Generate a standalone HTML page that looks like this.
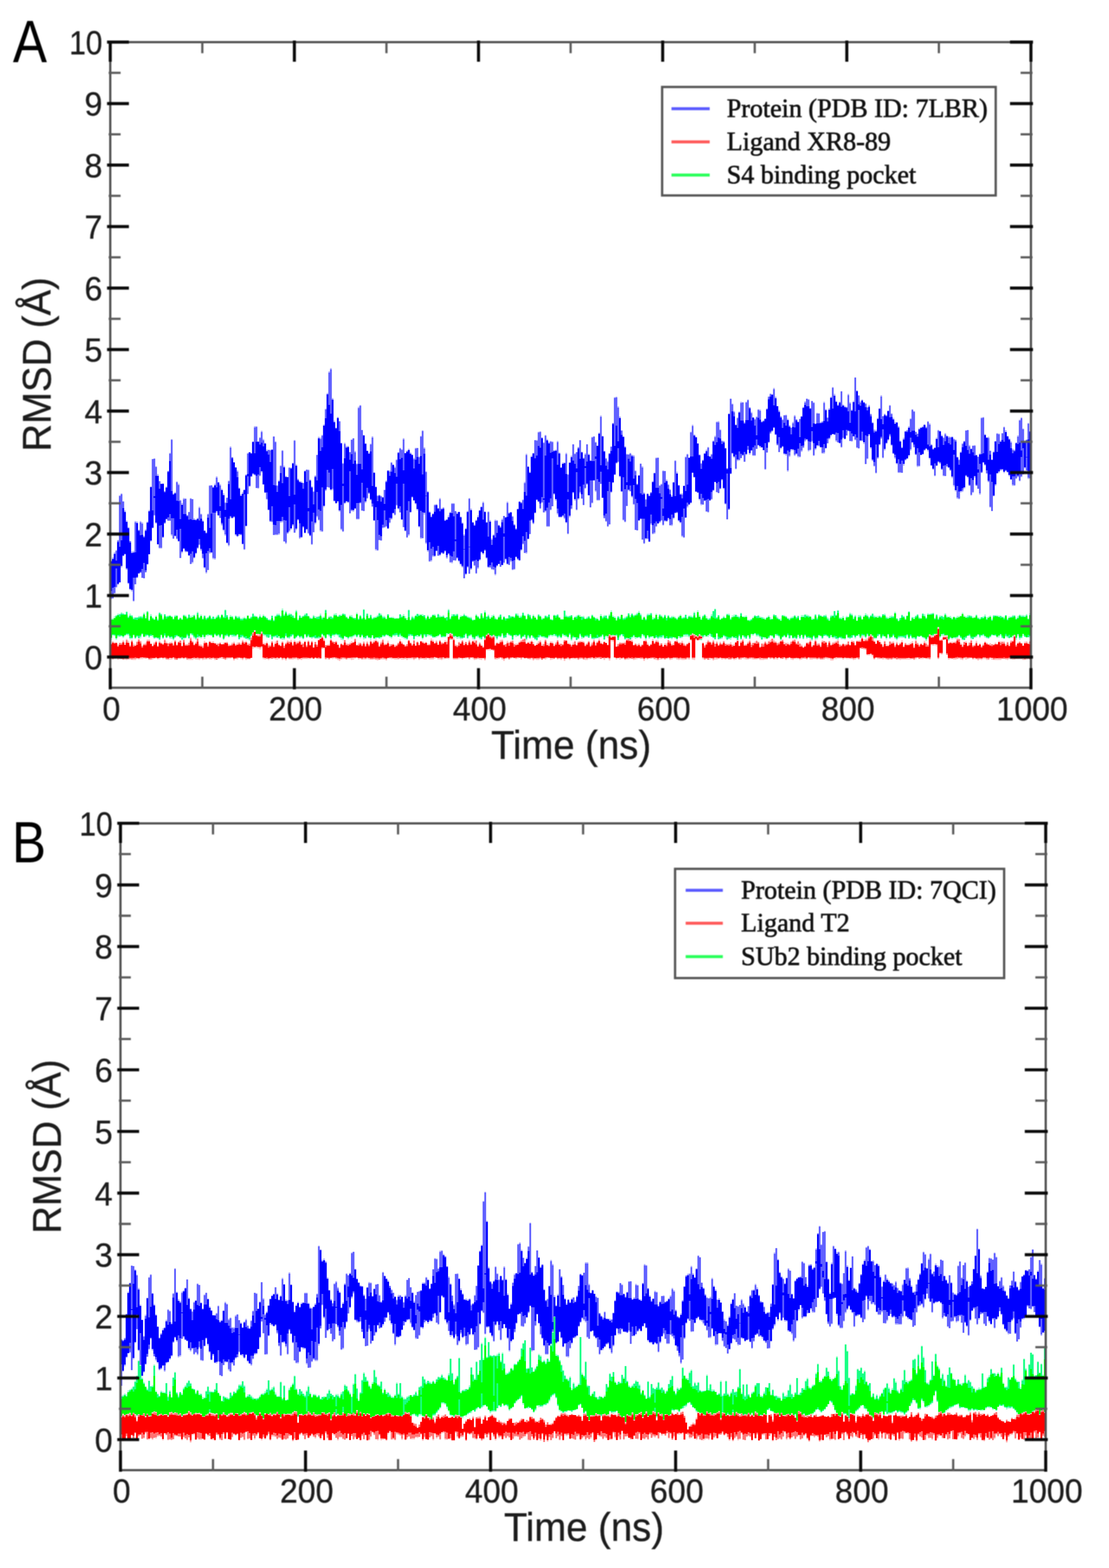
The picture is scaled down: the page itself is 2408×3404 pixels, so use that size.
<!DOCTYPE html>
<html lang="en">
<head>
<meta charset="utf-8">
<title>RMSD plots</title>
<style>
html,body{margin:0;padding:0;background:#fff;}
body{width:2408px;height:3404px;overflow:hidden;}
svg{display:block;}
text{font-family:"Liberation Sans",Arial,Helvetica,sans-serif;fill:#1c1c1c;}
.tl text,.al{stroke:#1c1c1c;stroke-width:0.6px;}
.tl text{font-size:72px;}
.al{font-size:87px;}
.lt{font-family:"Liberation Serif","Times New Roman",serif;font-size:56.5px;fill:#111;stroke:#111;stroke-width:1.2px;}
.pl{fill:#000;}
.frame{fill:none;stroke:#505050;stroke-width:4.8;}
.maj{fill:none;stroke:#0a0a0a;stroke-width:6.6;}
.mnr{fill:none;stroke:#5a5a5a;stroke-width:4.8;}
.lbox{fill:#fff;stroke:#555;stroke-width:5;}
.soft{filter:blur(1.2px);}
.tsoft{filter:blur(0.6px);}
</style>
</head>
<body>
<svg width="2408" height="3404" viewBox="0 0 2408 3404">
<defs>

<clipPath id="clipA"><rect x="239.4" y="91.5" width="1999.1" height="1401.5"/></clipPath>
<clipPath id="clipB"><rect x="261.6" y="1787.5" width="2009" height="1404.1"/></clipPath>
</defs>
<rect width="2408" height="3404" fill="#fff"/>
<g class="tsoft">
<g class="traces" clip-path="url(#clipA)">
<path d="M239.4 1216H243.2V1210H246.9V1199H250.7V1194H254.4V1172H258.2V1075H261.9V1071H265.7V1088H269.5V1108H273.2V1130H277V1144H280.7V1174H284.5V1197H288.3V1196H292V1131H295.8V1132H299.5V1150H303.3V1131H307V1134H310.8V1163H314.6V1149H318.3V1132H322.1V1107H325.8V1056H329.6V996H333.3V995H337.1V1012H340.9V1029H344.6V1044H348.4V1050H352.1V1049H355.9V1066H359.6V1056H363.4V1022H367.2V983H370.9V953H374.7V1071H378.4V1068H382.2V1045H386V1050H389.7V1085H393.5V1092H397.2V1081H401V1082H404.7V1118H408.5V1111H412.3V1081H416V1083H419.8V1125H423.5V1128H427.3V1124H431V1100H434.8V1115H438.6V1129H442.3V1151H446.1V1155H449.8V1115H453.6V1053H461.1V1056H464.9V1050H468.6V1034H472.4V1046H476.1V1051H479.9V1061H483.7V1071H487.4V1090H491.2V1080H494.9V1043H498.7V969H502.4V992H506.2V1003H510V1014H513.7V1021H517.5V1058H521.2V1073H525V1068H528.7V1062H532.5V1030H536.3V983H540V981H543.8V983H547.5V958H551.3V925H558.8V958H562.6V949H566.3V935H570.1V953H573.8V961H577.6V976H588.9V975H592.6V947H596.4V958H600.1V1053H603.9V1042H607.7V1010H611.4V977H615.2V1011H618.9V1033H622.7V1035H626.4V1014H630.2V1015H634V1005H637.7V955H641.5V1008H645.2V1039H649V1044H652.7V1045H656.5V1048H660.3V1022H664V1019H671.5V1041H675.3V1056H679.1V1066H682.8V1032H686.6V987H690.3V948H694.1V950H697.8V944H701.6V921H705.4V887H709.1V853H712.9V806H716.6V799H720.4V864H724.1V913H727.9V928H731.7V905H735.4V914H739.2V961H742.9V1005H746.7V961H750.4V968H758V981H761.7V954H765.5V951H769.2V979H773V1006H776.8V883H780.5V879H784.3V933H788V944H791.8V962H795.5V978H799.3V982H803.1V963H806.8V947H810.6V1025H814.3V1056H818.1V1075H821.8V1074H825.6V1076H829.4V1079H833.1V1063H836.9V1043H840.6V1021H848.1V1003H851.9V1008H855.7V1013H859.4V997H863.2V982H866.9V972H870.7V975H874.5V951H878.2V983H882V978H885.7V974H889.5V982H893.2V986H897V994H900.8V972H908.3V991H912V946H915.8V934H919.5V971H923.3V1023H927.1V1066H930.8V1110H934.6V1119H938.3V1115H942.1V1095H945.8V1094H949.6V1103H953.4V1081H957.1V1103H960.9V1101H964.6V1128H968.4V1127H972.2V1119H975.9V1111H979.7V1092H987.2V1109H990.9V1112H994.7V1111H998.5V1121H1002.2V1134H1006V1160H1009.7V1146H1013.5V1109H1017.2V1081H1021V1104H1024.8V1133H1028.5V1138H1032.3V1128H1036V1119H1039.8V1107H1043.5V1099H1047.3V1089H1051.1V1110H1054.8V1133H1058.6V1110H1062.3V1129H1066.1V1169H1069.9V1160H1073.6V1128H1077.4V1129H1081.1V1139H1084.9V1142H1088.6V1126H1092.4V1120H1096.2V1122H1099.9V1089H1103.7V1112H1107.4V1111H1111.2V1120H1114.9V1138H1118.7V1147H1122.5V1104H1126.2V1088H1130V1090H1133.7V1084H1137.5V1046H1141.2V985H1145V1012H1148.8V1024H1152.5V989H1156.3V983H1160V955H1167.6V937H1171.3V936H1175.1V950H1178.8V960H1182.6V944H1186.3V953H1190.1V959H1193.9V957H1197.6V958H1201.4V978H1205.1V976H1208.9V957H1212.6V982H1216.4V1014H1220.2V1004H1227.7V983H1231.4V1029H1235.2V1004H1239V989H1242.7V964H1246.5V984H1250.2V981H1254V970H1257.7V955H1261.5V981H1265.3V993H1269V984H1272.8V964H1276.5V985H1280.3V999H1284V948H1287.8V947H1291.6V959H1295.3V967H1299.1V939H1302.8V902H1306.6V946H1310.3V979H1314.1V994H1317.9V1000H1321.6V984H1325.4V969H1329.1V918H1332.9V862H1336.7V861H1340.4V882H1344.2V904H1347.9V934H1351.7V947H1355.4V969H1359.2V985H1363V986H1366.7V983H1370.5V987H1374.2V988H1378V1021H1381.7V1050H1385.5V1031H1389.3V1006H1393V1012H1396.8V1069H1400.5V1083H1404.3V1071H1408V1074H1411.8V1068H1415.6V1044H1419.3V1026H1423.1V993H1430.6V1053H1434.4V1050H1438.1V1021H1441.9V1022H1445.6V1041H1449.4V1051H1453.1V1062H1456.9V1075H1460.7V1046H1464.4V999H1468.2V1024H1471.9V1053H1475.7V1071H1483.2V1054H1487V991H1490.7V985H1494.5V993H1498.2V937H1502V922H1505.7V943H1509.5V948H1513.3V962H1517V987H1520.8V1005H1524.5V998H1528.3V983H1532.1V976H1535.8V970H1539.6V990H1543.3V985H1547.1V956H1550.8V946H1554.6V915H1558.4V914H1562.1V932H1565.9V956H1569.6V957H1573.4V972H1577.1V1016H1580.9V897H1584.7V865H1588.4V876H1592.2V892H1595.9V921H1599.7V906H1603.4V893H1607.2V872H1611V873H1614.7V916H1618.5V872H1622.2V867H1626V884H1629.8V894H1633.5V906H1637.3V909H1641V904H1644.8V888H1648.5V889H1652.3V914H1656.1V912H1659.8V908H1663.6V886H1667.3V860H1671.1V854H1674.8V855H1678.6V842H1682.4V861H1686.1V881H1689.9V890H1693.6V903H1697.4V910H1701.1V901H1704.9V900H1708.7V909H1712.4V923H1716.2V928H1719.9V916H1723.7V901H1727.5V910H1731.2V915H1735V909H1738.7V903H1742.5V883H1746.2V871H1750V865H1753.8V866H1757.5V886H1761.3V870H1765V873H1768.8V919H1772.5V896H1776.3V897H1780.1V916H1783.8V914H1787.6V872H1791.3V888H1795.1V906H1798.8V886H1802.6V861H1806.4V840H1810.1V855H1813.9V870H1817.6V878H1821.4V872H1825.2V849H1828.9V878H1832.7V881H1836.4V883H1840.2V855H1843.9V873H1847.7V889H1851.5V870H1855.2V819H1859V848H1862.7V858H1866.5V871H1870.2V867H1874V873H1877.8V875H1881.5V883H1885.3V879H1889V898H1892.8V916H1896.5V932H1900.3V933H1904.1V907H1907.8V886H1911.6V858H1915.3V903H1919.1V898H1922.9V901H1926.6V891H1930.4V879H1934.1V897H1937.9V907H1941.6V916H1949.2V925H1952.9V956H1956.7V970H1960.4V950H1964.2V935H1967.9V933H1971.7V925H1975.5V908H1979.2V888H1983V892H1986.7V937H1990.5V941H1994.2V929H1998V927H2001.8V925H2005.5V921H2009.3V926H2013V914H2016.8V919H2020.6V964H2024.3V973H2028.1V971H2031.8V950H2035.6V933H2039.3V935H2043.1V944H2046.9V949H2050.6V940H2054.4V946H2058.1V947H2061.9V948H2069.4V952H2073.2V954H2076.9V991H2080.7V997H2084.4V980H2088.2V962H2091.9V957H2095.7V934H2099.5V933H2103.2V966H2107V973H2110.7V967H2114.5V966H2118.3V987H2122V991H2125.8V984H2129.5V906H2133.3V905H2137V942H2140.8V949H2144.6V948H2148.3V978H2152.1V997H2155.8V979H2159.6V957H2163.3V940H2167.1V941H2170.9V956H2174.6V940H2178.4V926H2182.1V934H2185.9V946H2189.6V952H2193.4V958H2197.2V974H2200.9V976H2204.7V961H2208.4V945H2212.2V911H2216V906H2219.7V930H2223.5V959H2227.2V954H2231V918H2234.7V936H2238.5V1039H2234.7V1040H2231V1022H2227.2V1017H2223.5V1030H2219.7V1036H2216V1045H2212.2V1036H2208.4V1040H2204.7V1055H2197.2V1042H2193.4V1034H2189.6V1026H2185.9V1023H2182.1V1027H2178.4V1021H2174.6V1022H2170.9V1027H2167.1V1029H2163.3V1055H2159.6V1077H2155.8V1110H2152.1V1102H2148.3V1047H2144.6V1029H2140.8V1011H2137V1005H2133.3V1027H2129.5V1074H2125.8V1061H2122V1055H2118.3V1037H2114.5V1070H2110.7V1076H2107V1055H2103.2V1038H2099.5V1034H2095.7V1061H2091.9V1068H2088.2V1069H2084.4V1084H2080.7V1083H2076.9V1067H2073.2V1056H2069.4V1038H2065.6V1022H2061.9V1016H2058.1V1014H2054.4V1034H2046.9V1020H2043.1V1007H2039.3V1004H2035.6V1012H2031.8V1034H2028.1V1020H2024.3V1012H2020.6V997H2016.8V980H2013V975H2009.3V979H2005.5V987H2001.8V988H1998V1013H1994.2V1014H1990.5V988H1986.7V972H1983V962H1979.2V978H1975.5V991H1971.7V997H1967.9V1000H1964.2V1011H1960.4V1027H1949.2V1008H1945.4V996H1941.6V985H1937.9V968H1934.1V948H1930.4V957H1926.6V964H1922.9V978H1919.1V995H1915.3V953H1911.6V967H1907.8V996H1904.1V1028H1900.3V1013H1896.5V1001H1892.8V974H1889V946H1885.3V997H1881.5V1008H1877.8V964H1874V958H1866.5V974H1862.7V973H1859V956H1855.2V948H1851.5V959H1847.7V958H1843.9V936H1840.2V946H1836.4V954H1832.7V952H1828.9V972H1825.2V963H1821.4V961H1817.6V959H1813.9V944H1810.1V943H1806.4V947H1802.6V954H1798.8V963H1795.1V974H1791.3V985H1783.8V972H1780.1V969H1772.5V977H1768.8V990H1765V960H1761.3V978H1757.5V980H1753.8V956H1750V959H1746.2V973H1742.5V981H1738.7V993H1731.2V987H1727.5V990H1723.7V978H1716.2V992H1712.4V1024H1708.7V989H1704.9V987H1701.1V970H1697.4V975H1693.6V982H1689.9V967H1686.1V944H1682.4V929H1678.6V937H1674.8V942H1671.1V962H1667.3V983H1663.6V1020H1659.8V978H1656.1V972H1648.5V968H1644.8V975H1641V990H1633.5V979H1629.8V987H1626V977H1622.2V988H1618.5V1003H1614.7V990H1611V995H1607.2V1000H1603.4V1001H1599.7V1019H1595.9V994H1592.2V986H1588.4V1029H1584.7V1107H1580.9V1128H1577.1V1095H1573.4V1062H1569.6V1043H1565.9V1062H1562.1V1071H1558.4V1069H1554.6V1047H1550.8V1065H1547.1V1085H1543.3V1087H1539.6V1113H1535.8V1111H1532.1V1088H1528.3V1096H1524.5V1097H1520.8V1086H1517V1070H1513.3V1068H1509.5V1037H1505.7V1027H1502V1093H1498.2V1096H1494.5V1102H1490.7V1124H1487V1168H1483.2V1166H1479.4V1136H1475.7V1132H1471.9V1114H1468.2V1115H1464.4V1127H1460.7V1142H1456.9V1141H1453.1V1128H1449.4V1132H1441.9V1141H1438.1V1131H1434.4V1135H1430.6V1138H1426.8V1144H1423.1V1159H1419.3V1160H1415.6V1139H1411.8V1177H1408V1171H1400.5V1181H1396.8V1172H1393V1127H1389.3V1131H1385.5V1152H1381.7V1151H1378V1096H1374.2V1080H1370.5V1067H1366.7V1066H1363V1099H1359.2V1134H1355.4V1130H1351.7V1068H1347.9V1036H1344.2V1004H1340.4V1007H1336.7V1031H1332.9V1049H1329.1V1070H1325.4V1139H1321.6V1144H1317.9V1133H1314.1V1126H1310.3V1081H1306.6V1051H1302.8V1087H1295.3V1068H1291.6V1044H1287.8V1093H1284V1102H1280.3V1076H1276.5V1052H1272.8V1061H1269V1097H1265.3V1083H1261.5V1071H1257.7V1085H1254V1108H1250.2V1087H1246.5V1071H1242.7V1106H1239V1123H1235.2V1160H1231.4V1136H1227.7V1127H1223.9V1122H1220.2V1123H1212.6V1117H1208.9V1087H1205.1V1074H1201.4V1099H1197.6V1108H1193.9V1144H1186.3V1112H1182.6V1113H1178.8V1092H1175.1V1105H1171.3V1090H1167.6V1086H1163.8V1114H1160V1138H1156.3V1130H1152.5V1160H1148.8V1171H1145V1202H1141.2V1201H1137.5V1182H1133.7V1196H1130V1218H1126.2V1216H1122.5V1210H1118.7V1237H1114.9V1238H1111.2V1220H1107.4V1227H1103.7V1225H1099.9V1216H1096.2V1223H1092.4V1227H1088.6V1231H1084.9V1225H1081.1V1230H1077.4V1249H1073.6V1238H1069.9V1237H1066.1V1233H1058.6V1213H1054.8V1196H1051.1V1204H1047.3V1199H1043.5V1217H1039.8V1235H1036V1246H1032.3V1229H1028.5V1220H1024.8V1237H1021V1246H1017.2V1232H1013.5V1248H1009.7V1256H1006V1232H1002.2V1227H998.5V1220H994.7V1213H990.9V1218H987.2V1217H983.4V1223H979.7V1222H975.9V1204H972.2V1213H968.4V1198H964.6V1203H960.9V1202H957.1V1207H949.6V1197H945.8V1209H938.3V1219H934.6V1220H930.8V1198H927.1V1181H923.3V1117H919.5V1169H915.8V1170H912V1145H908.3V1108H904.5V1095H900.8V1088H897V1081H893.2V1113H889.5V1163H885.7V1168H882V1153H878.2V1145H874.5V1129H870.7V1113H866.9V1106H863.2V1098H859.4V1119H855.7V1115H851.9V1128H848.1V1136H844.4V1148H840.6V1144H836.9V1146H833.1V1147H829.4V1174H825.6V1173H821.8V1196H818.1V1195H814.3V1131H810.6V1101H806.8V1086H803.1V1072H799.3V1083H795.5V1092H791.8V1110H788V1109H784.3V1093H780.5V1128H773V1105H769.2V1111H765.5V1110H761.7V1115H758V1092H754.2V1091H750.4V1094H746.7V1155H742.9V1151H739.2V1111H735.4V1091H731.7V1094H727.9V1089H724.1V1064H720.4V1065H716.6V1059H712.9V1058H709.1V1066H705.4V1101H701.6V1155H697.8V1154H694.1V1130H690.3V1123H686.6V1138H682.8V1156H679.1V1183H675.3V1164H671.5V1159H667.8V1151H664V1158H660.3V1146H656.5V1167H652.7V1170H649V1130H645.2V1151H641.5V1157H637.7V1142H634V1150H630.2V1155H626.4V1159H622.7V1181H618.9V1176H615.2V1134H611.4V1135H607.7V1161H603.9V1162H592.6V1134H588.9V1133H585.1V1108H581.4V1085H577.6V1070H573.8V1052H570.1V1026H566.3V1034H562.6V1061H558.8V1060H555V1032H551.3V1030H547.5V1035H543.8V1056H540V1073H536.3V1143H532.5V1194H528.7V1182H525V1162H521.2V1163H517.5V1166H513.7V1163H510V1124H506.2V1126H502.4V1125H498.7V1186H494.9V1180H491.2V1163H487.4V1153H483.7V1141H479.9V1125H476.1V1120H472.4V1113H468.6V1215H464.9V1214H461.1V1201H457.3V1202H453.6V1238H449.8V1245H446.1V1234H442.3V1213H438.6V1196H434.8V1184H431V1191H427.3V1203H423.5V1212H419.8V1223H416V1225H412.3V1207H408.5V1199H401V1192H397.2V1201H393.5V1212H389.7V1176H386V1171H382.2V1165H378.4V1170H374.7V1163H370.9V1131H363.4V1128H359.6V1137H355.9V1167H352.1V1191H344.6V1182H340.9V1137H337.1V1120H333.3V1147H329.6V1176H325.8V1204H322.1V1226H318.3V1243H314.6V1256H310.8V1255H307V1244H303.3V1246H299.5V1255H295.8V1269H292V1306H288.3V1284H284.5V1281H280.7V1268H277V1237H273.2V1204H269.5V1208H265.7V1232H261.9V1265H258.2V1270H254.4V1276H250.7V1289H246.9V1300H243.2V1301H239.4Z" fill="#b8b8ff"/>
<path d="M239.4 1218H243.2V1213H246.9V1202H250.7V1196H254.4V1174H258.2V1077H261.9V1073H265.7V1089H269.5V1111H273.2V1133H277V1146H280.7V1175H284.5V1200H288.3V1199H292V1134H295.8V1135H299.5V1151H303.3V1134H307V1137H310.8V1165H314.6V1151H318.3V1134H322.1V1110H325.8V1057H329.6V997H333.3V996H337.1V1014H340.9V1033H344.6V1045H348.4V1050H355.9V1067H359.6V1058H363.4V1023H367.2V985H370.9V955H374.7V1073H378.4V1071H382.2V1047H386V1053H389.7V1087H393.5V1096H397.2V1084H401V1083H404.7V1119H408.5V1112H412.3V1083H416V1084H419.8V1128H427.3V1126H431V1103H434.8V1117H438.6V1132H442.3V1152H446.1V1157H449.8V1117H453.6V1055H457.3V1054H461.1V1058H464.9V1053H468.6V1037H472.4V1047H476.1V1054H479.9V1064H483.7V1075H487.4V1092H491.2V1081H494.9V1045H498.7V972H502.4V993H506.2V1004H510V1015H513.7V1024H517.5V1060H521.2V1076H525V1072H528.7V1064H532.5V1031H536.3V985H540V982H543.8V984H547.5V959H551.3V928H555V927H558.8V959H562.6V951H566.3V938H570.1V956H573.8V963H577.6V979H581.4V977H585.1V978H588.9V976H592.6V948H596.4V960H600.1V1055H603.9V1045H607.7V1012H611.4V979H615.2V1014H618.9V1035H622.7V1036H626.4V1016H634V1005H637.7V957H641.5V1011H645.2V1041H649V1046H652.7V1048H656.5V1049H660.3V1022H664V1020H667.8V1021H671.5V1042H675.3V1057H679.1V1068H682.8V1034H686.6V988H690.3V951H694.1V953H697.8V946H701.6V924H705.4V889H709.1V856H712.9V809H716.6V802H720.4V867H724.1V916H727.9V930H731.7V907H735.4V915H739.2V962H742.9V1007H746.7V964H750.4V971H754.2V970H758V982H761.7V955H765.5V952H769.2V982H773V1008H776.8V886H780.5V881H784.3V934H788V945H791.8V963H795.5V979H799.3V985H803.1V965H806.8V950H810.6V1026H814.3V1057H818.1V1077H821.8V1075H825.6V1078H829.4V1079H833.1V1064H836.9V1045H840.6V1021H844.4V1024H848.1V1005H851.9V1009H855.7V1016H859.4V999H863.2V982H866.9V974H870.7V977H874.5V954H878.2V984H882V980H885.7V977H889.5V985H893.2V988H897V997H900.8V974H904.5V973H908.3V993H912V948H915.8V936H919.5V974H923.3V1025H927.1V1068H930.8V1112H934.6V1122H938.3V1115H942.1V1097H945.8V1096H949.6V1103H953.4V1084H957.1V1105H960.9V1103H964.6V1130H968.4V1128H972.2V1123H975.9V1113H979.7V1094H987.2V1110H990.9V1115H994.7V1111H998.5V1123H1002.2V1136H1006V1163H1009.7V1148H1013.5V1111H1017.2V1083H1021V1107H1024.8V1134H1028.5V1141H1032.3V1130H1036V1123H1039.8V1108H1043.5V1101H1047.3V1092H1051.1V1111H1054.8V1134H1058.6V1112H1062.3V1132H1066.1V1172H1069.9V1162H1073.6V1131H1081.1V1141H1084.9V1144H1088.6V1129H1092.4V1120H1096.2V1123H1099.9V1092H1103.7V1114H1107.4V1112H1111.2V1122H1114.9V1139H1118.7V1148H1122.5V1105H1126.2V1089H1130V1091H1133.7V1086H1137.5V1049H1141.2V988H1145V1013H1148.8V1026H1152.5V992H1156.3V984H1160V956H1163.8V957H1167.6V939H1171.3V938H1175.1V950H1178.8V962H1182.6V946H1186.3V956H1190.1V962H1193.9V959H1197.6V960H1201.4V978H1208.9V960H1212.6V984H1216.4V1015H1220.2V1007H1223.9V1005H1227.7V986H1231.4V1031H1235.2V1004H1239V992H1242.7V965H1246.5V986H1250.2V982H1254V972H1257.7V956H1261.5V981H1265.3V995H1269V987H1272.8V965H1276.5V987H1280.3V1000H1284V950H1287.8V948H1291.6V961H1295.3V968H1299.1V941H1302.8V905H1306.6V947H1310.3V979H1314.1V996H1317.9V1003H1321.6V984H1325.4V970H1329.1V919H1332.9V864H1336.7V863H1340.4V885H1344.2V907H1347.9V935H1351.7V948H1355.4V970H1359.2V987H1366.7V985H1370.5V989H1374.2V991H1378V1023H1381.7V1051H1385.5V1032H1389.3V1007H1393V1015H1396.8V1071H1400.5V1085H1404.3V1072H1408V1077H1411.8V1069H1415.6V1046H1419.3V1027H1423.1V995H1426.8V994H1430.6V1055H1434.4V1052H1438.1V1023H1445.6V1044H1449.4V1053H1453.1V1064H1456.9V1078H1460.7V1047H1464.4V1001H1468.2V1028H1471.9V1053H1475.7V1073H1479.4V1074H1483.2V1055H1487V993H1490.7V987H1494.5V994H1498.2V939H1502V925H1505.7V945H1509.5V949H1513.3V963H1517V987H1520.8V1007H1524.5V999H1528.3V985H1532.1V979H1535.8V972H1539.6V991H1543.3V987H1547.1V958H1550.8V949H1554.6V917H1562.1V934H1565.9V958H1569.6V959H1573.4V973H1577.1V1017H1580.9V899H1584.7V866H1588.4V878H1592.2V895H1595.9V923H1599.7V908H1603.4V895H1607.2V875H1611V874H1614.7V918H1618.5V874H1622.2V869H1626V885H1629.8V897H1633.5V906H1637.3V911H1641V906H1644.8V890H1648.5V892H1652.3V916H1656.1V914H1659.8V909H1663.6V888H1667.3V862H1671.1V856H1674.8V857H1678.6V845H1682.4V864H1686.1V882H1689.9V893H1693.6V905H1697.4V912H1701.1V902H1708.7V912H1712.4V925H1716.2V929H1719.9V919H1723.7V904H1727.5V911H1731.2V916H1735V910H1738.7V904H1742.5V885H1746.2V874H1750V866H1753.8V868H1757.5V886H1761.3V871H1765V875H1768.8V920H1772.5V898H1780.1V918H1783.8V916H1787.6V875H1791.3V890H1795.1V907H1798.8V889H1802.6V863H1806.4V842H1810.1V859H1813.9V872H1817.6V880H1821.4V873H1825.2V850H1828.9V880H1832.7V884H1840.2V858H1843.9V876H1847.7V891H1851.5V873H1855.2V820H1859V848H1862.7V859H1866.5V874H1870.2V869H1874V873H1877.8V877H1881.5V885H1885.3V882H1889V900H1892.8V918H1896.5V935H1900.3V936H1904.1V909H1907.8V887H1911.6V861H1915.3V904H1919.1V900H1922.9V902H1926.6V892H1930.4V881H1934.1V899H1937.9V910H1941.6V920H1945.4V917H1949.2V927H1952.9V958H1956.7V972H1960.4V953H1964.2V937H1967.9V935H1971.7V928H1975.5V910H1979.2V890H1983V894H1986.7V938H1990.5V942H1994.2V932H1998V929H2001.8V927H2005.5V922H2009.3V928H2013V916H2016.8V922H2020.6V966H2024.3V975H2028.1V972H2031.8V953H2035.6V935H2039.3V936H2043.1V947H2046.9V951H2050.6V943H2054.4V946H2058.1V950H2065.6V948H2069.4V954H2073.2V956H2076.9V993H2080.7V999H2084.4V982H2088.2V964H2091.9V958H2095.7V935H2099.5V934H2103.2V969H2107V975H2110.7V968H2118.3V988H2122V992H2125.8V986H2129.5V908H2133.3V907H2137V944H2140.8V950H2144.6V951H2148.3V979H2152.1V998H2155.8V982H2159.6V958H2163.3V942H2167.1V943H2170.9V959H2174.6V941H2178.4V928H2182.1V938H2185.9V947H2189.6V953H2193.4V961H2197.2V977H2200.9V978H2204.7V961H2208.4V948H2212.2V913H2216V908H2219.7V932H2223.5V960H2227.2V955H2231V920H2234.7V936H2238.5V1038H2234.7V1037H2231V1021H2227.2V1015H2223.5V1029H2219.7V1034H2216V1043H2212.2V1034H2208.4V1038H2204.7V1053H2200.9V1052H2197.2V1041H2193.4V1031H2189.6V1025H2185.9V1022H2182.1V1024H2178.4V1019H2174.6V1020H2170.9V1024H2167.1V1027H2163.3V1052H2159.6V1077H2155.8V1109H2152.1V1100H2148.3V1045H2144.6V1027H2140.8V1009H2137V1004H2133.3V1026H2129.5V1071H2125.8V1061H2122V1054H2118.3V1034H2114.5V1068H2110.7V1074H2107V1054H2103.2V1035H2099.5V1033H2095.7V1058H2091.9V1065H2088.2V1066H2084.4V1082H2080.7V1080H2076.9V1064H2073.2V1053H2069.4V1035H2065.6V1021H2061.9V1015H2058.1V1012H2054.4V1033H2050.6V1032H2046.9V1019H2043.1V1005H2039.3V1003H2035.6V1011H2031.8V1032H2028.1V1018H2024.3V1010H2020.6V994H2016.8V977H2013V974H2009.3V977H2005.5V986H2001.8V988H1998V1011H1990.5V987H1986.7V970H1983V960H1979.2V975H1975.5V988H1971.7V995H1967.9V998H1964.2V1007H1960.4V1026H1956.7V1025H1949.2V1006H1945.4V993H1941.6V985H1937.9V966H1934.1V945H1930.4V954H1926.6V962H1922.9V975H1919.1V993H1915.3V951H1911.6V965H1907.8V994H1904.1V1026H1900.3V1011H1896.5V999H1892.8V971H1889V943H1885.3V995H1881.5V1007H1877.8V960H1874V956H1866.5V973H1862.7V971H1859V954H1855.2V947H1851.5V957H1843.9V936H1840.2V945H1836.4V953H1832.7V950H1828.9V970H1825.2V962H1821.4V960H1817.6V956H1813.9V944H1810.1V942H1806.4V944H1802.6V952H1798.8V962H1795.1V973H1791.3V982H1787.6V983H1783.8V971H1780.1V967H1772.5V974H1768.8V988H1765V957H1761.3V976H1757.5V977H1753.8V954H1750V956H1746.2V971H1742.5V978H1738.7V991H1735V990H1731.2V985H1727.5V987H1723.7V976H1719.9V975H1716.2V989H1712.4V1021H1708.7V986H1704.9V985H1701.1V970H1697.4V972H1693.6V981H1689.9V966H1686.1V944H1682.4V929H1678.6V936H1674.8V940H1671.1V960H1667.3V982H1663.6V1018H1659.8V977H1656.1V971H1652.3V969H1648.5V966H1644.8V974H1641V988H1633.5V978H1629.8V984H1626V976H1622.2V986H1618.5V1002H1614.7V988H1611V994H1607.2V998H1599.7V1017H1595.9V991H1592.2V984H1588.4V1029H1584.7V1106H1580.9V1127H1577.1V1094H1573.4V1060H1569.6V1041H1565.9V1061H1562.1V1070H1558.4V1068H1554.6V1046H1550.8V1065H1547.1V1083H1543.3V1087H1539.6V1111H1535.8V1110H1532.1V1087H1528.3V1095H1524.5V1094H1520.8V1083H1517V1070H1513.3V1067H1509.5V1036H1505.7V1026H1502V1091H1498.2V1096H1494.5V1099H1490.7V1124H1487V1166H1483.2V1163H1479.4V1134H1475.7V1130H1471.9V1113H1464.4V1124H1460.7V1139H1456.9V1140H1453.1V1125H1449.4V1132H1445.6V1131H1441.9V1139H1438.1V1129H1434.4V1133H1430.6V1136H1426.8V1142H1423.1V1156H1419.3V1158H1415.6V1136H1411.8V1176H1408V1169H1400.5V1179H1396.8V1171H1393V1127H1389.3V1130H1385.5V1151H1381.7V1150H1378V1094H1374.2V1078H1370.5V1066H1366.7V1063H1363V1098H1359.2V1132H1355.4V1128H1351.7V1067H1347.9V1034H1344.2V1002H1340.4V1005H1336.7V1031H1332.9V1047H1329.1V1068H1325.4V1138H1321.6V1142H1317.9V1131H1314.1V1124H1310.3V1081H1306.6V1050H1302.8V1085H1295.3V1065H1291.6V1043H1287.8V1091H1284V1101H1280.3V1075H1276.5V1051H1272.8V1059H1269V1096H1265.3V1082H1261.5V1068H1257.7V1082H1254V1106H1250.2V1084H1246.5V1069H1242.7V1104H1239V1120H1235.2V1158H1231.4V1134H1227.7V1124H1223.9V1119H1220.2V1123H1212.6V1114H1208.9V1084H1205.1V1072H1201.4V1099H1197.6V1106H1193.9V1142H1186.3V1109H1182.6V1112H1178.8V1090H1175.1V1103H1171.3V1089H1167.6V1085H1163.8V1114H1160V1136H1156.3V1129H1152.5V1159H1148.8V1170H1145V1199H1141.2V1200H1137.5V1180H1133.7V1193H1130V1216H1126.2V1214H1122.5V1209H1118.7V1235H1114.9V1236H1111.2V1217H1107.4V1226H1103.7V1225H1099.9V1213H1096.2V1221H1092.4V1227H1088.6V1230H1084.9V1224H1081.1V1228H1077.4V1246H1073.6V1236H1069.9V1235H1066.1V1231H1058.6V1211H1054.8V1195H1051.1V1201H1047.3V1199H1043.5V1215H1039.8V1232H1036V1244H1032.3V1227H1028.5V1219H1024.8V1235H1021V1245H1017.2V1231H1013.5V1246H1009.7V1255H1006V1230H1002.2V1224H998.5V1217H994.7V1211H990.9V1216H983.4V1220H975.9V1202H972.2V1210H968.4V1196H964.6V1202H960.9V1200H957.1V1204H953.4V1206H949.6V1196H945.8V1207H942.1V1206H938.3V1216H934.6V1218H930.8V1195H927.1V1178H923.3V1113H919.5V1168H915.8V1167H912V1143H908.3V1105H904.5V1093H900.8V1086H897V1079H893.2V1112H889.5V1160H885.7V1166H882V1153H878.2V1144H874.5V1128H870.7V1112H866.9V1104H863.2V1096H859.4V1117H855.7V1114H851.9V1126H848.1V1134H844.4V1148H840.6V1142H836.9V1144H833.1V1145H829.4V1173H825.6V1172H821.8V1194H818.1V1192H814.3V1130H810.6V1099H806.8V1085H803.1V1071H799.3V1081H795.5V1089H791.8V1109H788V1108H784.3V1092H780.5V1126H773V1104H769.2V1108H761.7V1114H758V1090H754.2V1088H750.4V1092H746.7V1153H742.9V1148H739.2V1108H735.4V1088H731.7V1092H727.9V1087H724.1V1061H720.4V1063H716.6V1058H712.9V1057H709.1V1064H705.4V1098H701.6V1153H697.8V1151H694.1V1128H690.3V1120H686.6V1135H682.8V1155H679.1V1181H675.3V1163H671.5V1157H667.8V1149H664V1157H660.3V1143H656.5V1167H649V1128H645.2V1148H641.5V1156H637.7V1139H634V1147H630.2V1152H626.4V1157H622.7V1178H618.9V1175H615.2V1131H611.4V1132H607.7V1158H603.9V1160H596.4V1161H592.6V1132H585.1V1107H581.4V1083H577.6V1070H573.8V1052H570.1V1023H566.3V1032H562.6V1059H555V1031H551.3V1029H547.5V1035H543.8V1056H540V1072H536.3V1142H532.5V1192H528.7V1181H525V1161H521.2V1160H517.5V1164H513.7V1160H510V1122H506.2V1124H502.4V1122H498.7V1183H494.9V1178H491.2V1160H487.4V1150H483.7V1138H479.9V1124H476.1V1119H472.4V1110H468.6V1212H464.9V1211H461.1V1199H453.6V1237H449.8V1242H446.1V1232H442.3V1211H438.6V1193H434.8V1182H431V1190H427.3V1201H423.5V1211H419.8V1220H416V1224H412.3V1206H408.5V1197H401V1191H397.2V1198H393.5V1211H389.7V1175H386V1169H382.2V1163H378.4V1169H374.7V1160H370.9V1130H363.4V1127H359.6V1136H355.9V1167H352.1V1189H344.6V1182H340.9V1135H337.1V1118H333.3V1146H329.6V1174H325.8V1203H322.1V1225H318.3V1242H314.6V1255H310.8V1254H307V1243H303.3V1245H299.5V1254H295.8V1268H292V1304H288.3V1281H284.5V1279H280.7V1266H277V1235H273.2V1203H269.5V1206H265.7V1229H261.9V1264H258.2V1268H254.4V1274H250.7V1287H246.9V1298H243.2V1299H239.4Z" fill="#6060ff"/>
<path d="M239.4 1219H243.2V1214H246.9V1203H250.7V1217H254.4V1177H258.2V1187H261.9V1173H265.7V1103H269.5V1112H273.2V1133H277V1147H280.7V1178H284.5V1201H288.3V1200H292V1199H295.8V1136H299.5V1153H303.3V1162H307V1161H310.8V1167H314.6V1153H318.3V1135H322.1V1110H325.8V1058H329.6V1108H333.3V1077H337.1V1033H344.6V1061H348.4V1051H355.9V1069H359.6V1059H363.4V1025H367.2V1001H370.9V1066H374.7V1074H378.4V1071H382.2V1087H386V1088H389.7V1127H393.5V1096H397.2V1116H404.7V1121H408.5V1128H412.3V1127H416V1129H423.5V1130H427.3V1127H431V1130H434.8V1126H438.6V1132H442.3V1153H446.1V1158H449.8V1124H453.6V1146H457.3V1115H461.1V1059H464.9V1054H468.6V1058H472.4V1048H476.1V1099H479.9V1064H483.7V1075H487.4V1107H491.2V1092H494.9V1051H498.7V1084H502.4V995H506.2V1004H510V1015H513.7V1036H517.5V1061H521.2V1077H525V1072H528.7V1064H532.5V1033H536.3V1029H540V982H543.8V985H547.5V960H551.3V984H555V959H562.6V965H566.3V961H570.1V969H573.8V963H577.6V980H581.4V987H585.1V1003H588.9V977H592.6V1053H596.4V1054H600.1V1068H603.9V1045H607.7V1027H611.4V1049H615.2V1015H618.9V1036H626.4V1077H630.2V1018H634V1007H637.7V1074H641.5V1011H645.2V1043H649V1047H652.7V1048H656.5V1061H660.3V1024H664V1046H667.8V1103H671.5V1044H675.3V1059H679.1V1095H682.8V1036H686.6V1043H690.3V952H694.1V979H697.8V971H701.6V924H705.4V908H709.1V856H712.9V879H716.6V898H720.4V868H724.1V917H727.9V930H731.7V908H735.4V936H739.2V963H742.9V1050H746.7V995H750.4V972H754.2V971H758V998H761.7V986H765.5V1007H769.2V1000H773V1031H776.8V1007H784.3V1019H788V946H791.8V964H795.5V979H799.3V985H803.1V980H806.8V1055H810.6V1027H814.3V1058H818.1V1088H821.8V1077H825.6V1089H829.4V1081H833.1V1094H836.9V1047H840.6V1023H844.4V1033H848.1V1024H851.9V1010H855.7V1027H859.4V1035H863.2V984H866.9V997H870.7V994H874.5V1021H878.2V984H882V981H885.7V977H889.5V985H893.2V988H897V1017H900.8V998H904.5V992H908.3V1007H912V990H915.8V1030H919.5V985H923.3V1076H927.1V1069H930.8V1113H934.6V1123H938.3V1117H942.1V1111H945.8V1097H949.6V1105H953.4V1110H957.1V1106H960.9V1105H964.6V1131H968.4V1129H972.2V1123H975.9V1114H983.4V1121H987.2V1171H990.9V1116H994.7V1112H998.5V1123H1002.2V1137H1006V1192H1009.7V1149H1013.5V1112H1017.2V1187H1021V1108H1024.8V1135H1028.5V1141H1032.3V1131H1036V1123H1039.8V1109H1043.5V1101H1047.3V1128H1051.1V1112H1054.8V1135H1058.6V1165H1062.3V1133H1066.1V1183H1069.9V1163H1073.6V1167H1077.4V1157H1081.1V1141H1084.9V1146H1088.6V1134H1092.4V1158H1096.2V1124H1099.9V1122H1103.7V1115H1107.4V1113H1111.2V1131H1114.9V1141H1118.7V1150H1122.5V1106H1126.2V1090H1130V1093H1133.7V1105H1137.5V1068H1141.2V1076H1145V1014H1148.8V1027H1152.5V992H1156.3V985H1160V995H1163.8V989H1167.6V968H1171.3V972H1175.1V952H1178.8V1082H1182.6V989H1186.3V956H1190.1V963H1193.9V983H1197.6V981H1201.4V980H1205.1V979H1208.9V1009H1212.6V985H1216.4V1016H1220.2V1007H1223.9V1006H1227.7V1029H1231.4V1068H1235.2V1005H1239V993H1242.7V1000H1246.5V1007H1250.2V1017H1254V974H1257.7V996H1261.5V983H1265.3V996H1269V1012H1272.8V1002H1276.5V988H1280.3V1001H1291.6V991H1295.3V968H1299.1V942H1302.8V1010H1306.6V948H1310.3V981H1314.1V1011H1317.9V1019H1321.6V986H1325.4V979H1329.1V921H1332.9V968H1336.7V924H1340.4V958H1344.2V908H1347.9V944H1351.7V949H1355.4V972H1359.2V1047H1363V996H1366.7V1002H1370.5V991H1374.2V1039H1378V1032H1381.7V1053H1385.5V1033H1389.3V1071H1393V1074H1396.8V1073H1400.5V1100H1404.3V1073H1408V1077H1411.8V1071H1415.6V1047H1419.3V1028H1423.1V1059H1430.6V1071H1434.4V1079H1438.1V1104H1441.9V1048H1445.6V1045H1449.4V1061H1453.1V1073H1456.9V1079H1460.7V1048H1464.4V1077H1468.2V1028H1471.9V1055H1475.7V1074H1479.4V1082H1483.2V1055H1487V1066H1490.7V1052H1494.5V994H1498.2V991H1505.7V946H1509.5V950H1513.3V963H1517V989H1520.8V1018H1524.5V1001H1528.3V985H1532.1V980H1535.8V990H1539.6V992H1543.3V996H1547.1V959H1550.8V966H1554.6V960H1558.4V950H1562.1V952H1565.9V964H1569.6V961H1573.4V974H1577.1V1019H1580.9V899H1584.7V1016H1588.4V893H1592.2V904H1595.9V923H1599.7V929H1603.4V896H1607.2V913H1614.7V920H1618.5V912H1626V887H1629.8V913H1633.5V907H1637.3V924H1641V945H1644.8V907H1648.5V911H1652.3V917H1656.1V915H1659.8V910H1663.6V889H1667.3V867H1671.1V861H1674.8V857H1678.6V880H1682.4V865H1686.1V882H1689.9V895H1693.6V907H1697.4V929H1701.1V918H1704.9V924H1708.7V912H1712.4V927H1716.2V943H1719.9V927H1723.7V928H1727.5V913H1731.2V917H1735V949H1738.7V905H1742.5V886H1746.2V879H1750V882H1757.5V888H1761.3V927H1765V919H1768.8V921H1772.5V919H1783.8V918H1787.6V914H1791.3V891H1795.1V915H1798.8V890H1802.6V864H1806.4V887H1810.1V859H1813.9V873H1817.6V881H1821.4V875H1825.2V883H1828.9V881H1832.7V884H1836.4V886H1840.2V893H1843.9V918H1847.7V892H1851.5V873H1855.2V893H1859V850H1862.7V878H1866.5V881H1870.2V870H1874V875H1877.8V884H1881.5V891H1885.3V884H1889V904H1892.8V919H1896.5V939H1900.3V937H1904.1V910H1907.8V888H1911.6V910H1915.3V921H1919.1V902H1922.9V904H1926.6V893H1930.4V906H1934.1V905H1937.9V911H1941.6V920H1945.4V918H1949.2V929H1952.9V959H1956.7V973H1960.4V955H1964.2V937H1967.9V938H1971.7V929H1975.5V938H1979.2V935H1986.7V944H1990.5V948H1994.2V932H1998V929H2001.8V928H2005.5V923H2009.3V930H2013V965H2016.8V969H2020.6V967H2024.3V976H2028.1V973H2031.8V953H2035.6V971H2039.3V937H2043.1V947H2046.9V966H2050.6V958H2054.4V948H2058.1V962H2061.9V965H2065.6V950H2069.4V977H2073.2V959H2076.9V993H2080.7V1009H2084.4V983H2088.2V971H2091.9V960H2095.7V968H2099.5V977H2103.2V985H2107V975H2110.7V982H2114.5V989H2122V1019H2125.8V987H2129.5V986H2133.3V984H2137V945H2140.8V951H2144.6V998H2148.3V987H2152.1V999H2155.8V982H2159.6V959H2163.3V981H2167.1V964H2170.9V959H2174.6V955H2178.4V959H2182.1V938H2185.9V948H2189.6V955H2193.4V973H2197.2V984H2200.9V980H2204.7V963H2208.4V964H2212.2V961H2216V978H2219.7V960H2223.5V961H2227.2V992H2231V954H2234.7V938H2238.5V1024H2234.7V1022H2231V993H2227.2V1014H2223.5V973H2219.7V992H2216V1024H2212.2V1032H2208.4V1026H2204.7V1034H2197.2V1040H2193.4V1031H2189.6V1024H2185.9V1020H2182.1V1024H2178.4V1018H2170.9V1023H2167.1V1027H2163.3V1051H2159.6V1075H2155.8V1046H2152.1V1030H2148.3V1043H2144.6V1021H2140.8V1008H2137V1003H2133.3V1024H2129.5V1007H2125.8V1026H2122V1052H2118.3V1033H2114.5V1042H2110.7V1038H2107V1052H2103.2V1035H2099.5V1031H2095.7V1058H2091.9V1060H2088.2V1066H2084.4V1067H2080.7V1055H2076.9V1064H2073.2V987H2069.4V1034H2065.6V1019H2061.9V1014H2058.1V1007H2054.4V1010H2050.6V1011H2046.9V1017H2043.1V1003H2039.3V1001H2035.6V1010H2031.8V1006H2028.1V1017H2024.3V1010H2020.6V994H2016.8V976H2013V973H2009.3V976H2005.5V985H2001.8V987H1998V982H1994.2V973H1990.5V985H1986.7V965H1983V960H1979.2V950H1975.5V988H1971.7V995H1967.9V997H1964.2V1007H1960.4V1000H1956.7V1007H1952.9V997H1949.2V1005H1945.4V987H1941.6V983H1937.9V965H1934.1V942H1930.4V954H1926.6V961H1922.9V974H1919.1V932H1915.3V948H1911.6V964H1907.8V992H1904.1V965H1900.3V1003H1896.5V997H1892.8V971H1889V942H1885.3V947H1881.5V945H1877.8V960H1874V937H1870.2V956H1866.5V890H1862.7V950H1859V943H1855.2V947H1851.5V941H1847.7V936H1843.9V934H1840.2V933H1836.4V952H1832.7V934H1828.9V954H1825.2V961H1821.4V940H1817.6V939H1813.9V942H1806.4V944H1802.6V950H1798.8V952H1795.1V972H1791.3V964H1787.6V971H1783.8V970H1780.1V957H1776.3V966H1772.5V973H1768.8V962H1765V936H1761.3V959H1757.5V958H1753.8V953H1750V952H1746.2V967H1742.5V968H1738.7V962H1735V974H1731.2V984H1727.5V977H1723.7V975H1716.2V981H1712.4V978H1708.7V985H1704.9V984H1701.1V968H1697.4V972H1693.6V949H1689.9V963H1686.1V942H1682.4V927H1678.6V934H1674.8V937H1671.1V959H1667.3V972H1663.6V962H1659.8V977H1656.1V971H1652.3V968H1648.5V966H1644.8V954H1641V967H1637.3V971H1633.5V977H1629.8V983H1626V968H1622.2V985H1618.5V981H1614.7V987H1611V985H1607.2V980H1603.4V997H1599.7V987H1595.9V991H1592.2V983H1588.4V1027H1584.7V1104H1580.9V1028H1577.1V1092H1573.4V1059H1569.6V1040H1565.9V1059H1562.1V1046H1558.4V1049H1554.6V1046H1550.8V1063H1547.1V1068H1543.3V1085H1539.6V1083H1535.8V1085H1532.1V1086H1528.3V1081H1524.5V1072H1520.8V1083H1517V1068H1513.3V1067H1509.5V1035H1505.7V1026H1502V1091H1498.2V1094H1494.5V1091H1490.7V1123H1487V1104H1483.2V1122H1479.4V1133H1475.7V1129H1471.9V1111H1468.2V1113H1464.4V1124H1460.7V1117H1456.9V1127H1453.1V1124H1449.4V1130H1445.6V1129H1441.9V1120H1438.1V1083H1434.4V1131H1430.6V1136H1426.8V1132H1423.1V1136H1419.3V1140H1415.6V1117H1411.8V1175H1408V1152H1404.3V1168H1400.5V1126H1393V1125H1389.3V1129H1385.5V1092H1381.7V1083H1378V1053H1374.2V1076H1370.5V1054H1366.7V1063H1363V1053H1359.2V1062H1355.4V1036H1351.7V1066H1347.9V1033H1344.2V973H1340.4V1004H1336.7V1029H1332.9V1047H1329.1V1067H1325.4V1046H1321.6V1066H1317.9V1115H1314.1V1119H1310.3V1080H1306.6V1024H1302.8V1046H1299.1V1040H1295.3V996H1291.6V1042H1287.8V1043H1280.3V1075H1276.5V1049H1272.8V1016H1269V1052H1265.3V1073H1261.5V1056H1257.7V1082H1254V1025H1250.2V1083H1246.5V1068H1242.7V1097H1239V1119H1235.2V1084H1231.4V1133H1227.7V1115H1223.9V1119H1220.2V1121H1212.6V1104H1208.9V1083H1205.1V1071H1201.4V995H1197.6V1082H1193.9V1091H1190.1V1102H1186.3V1108H1182.6V1085H1178.8V1079H1175.1V1093H1171.3V1088H1167.6V1084H1163.8V1112H1160V1134H1156.3V1127H1152.5V1130H1148.8V1169H1145V1155H1141.2V1174H1137.5V1164H1133.7V1193H1130V1216H1126.2V1212H1122.5V1208H1118.7V1216H1114.9V1218H1111.2V1211H1107.4V1209H1103.7V1223H1099.9V1213H1096.2V1165H1092.4V1226H1088.6V1217H1084.9V1224H1081.1V1227H1077.4V1232H1073.6V1230H1069.9V1221H1066.1V1227H1062.3V1230H1058.6V1210H1054.8V1193H1051.1V1201H1047.3V1197H1043.5V1214H1039.8V1218H1036V1215H1032.3V1217H1024.8V1233H1021V1188H1017.2V1229H1013.5V1245H1009.7V1193H1006V1228H1002.2V1224H998.5V1217H994.7V1210H990.9V1175H987.2V1197H983.4V1208H979.7V1206H975.9V1201H972.2V1205H968.4V1195H964.6V1200H960.9V1199H957.1V1204H953.4V1185H949.6V1195H945.8V1206H942.1V1187H938.3V1191H934.6V1177H930.8V1194H927.1V1077H923.3V1113H919.5V1112H915.8V1109H912V1142H908.3V1105H904.5V1092H900.8V1086H897V1078H893.2V1111H889.5V1088H885.7V1108H882V1151H878.2V1050H874.5V1127H870.7V1099H866.9V1103H863.2V1050H859.4V1105H855.7V1113H851.9V1124H844.4V1146H840.6V1129H836.9V1108H833.1V1139H829.4V1164H825.6V1161H821.8V1129H818.1V1101H814.3V1129H810.6V1093H806.8V1083H803.1V1069H799.3V1059H795.5V1088H791.8V1080H788V1048H784.3V1090H780.5V1092H773V1103H769.2V1107H765.5V1106H761.7V1023H758V1089H754.2V1088H750.4V1091H746.7V1055H742.9V1096H739.2V1108H735.4V1088H731.7V1092H727.9V1087H724.1V1018H720.4V1062H716.6V1026H712.9V1020H709.1V1062H705.4V1098H701.6V1058H697.8V1109H694.1V1106H690.3V1068H686.6V1134H682.8V1113H679.1V1132H675.3V1161H671.5V1110H667.8V1148H664V1156H660.3V1143H656.5V1165H652.7V1136H649V1127H645.2V1147H641.5V1095H637.7V1138H634V1147H630.2V1101H626.4V1155H622.7V1130H618.9V1129H615.2V1122H611.4V1131H600.1V1140H596.4V1139H592.6V1099H588.9V1130H585.1V1106H581.4V1069H577.6V1068H573.8V1051H570.1V1023H566.3V1014H562.6V1030H558.8V1033H555V1029H551.3V1027H547.5V1033H543.8V1054H540V1034H536.3V1141H532.5V1073H528.7V1180H525V1159H517.5V1163H513.7V1160H510V1121H506.2V1124H502.4V1120H498.7V1126H494.9V1178H491.2V1122H487.4V1150H483.7V1135H479.9V1109H476.1V1118H472.4V1109H468.6V1113H461.1V1199H457.3V1190H453.6V1196H449.8V1201H446.1V1231H442.3V1202H438.6V1191H434.8V1170H431V1188H427.3V1200H423.5V1209H419.8V1197H416V1202H412.3V1205H408.5V1197H404.7V1195H401V1190H397.2V1197H393.5V1148H389.7V1174H386V1150H382.2V1163H378.4V1125H370.9V1116H367.2V1123H363.4V1126H359.6V1134H355.9V1165H352.1V1140H348.4V1141H344.6V1181H340.9V1134H337.1V1081H333.3V1145H329.6V1173H325.8V1203H322.1V1224H318.3V1238H314.6V1222H310.8V1235H307V1241H303.3V1244H299.5V1252H295.8V1254H288.3V1280H284.5V1278H280.7V1265H277V1233H273.2V1202H269.5V1206H265.7V1228H261.9V1264H258.2V1267H254.4V1234H250.7V1274H246.9V1276H243.2V1283H239.4Z" fill="#0000ff"/>
<path d="M239.4 1343H243.2V1342H246.9V1338H250.7V1335H254.4V1332H261.9V1329H265.7V1331H269.5V1333H273.2V1327H277V1337H280.7V1332H284.5V1335H288.3V1340H299.5V1337H310.8V1330H314.6V1338H318.3V1326H322.1V1344H325.8V1333H329.6V1340H333.3V1343H337.1V1336H340.9V1343H344.6V1329H348.4V1332H352.1V1341H355.9V1333H359.6V1337H363.4V1336H367.2V1335H370.9V1337H374.7V1342H378.4V1335H386V1343H389.7V1340H393.5V1343H397.2V1334H401V1335H404.7V1340H408.5V1333H412.3V1337H416V1336H419.8V1334H423.5V1341H427.3V1328H431V1339H434.8V1334H438.6V1341H442.3V1336H446.1V1341H449.8V1339H453.6V1335H457.3V1341H461.1V1338H464.9V1341H468.6V1337H472.4V1334H476.1V1339H479.9V1333H483.7V1338H487.4V1323H491.2V1335H494.9V1341H498.7V1335H502.4V1337H506.2V1342H510V1336H513.7V1338H517.5V1337H521.2V1342H525V1341H528.7V1339H532.5V1341H536.3V1335H540V1341H543.8V1338H547.5V1331H551.3V1336H555V1337H558.8V1340H562.6V1334H566.3V1339H570.1V1334H573.8V1337H577.6V1341H581.4V1344H588.9V1336H592.6V1345H596.4V1336H600.1V1332H607.7V1336H611.4V1321H615.2V1333H618.9V1326H622.7V1333H626.4V1331H630.2V1332H634V1335H637.7V1339H641.5V1324H645.2V1343H649V1335H652.7V1338H656.5V1336H660.3V1332H664V1331H667.8V1336H671.5V1340H675.3V1341H679.1V1335H682.8V1338H690.3V1337H694.1V1332H697.8V1339H701.6V1338H705.4V1323H709.1V1342H712.9V1337H720.4V1340H724.1V1332H727.9V1331H731.7V1337H735.4V1334H742.9V1331H746.7V1332H750.4V1338H754.2V1341H758V1335H765.5V1340H769.2V1341H773V1330H776.8V1342H780.5V1335H784.3V1341H788V1322H791.8V1342H795.5V1331H799.3V1341H803.1V1334H806.8V1341H810.6V1339H814.3V1338H818.1V1335H821.8V1330H825.6V1332H829.4V1337H836.9V1341H840.6V1333H844.4V1340H848.1V1339H855.7V1341H866.9V1333H870.7V1336H874.5V1333H878.2V1338H882V1342H885.7V1323H889.5V1344H893.2V1337H897V1339H900.8V1335H904.5V1332H908.3V1333H919.5V1335H923.3V1341H927.1V1335H930.8V1340H934.6V1337H938.3V1334H942.1V1333H945.8V1339H949.6V1332H953.4V1336H957.1V1337H960.9V1335H964.6V1340H968.4V1339H972.2V1322H975.9V1340H979.7V1333H990.9V1332H994.7V1342H998.5V1336H1006V1332H1009.7V1336H1013.5V1337H1017.2V1339H1024.8V1345H1028.5V1344H1032.3V1333H1036V1337H1039.8V1341H1043.5V1331H1047.3V1338H1051.1V1325H1054.8V1338H1058.6V1334H1062.3V1340H1066.1V1336H1069.9V1334H1073.6V1340H1077.4V1343H1081.1V1337H1084.9V1333H1088.6V1343H1092.4V1338H1096.2V1342H1099.9V1341H1103.7V1335H1107.4V1337H1114.9V1338H1118.7V1331H1122.5V1332H1126.2V1337H1130V1336H1133.7V1329H1137.5V1335H1141.2V1342H1145V1332H1148.8V1334H1152.5V1341H1156.3V1334H1160V1338H1163.8V1343H1167.6V1333H1171.3V1336H1175.1V1341H1182.6V1336H1186.3V1337H1190.1V1333H1193.9V1343H1197.6V1344H1201.4V1334H1205.1V1335H1208.9V1333H1212.6V1339H1216.4V1343H1223.9V1325H1227.7V1335H1231.4V1337H1235.2V1336H1239V1335H1242.7V1342H1246.5V1338H1250.2V1336H1254V1334H1257.7V1335H1261.5V1338H1265.3V1337H1269V1342H1272.8V1339H1276.5V1337H1280.3V1341H1284V1334H1287.8V1338H1291.6V1341H1299.1V1345H1302.8V1333H1306.6V1338H1310.3V1335H1317.9V1341H1321.6V1333H1325.4V1325H1329.1V1336H1332.9V1338H1336.7V1343H1340.4V1337H1344.2V1339H1347.9V1334H1351.7V1341H1355.4V1339H1359.2V1337H1363V1331H1366.7V1335H1370.5V1331H1374.2V1335H1378V1333H1381.7V1330H1385.5V1326H1389.3V1332H1393V1342H1396.8V1338H1400.5V1343H1404.3V1332H1411.8V1330H1415.6V1340H1423.1V1332H1426.8V1340H1430.6V1333H1434.4V1335H1438.1V1339H1441.9V1334H1445.6V1341H1449.4V1335H1453.1V1340H1456.9V1337H1464.4V1339H1468.2V1342H1471.9V1337H1475.7V1334H1479.4V1340H1483.2V1339H1487V1334H1490.7V1340H1494.5V1336H1502V1338H1505.7V1328H1509.5V1339H1513.3V1325H1517V1335H1520.8V1342H1524.5V1336H1528.3V1333H1532.1V1338H1535.8V1342H1539.6V1341H1543.3V1333H1547.1V1326H1550.8V1321H1554.6V1340H1558.4V1335H1562.1V1343H1565.9V1341H1569.6V1337H1573.4V1340H1577.1V1332H1584.7V1341H1588.4V1336H1592.2V1334H1599.7V1336H1603.4V1338H1607.2V1330H1611V1338H1614.7V1337H1618.5V1336H1622.2V1345H1629.8V1343H1633.5V1339H1637.3V1335H1641V1337H1644.8V1335H1648.5V1338H1652.3V1339H1656.1V1340H1659.8V1342H1663.6V1339H1667.3V1336H1671.1V1340H1674.8V1343H1678.6V1333H1682.4V1335H1686.1V1339H1689.9V1343H1697.4V1335H1704.9V1337H1708.7V1341H1712.4V1342H1716.2V1339H1719.9V1338H1723.7V1335H1727.5V1339H1731.2V1336H1735V1345H1738.7V1335H1746.2V1333H1750V1334H1753.8V1335H1757.5V1337H1761.3V1342H1768.8V1333H1772.5V1340H1776.3V1333H1780.1V1335H1783.8V1337H1787.6V1335H1791.3V1334H1795.1V1340H1798.8V1343H1802.6V1335H1810.1V1326H1813.9V1334H1817.6V1324H1821.4V1340H1828.9V1337H1832.7V1345H1836.4V1337H1840.2V1338H1843.9V1330H1847.7V1332H1851.5V1339H1855.2V1335H1859V1346H1862.7V1335H1870.2V1343H1874V1336H1877.8V1331H1881.5V1334H1885.3V1339H1889V1335H1892.8V1331H1896.5V1336H1900.3V1337H1907.8V1336H1911.6V1338H1915.3V1333H1919.1V1332H1922.9V1338H1926.6V1340H1930.4V1337H1934.1V1336H1937.9V1337H1941.6V1328H1945.4V1342H1949.2V1345H1952.9V1341H1956.7V1334H1960.4V1337H1964.2V1342H1967.9V1336H1971.7V1327H1975.5V1346H1979.2V1339H1983V1340H1986.7V1336H1990.5V1333H1994.2V1340H1998V1341H2001.8V1331H2005.5V1333H2009.3V1340H2013V1331H2016.8V1332H2020.6V1331H2024.3V1330H2028.1V1341H2031.8V1333H2035.6V1341H2039.3V1336H2046.9V1338H2050.6V1331H2054.4V1337H2058.1V1338H2061.9V1337H2065.6V1341H2069.4V1338H2073.2V1340H2076.9V1337H2084.4V1336H2088.2V1330H2091.9V1336H2095.7V1338H2099.5V1335H2107V1336H2110.7V1339H2118.3V1334H2122V1340H2125.8V1341H2129.5V1339H2133.3V1338H2137V1334H2140.8V1340H2144.6V1338H2148.3V1336H2152.1V1343H2155.8V1335H2167.1V1336H2174.6V1338H2178.4V1339H2182.1V1335H2185.9V1342H2189.6V1338H2197.2V1335H2204.7V1341H2208.4V1337H2212.2V1334H2216V1335H2223.5V1336H2227.2V1333H2231V1342H2234.7V1331H2238.5V1384H2231V1385H2227.2V1383H2223.5V1380H2219.7V1386H2216V1389H2212.2V1380H2208.4V1389H2204.7V1383H2200.9V1384H2197.2V1385H2193.4V1386H2189.6V1385H2185.9V1383H2182.1V1387H2178.4V1386H2174.6V1380H2170.9V1384H2167.1V1385H2163.3V1381H2159.6V1380H2152.1V1384H2148.3V1387H2144.6V1386H2140.8V1384H2137V1381H2129.5V1385H2125.8V1379H2122V1384H2118.3V1385H2114.5V1388H2107V1381H2099.5V1386H2095.7V1390H2088.2V1385H2084.4V1381H2080.7V1386H2076.9V1387H2073.2V1386H2069.4V1388H2065.6V1386H2061.9V1391H2058.1V1382H2054.4V1386H2050.6V1380H2046.9V1381H2043.1V1385H2039.3V1392H2035.6V1383H2031.8V1387H2028.1V1382H2024.3V1386H2020.6V1388H2016.8V1386H2013V1392H2009.3V1387H2005.5V1385H2001.8V1382H1998V1383H1990.5V1389H1986.7V1387H1979.2V1382H1975.5V1387H1971.7V1381H1967.9V1387H1964.2V1385H1952.9V1386H1949.2V1390H1945.4V1387H1941.6V1381H1937.9V1385H1934.1V1387H1930.4V1379H1926.6V1388H1922.9V1383H1919.1V1382H1915.3V1387H1911.6V1379H1907.8V1382H1904.1V1387H1896.5V1383H1892.8V1385H1889V1386H1885.3V1380H1881.5V1386H1877.8V1382H1870.2V1386H1866.5V1381H1859V1386H1855.2V1381H1851.5V1385H1847.7V1387H1843.9V1386H1840.2V1380H1836.4V1389H1832.7V1388H1825.2V1385H1821.4V1389H1817.6V1388H1813.9V1386H1806.4V1383H1802.6V1386H1798.8V1383H1795.1V1381H1787.6V1387H1783.8V1382H1780.1V1381H1776.3V1388H1772.5V1389H1768.8V1383H1765V1391H1761.3V1387H1757.5V1385H1753.8V1387H1750V1381H1746.2V1388H1742.5V1380H1738.7V1387H1735V1382H1731.2V1388H1727.5V1386H1723.7V1387H1719.9V1381H1716.2V1387H1712.4V1380H1708.7V1385H1704.9V1382H1701.1V1384H1697.4V1392H1693.6V1384H1689.9V1381H1686.1V1380H1682.4V1387H1678.6V1382H1674.8V1381H1671.1V1386H1667.3V1388H1663.6V1387H1659.8V1386H1656.1V1389H1652.3V1385H1648.5V1382H1641V1377H1637.3V1380H1633.5V1379H1629.8V1388H1626V1382H1622.2V1387H1618.5V1386H1614.7V1382H1611V1389H1607.2V1382H1603.4V1392H1599.7V1386H1592.2V1385H1588.4V1389H1584.7V1388H1580.9V1390H1577.1V1386H1573.4V1382H1569.6V1387H1565.9V1388H1562.1V1389H1558.4V1376H1554.6V1389H1550.8V1386H1547.1V1383H1543.3V1380H1539.6V1383H1532.1V1382H1528.3V1385H1524.5V1390H1520.8V1382H1517V1387H1513.3V1382H1505.7V1386H1502V1384H1494.5V1382H1483.2V1385H1479.4V1386H1475.7V1385H1471.9V1389H1468.2V1387H1464.4V1385H1460.7V1388H1456.9V1386H1453.1V1388H1449.4V1386H1445.6V1387H1441.9V1384H1438.1V1386H1430.6V1388H1426.8V1385H1423.1V1387H1419.3V1384H1411.8V1387H1408V1382H1404.3V1390H1400.5V1383H1396.8V1380H1393V1387H1389.3V1385H1385.5V1386H1381.7V1387H1378V1384H1374.2V1386H1370.5V1389H1366.7V1388H1363V1387H1359.2V1389H1355.4V1382H1351.7V1379H1347.9V1383H1344.2V1390H1340.4V1381H1336.7V1387H1332.9V1382H1329.1V1383H1325.4V1382H1321.6V1385H1317.9V1383H1314.1V1389H1310.3V1381H1306.6V1384H1302.8V1386H1295.3V1387H1291.6V1389H1287.8V1388H1284V1381H1280.3V1385H1276.5V1383H1269V1386H1265.3V1387H1261.5V1380H1257.7V1388H1254V1390H1250.2V1385H1242.7V1391H1239V1379H1235.2V1386H1231.4V1383H1227.7V1382H1223.9V1380H1220.2V1386H1216.4V1384H1212.6V1386H1208.9V1382H1205.1V1381H1201.4V1382H1197.6V1381H1193.9V1383H1190.1V1387H1186.3V1386H1182.6V1385H1178.8V1384H1175.1V1383H1171.3V1385H1167.6V1391H1163.8V1389H1160V1385H1156.3V1381H1152.5V1387H1148.8V1384H1145V1390H1141.2V1383H1133.7V1387H1130V1380H1126.2V1382H1122.5V1383H1118.7V1380H1114.9V1390H1111.2V1381H1107.4V1380H1103.7V1377H1099.9V1385H1096.2V1386H1092.4V1379H1088.6V1384H1084.9V1383H1081.1V1389H1077.4V1384H1073.6V1390H1069.9V1384H1066.1V1393H1062.3V1391H1058.6V1386H1054.8V1389H1051.1V1383H1047.3V1389H1043.5V1388H1039.8V1384H1036V1383H1032.3V1389H1028.5V1388H1024.8V1381H1021V1382H1017.2V1387H1013.5V1379H1009.7V1385H1006V1387H1002.2V1388H998.5V1386H994.7V1387H990.9V1384H983.4V1379H979.7V1381H975.9V1377H972.2V1379H968.4V1384H957.1V1379H953.4V1382H949.6V1384H945.8V1385H938.3V1382H934.6V1381H927.1V1384H923.3V1381H919.5V1388H915.8V1381H912V1383H904.5V1382H900.8V1389H897V1381H889.5V1382H885.7V1389H882V1388H878.2V1386H874.5V1384H870.7V1382H866.9V1383H863.2V1380H859.4V1382H855.7V1381H851.9V1386H848.1V1384H844.4V1381H840.6V1380H836.9V1383H829.4V1386H825.6V1387H821.8V1385H818.1V1387H814.3V1388H810.6V1383H806.8V1389H803.1V1386H799.3V1382H795.5V1387H791.8V1388H788V1381H784.3V1386H780.5V1380H776.8V1384H773V1381H769.2V1383H765.5V1386H761.7V1385H758V1388H754.2V1384H750.4V1383H746.7V1390H742.9V1389H739.2V1385H735.4V1381H731.7V1379H727.9V1382H724.1V1380H720.4V1387H716.6V1382H712.9V1379H709.1V1387H705.4V1383H701.6V1378H697.8V1388H694.1V1387H682.8V1385H679.1V1387H675.3V1385H671.5V1383H667.8V1385H664V1379H660.3V1388H656.5V1385H652.7V1386H649V1381H645.2V1385H641.5V1388H637.7V1380H634V1383H630.2V1387H626.4V1386H622.7V1382H618.9V1389H611.4V1388H607.7V1385H600.1V1384H592.6V1389H588.9V1382H585.1V1385H577.6V1381H573.8V1380H570.1V1389H566.3V1387H558.8V1384H555V1383H551.3V1390H547.5V1381H543.8V1391H540V1389H536.3V1388H532.5V1386H528.7V1384H525V1385H521.2V1389H517.5V1379H513.7V1383H502.4V1380H498.7V1384H494.9V1381H491.2V1383H487.4V1389H483.7V1379H479.9V1385H476.1V1381H472.4V1382H468.6V1379H464.9V1385H461.1V1381H457.3V1380H453.6V1381H446.1V1387H442.3V1383H438.6V1386H434.8V1385H427.3V1389H423.5V1386H419.8V1380H416V1378H412.3V1387H408.5V1382H404.7V1386H401V1389H397.2V1390H393.5V1386H389.7V1383H386V1382H382.2V1385H378.4V1390H374.7V1387H367.2V1383H363.4V1386H359.6V1381H355.9V1387H352.1V1381H348.4V1390H344.6V1387H340.9V1386H337.1V1387H333.3V1383H329.6V1381H325.8V1385H322.1V1380H318.3V1383H314.6V1384H310.8V1378H307V1386H299.5V1383H295.8V1387H292V1381H288.3V1388H280.7V1380H277V1379H273.2V1381H269.5V1385H265.7V1382H261.9V1383H254.4V1389H250.7V1381H246.9V1380H243.2V1389H239.4Z" fill="#a8ffd0"/>
<path d="M239.4 1345H246.9V1342H250.7V1337H254.4V1335H258.2V1334H261.9V1332H265.7V1333H269.5V1334H273.2V1329H277V1340H280.7V1336H284.5V1337H288.3V1343H292V1341H299.5V1340H303.3V1339H307V1340H310.8V1333H314.6V1342H318.3V1328H322.1V1347H325.8V1337H329.6V1342H333.3V1345H337.1V1339H340.9V1346H344.6V1331H348.4V1334H352.1V1344H355.9V1334H359.6V1339H363.4V1338H367.2V1337H370.9V1339H374.7V1344H378.4V1338H382.2V1337H386V1345H389.7V1342H393.5V1345H397.2V1336H401V1338H404.7V1342H408.5V1335H412.3V1341H416V1340H419.8V1336H423.5V1344H427.3V1331H431V1341H434.8V1337H438.6V1344H442.3V1337H446.1V1343H449.8V1341H453.6V1337H457.3V1343H461.1V1339H464.9V1344H468.6V1340H472.4V1336H476.1V1341H479.9V1335H483.7V1340H487.4V1325H491.2V1336H494.9V1345H498.7V1339H506.2V1345H510V1338H513.7V1341H517.5V1340H521.2V1344H528.7V1342H532.5V1343H536.3V1337H540V1343H543.8V1340H547.5V1333H551.3V1338H555V1339H558.8V1342H562.6V1338H566.3V1341H570.1V1337H573.8V1339H577.6V1342H581.4V1346H588.9V1337H592.6V1347H596.4V1338H600.1V1335H607.7V1338H611.4V1325H615.2V1336H618.9V1329H622.7V1336H626.4V1334H634V1337H637.7V1342H641.5V1327H645.2V1346H649V1337H652.7V1341H656.5V1338H660.3V1335H664V1332H667.8V1338H671.5V1342H675.3V1343H679.1V1338H682.8V1342H686.6V1340H690.3V1339H694.1V1336H697.8V1342H701.6V1341H705.4V1325H709.1V1344H712.9V1340H716.6V1339H720.4V1341H724.1V1335H731.7V1339H735.4V1336H739.2V1337H742.9V1333H746.7V1334H750.4V1340H754.2V1343H758V1338H761.7V1339H765.5V1342H773V1333H776.8V1344H780.5V1337H784.3V1343H788V1324H791.8V1345H795.5V1333H799.3V1342H803.1V1336H806.8V1343H810.6V1341H818.1V1338H821.8V1332H825.6V1335H829.4V1340H836.9V1344H840.6V1334H844.4V1341H851.9V1342H855.7V1343H866.9V1334H870.7V1339H874.5V1337H878.2V1342H882V1346H885.7V1325H889.5V1346H893.2V1340H897V1342H900.8V1337H904.5V1333H908.3V1336H912V1335H915.8V1337H919.5V1336H923.3V1343H927.1V1338H930.8V1343H934.6V1340H938.3V1335H942.1V1336H945.8V1341H949.6V1334H953.4V1339H960.9V1338H964.6V1342H968.4V1340H972.2V1325H975.9V1343H979.7V1337H983.4V1334H987.2V1336H990.9V1334H994.7V1345H998.5V1339H1002.2V1338H1006V1335H1009.7V1337H1013.5V1340H1017.2V1341H1021V1342H1024.8V1346H1032.3V1336H1036V1339H1039.8V1343H1043.5V1332H1047.3V1341H1051.1V1329H1054.8V1339H1058.6V1337H1062.3V1343H1066.1V1340H1069.9V1337H1073.6V1343H1077.4V1345H1081.1V1340H1084.9V1335H1088.6V1345H1092.4V1339H1096.2V1343H1103.7V1336H1107.4V1339H1114.9V1340H1118.7V1333H1122.5V1336H1126.2V1341H1130V1339H1133.7V1331H1137.5V1337H1141.2V1344H1145V1334H1148.8V1336H1152.5V1343H1156.3V1337H1160V1341H1163.8V1345H1167.6V1335H1171.3V1338H1175.1V1344H1178.8V1343H1182.6V1337H1186.3V1339H1190.1V1335H1193.9V1345H1197.6V1346H1201.4V1336H1205.1V1337H1208.9V1335H1212.6V1341H1216.4V1345H1223.9V1326H1227.7V1338H1231.4V1339H1235.2V1338H1239V1336H1242.7V1346H1246.5V1340H1250.2V1339H1254V1336H1257.7V1339H1265.3V1340H1269V1344H1272.8V1342H1276.5V1339H1280.3V1343H1284V1336H1287.8V1340H1291.6V1343H1295.3V1344H1299.1V1347H1302.8V1337H1306.6V1341H1310.3V1338H1314.1V1337H1317.9V1343H1321.6V1336H1325.4V1329H1329.1V1339H1332.9V1341H1336.7V1347H1340.4V1339H1344.2V1343H1347.9V1335H1351.7V1343H1355.4V1342H1359.2V1339H1363V1332H1366.7V1339H1370.5V1333H1374.2V1337H1378V1336H1381.7V1333H1385.5V1330H1389.3V1335H1393V1345H1396.8V1340H1400.5V1345H1404.3V1335H1411.8V1332H1415.6V1344H1419.3V1342H1423.1V1335H1426.8V1344H1430.6V1335H1434.4V1338H1438.1V1341H1441.9V1336H1445.6V1342H1449.4V1337H1453.1V1341H1456.9V1340H1464.4V1342H1468.2V1344H1471.9V1340H1475.7V1337H1479.4V1342H1483.2V1341H1487V1335H1490.7V1343H1494.5V1338H1498.2V1339H1502V1340H1505.7V1331H1509.5V1341H1513.3V1329H1517V1339H1520.8V1345H1524.5V1338H1528.3V1335H1532.1V1342H1535.8V1345H1539.6V1343H1543.3V1337H1547.1V1327H1550.8V1323H1554.6V1341H1558.4V1336H1562.1V1345H1565.9V1343H1569.6V1340H1573.4V1342H1577.1V1334H1580.9V1335H1584.7V1344H1588.4V1340H1592.2V1338H1595.9V1335H1599.7V1339H1603.4V1340H1607.2V1332H1611V1339H1614.7V1340H1618.5V1339H1622.2V1347H1629.8V1345H1633.5V1342H1637.3V1337H1641V1338H1644.8V1337H1648.5V1341H1656.1V1343H1659.8V1345H1663.6V1341H1667.3V1339H1671.1V1344H1678.6V1335H1682.4V1336H1686.1V1342H1689.9V1344H1693.6V1347H1697.4V1336H1701.1V1338H1704.9V1339H1708.7V1343H1712.4V1345H1716.2V1342H1719.9V1341H1723.7V1337H1727.5V1341H1731.2V1338H1735V1346H1738.7V1339H1746.2V1335H1750V1337H1753.8V1338H1757.5V1339H1761.3V1345H1765V1344H1768.8V1335H1772.5V1343H1776.3V1335H1780.1V1337H1783.8V1339H1787.6V1337H1795.1V1343H1798.8V1347H1802.6V1338H1806.4V1337H1810.1V1327H1813.9V1336H1817.6V1326H1821.4V1342H1825.2V1343H1828.9V1341H1832.7V1347H1836.4V1340H1843.9V1333H1847.7V1335H1851.5V1343H1855.2V1338H1859V1348H1862.7V1339H1866.5V1338H1870.2V1345H1874V1339H1877.8V1335H1881.5V1337H1885.3V1341H1889V1337H1892.8V1333H1896.5V1339H1900.3V1340H1904.1V1341H1907.8V1338H1911.6V1340H1915.3V1334H1919.1V1335H1922.9V1341H1926.6V1343H1930.4V1341H1934.1V1339H1941.6V1331H1945.4V1343H1949.2V1348H1952.9V1342H1956.7V1336H1960.4V1339H1964.2V1345H1967.9V1337H1971.7V1328H1975.5V1348H1979.2V1341H1983V1344H1986.7V1338H1990.5V1335H1994.2V1342H1998V1343H2001.8V1333H2005.5V1337H2009.3V1342H2013V1334H2020.6V1333H2024.3V1332H2028.1V1343H2031.8V1335H2035.6V1344H2039.3V1339H2043.1V1338H2046.9V1340H2050.6V1334H2054.4V1340H2061.9V1341H2065.6V1344H2069.4V1340H2073.2V1342H2076.9V1341H2080.7V1340H2084.4V1338H2088.2V1333H2091.9V1339H2095.7V1341H2099.5V1339H2103.2V1337H2107V1338H2110.7V1342H2114.5V1341H2118.3V1336H2122V1342H2125.8V1344H2129.5V1340H2133.3V1341H2137V1338H2140.8V1344H2144.6V1341H2148.3V1339H2152.1V1346H2155.8V1337H2163.3V1338H2167.1V1339H2170.9V1338H2174.6V1340H2178.4V1342H2182.1V1336H2185.9V1345H2189.6V1341H2193.4V1340H2197.2V1338H2200.9V1337H2204.7V1344H2208.4V1341H2212.2V1336H2216V1338H2223.5V1339H2227.2V1336H2231V1344H2234.7V1335H2238.5V1381H2234.7V1383H2227.2V1382H2223.5V1376H2219.7V1384H2216V1385H2212.2V1377H2208.4V1385H2204.7V1381H2200.9V1380H2197.2V1383H2193.4V1385H2189.6V1382H2185.9V1380H2182.1V1386H2178.4V1384H2174.6V1377H2170.9V1380H2167.1V1382H2163.3V1379H2155.8V1378H2152.1V1382H2148.3V1385H2144.6V1384H2140.8V1381H2137V1378H2133.3V1379H2129.5V1382H2125.8V1377H2122V1381H2118.3V1383H2114.5V1387H2110.7V1385H2107V1379H2103.2V1380H2099.5V1384H2095.7V1389H2091.9V1388H2088.2V1384H2084.4V1379H2080.7V1383H2076.9V1384H2069.4V1385H2065.6V1384H2061.9V1388H2058.1V1379H2054.4V1384H2050.6V1377H2043.1V1382H2039.3V1389H2035.6V1380H2031.8V1385H2028.1V1379H2024.3V1384H2016.8V1383H2013V1388H2009.3V1384H2005.5V1383H2001.8V1380H1998V1382H1994.2V1381H1990.5V1387H1986.7V1384H1983V1385H1979.2V1380H1975.5V1386H1971.7V1378H1967.9V1385H1964.2V1383H1960.4V1382H1952.9V1383H1949.2V1387H1945.4V1384H1941.6V1379H1937.9V1383H1934.1V1385H1930.4V1377H1926.6V1385H1922.9V1381H1919.1V1380H1915.3V1385H1911.6V1377H1907.8V1380H1904.1V1385H1896.5V1380H1892.8V1382H1889V1383H1885.3V1377H1881.5V1383H1877.8V1379H1870.2V1384H1866.5V1377H1862.7V1380H1859V1383H1855.2V1379H1851.5V1384H1847.7V1385H1843.9V1384H1840.2V1378H1836.4V1386H1828.9V1385H1825.2V1384H1821.4V1386H1813.9V1383H1806.4V1379H1802.6V1385H1798.8V1381H1795.1V1379H1791.3V1380H1787.6V1385H1783.8V1380H1780.1V1379H1776.3V1385H1772.5V1386H1768.8V1381H1765V1388H1761.3V1385H1757.5V1384H1750V1379H1746.2V1386H1742.5V1378H1738.7V1385H1735V1378H1731.2V1386H1727.5V1384H1723.7V1385H1719.9V1379H1716.2V1385H1712.4V1378H1708.7V1383H1704.9V1380H1701.1V1383H1697.4V1388H1693.6V1381H1689.9V1379H1686.1V1377H1682.4V1385H1678.6V1380H1674.8V1379H1671.1V1384H1667.3V1386H1663.6V1384H1659.8V1383H1656.1V1388H1652.3V1382H1648.5V1379H1641V1375H1637.3V1377H1633.5V1376H1629.8V1386H1626V1379H1622.2V1386H1618.5V1383H1614.7V1379H1611V1387H1607.2V1380H1603.4V1390H1599.7V1385H1595.9V1384H1592.2V1382H1588.4V1385H1584.7V1386H1580.9V1388H1577.1V1382H1573.4V1380H1569.6V1384H1565.9V1386H1562.1V1387H1558.4V1375H1554.6V1387H1550.8V1384H1547.1V1382H1543.3V1376H1539.6V1379H1535.8V1381H1532.1V1379H1528.3V1382H1524.5V1389H1520.8V1379H1517V1385H1513.3V1380H1509.5V1379H1505.7V1384H1502V1381H1494.5V1378H1483.2V1382H1479.4V1384H1475.7V1381H1471.9V1387H1468.2V1384H1464.4V1383H1460.7V1385H1453.1V1386H1449.4V1385H1445.6V1386H1441.9V1380H1438.1V1383H1430.6V1385H1426.8V1383H1423.1V1385H1419.3V1381H1415.6V1382H1411.8V1384H1408V1379H1404.3V1386H1400.5V1380H1396.8V1377H1393V1385H1389.3V1383H1385.5V1384H1381.7V1383H1378V1380H1374.2V1383H1370.5V1388H1366.7V1387H1363V1385H1359.2V1387H1355.4V1381H1351.7V1377H1347.9V1380H1344.2V1389H1340.4V1379H1336.7V1385H1332.9V1381H1325.4V1380H1321.6V1381H1317.9V1380H1314.1V1388H1310.3V1378H1306.6V1382H1302.8V1383H1299.1V1385H1291.6V1386H1284V1377H1280.3V1384H1276.5V1381H1269V1384H1265.3V1383H1261.5V1377H1257.7V1386H1254V1389H1250.2V1383H1242.7V1388H1239V1377H1235.2V1383H1231.4V1381H1227.7V1379H1223.9V1377H1220.2V1384H1216.4V1381H1212.6V1383H1208.9V1380H1205.1V1377H1201.4V1379H1197.6V1378H1193.9V1380H1190.1V1385H1186.3V1384H1182.6V1382H1175.1V1380H1171.3V1383H1167.6V1389H1163.8V1387H1160V1384H1156.3V1379H1152.5V1385H1148.8V1380H1145V1387H1141.2V1379H1137.5V1382H1133.7V1386H1130V1378H1126.2V1380H1122.5V1379H1114.9V1388H1111.2V1380H1107.4V1378H1103.7V1374H1099.9V1383H1096.2V1384H1092.4V1375H1088.6V1382H1084.9V1381H1081.1V1386H1077.4V1381H1073.6V1387H1069.9V1381H1066.1V1392H1062.3V1387H1058.6V1382H1054.8V1387H1051.1V1382H1047.3V1387H1043.5V1385H1039.8V1381H1032.3V1387H1028.5V1384H1024.8V1378H1021V1380H1017.2V1385H1013.5V1376H1009.7V1384H1006V1385H998.5V1382H994.7V1383H990.9V1381H987.2V1382H983.4V1377H979.7V1378H975.9V1376H972.2V1375H968.4V1382H960.9V1383H957.1V1377H953.4V1380H949.6V1381H945.8V1383H938.3V1380H934.6V1378H930.8V1377H927.1V1382H923.3V1378H919.5V1385H915.8V1378H912V1381H908.3V1379H904.5V1381H900.8V1387H897V1380H893.2V1378H889.5V1380H885.7V1387H882V1385H878.2V1383H874.5V1381H870.7V1378H866.9V1382H863.2V1378H859.4V1379H851.9V1383H848.1V1381H844.4V1379H840.6V1378H836.9V1381H833.1V1380H829.4V1383H825.6V1385H821.8V1384H814.3V1386H810.6V1379H806.8V1385H803.1V1384H799.3V1380H795.5V1385H791.8V1384H788V1379H784.3V1383H780.5V1378H776.8V1382H773V1378H769.2V1380H765.5V1382H758V1385H754.2V1383H750.4V1381H746.7V1387H742.9V1385H739.2V1383H735.4V1378H731.7V1377H727.9V1378H724.1V1379H720.4V1385H716.6V1379H712.9V1377H709.1V1385H705.4V1380H701.6V1377H697.8V1385H694.1V1384H690.3V1385H682.8V1383H679.1V1384H675.3V1383H671.5V1380H667.8V1383H664V1377H660.3V1386H656.5V1382H652.7V1383H649V1380H645.2V1383H641.5V1386H637.7V1378H634V1381H630.2V1384H622.7V1380H618.9V1386H615.2V1385H611.4V1386H607.7V1381H603.9V1384H600.1V1381H596.4V1382H592.6V1387H588.9V1378H585.1V1384H581.4V1382H577.6V1378H573.8V1377H570.1V1386H566.3V1384H562.6V1383H558.8V1381H551.3V1388H547.5V1380H543.8V1388H540V1386H532.5V1384H528.7V1381H525V1383H521.2V1387H517.5V1377H513.7V1380H506.2V1379H502.4V1378H498.7V1382H494.9V1379H491.2V1380H487.4V1387H483.7V1377H479.9V1383H476.1V1378H472.4V1380H468.6V1377H464.9V1383H461.1V1379H457.3V1378H446.1V1383H442.3V1379H438.6V1383H434.8V1382H431V1383H427.3V1386H423.5V1383H419.8V1378H416V1375H412.3V1385H408.5V1379H404.7V1385H397.2V1388H393.5V1384H389.7V1381H386V1380H382.2V1383H378.4V1387H374.7V1383H370.9V1384H367.2V1380H363.4V1384H359.6V1379H355.9V1385H352.1V1378H348.4V1388H344.6V1385H340.9V1384H337.1V1385H333.3V1379H329.6V1380H325.8V1382H322.1V1379H318.3V1380H314.6V1382H310.8V1376H307V1382H303.3V1385H299.5V1381H295.8V1385H292V1378H288.3V1385H280.7V1377H273.2V1379H269.5V1382H265.7V1380H261.9V1381H258.2V1380H254.4V1386H250.7V1379H246.9V1378H243.2V1385H239.4Z" fill="#18ff84"/>
<path d="M239.4 1346H243.2V1345H246.9V1342H250.7V1339H254.4V1336H258.2V1339H261.9V1335H273.2V1334H277V1342H280.7V1338H284.5V1340H288.3V1345H295.8V1346H299.5V1343H303.3V1342H307V1343H310.8V1335H314.6V1343H318.3V1330H322.1V1348H325.8V1339H329.6V1344H333.3V1346H337.1V1339H340.9V1348H344.6V1334H348.4V1337H352.1V1346H355.9V1338H359.6V1343H363.4V1340H367.2V1338H370.9V1340H374.7V1345H378.4V1340H382.2V1338H386V1346H389.7V1343H393.5V1346H397.2V1338H401V1339H404.7V1344H408.5V1341H416V1340H419.8V1338H423.5V1346H427.3V1335H431V1343H434.8V1338H438.6V1345H442.3V1340H446.1V1346H449.8V1343H453.6V1339H457.3V1345H461.1V1344H468.6V1342H472.4V1339H476.1V1344H479.9V1336H483.7V1342H491.2V1340H494.9V1345H498.7V1339H502.4V1341H506.2V1345H510V1340H513.7V1343H521.2V1347H528.7V1343H532.5V1345H536.3V1337H540V1343H547.5V1339H551.3V1340H555V1339H558.8V1345H562.6V1340H566.3V1341H570.1V1338H573.8V1341H577.6V1345H581.4V1347H585.1V1348H588.9V1342H592.6V1349H596.4V1339H600.1V1338H603.9V1337H607.7V1341H611.4V1326H615.2V1338H618.9V1332H622.7V1337H626.4V1336H630.2V1339H634V1341H637.7V1342H641.5V1330H645.2V1347H649V1341H652.7V1342H656.5V1339H660.3V1338H671.5V1344H679.1V1341H682.8V1342H686.6V1344H694.1V1338H697.8V1345H701.6V1341H705.4V1331H709.1V1344H712.9V1341H716.6V1344H724.1V1337H731.7V1339H739.2V1337H742.9V1335H746.7V1337H750.4V1341H754.2V1344H758V1339H761.7V1341H765.5V1343H769.2V1345H773V1334H776.8V1346H780.5V1339H784.3V1345H788V1341H791.8V1345H795.5V1337H799.3V1343H803.1V1340H806.8V1345H810.6V1343H814.3V1341H818.1V1340H821.8V1338H825.6V1337H829.4V1343H833.1V1342H836.9V1344H840.6V1337H844.4V1342H855.7V1344H859.4V1343H866.9V1341H874.5V1338H878.2V1343H882V1346H885.7V1340H889.5V1347H893.2V1343H897V1345H900.8V1338H904.5V1339H908.3V1337H912V1336H915.8V1338H919.5V1340H923.3V1346H927.1V1339H930.8V1344H934.6V1340H938.3V1337H945.8V1341H949.6V1340H953.4V1341H957.1V1340H964.6V1342H968.4V1347H972.2V1330H975.9V1345H979.7V1339H983.4V1338H990.9V1337H994.7V1345H998.5V1340H1002.2V1338H1009.7V1339H1013.5V1341H1017.2V1343H1021V1345H1024.8V1348H1028.5V1346H1032.3V1337H1036V1341H1039.8V1344H1043.5V1336H1047.3V1343H1051.1V1331H1054.8V1345H1058.6V1340H1062.3V1344H1066.1V1341H1069.9V1338H1073.6V1345H1081.1V1341H1084.9V1339H1088.6V1346H1092.4V1341H1096.2V1347H1099.9V1343H1107.4V1342H1111.2V1339H1114.9V1342H1118.7V1336H1122.5V1338H1126.2V1341H1130V1342H1133.7V1336H1137.5V1338H1141.2V1345H1145V1337H1148.8V1340H1152.5V1345H1156.3V1338H1160V1341H1163.8V1346H1167.6V1338H1171.3V1339H1175.1V1346H1178.8V1343H1182.6V1340H1186.3V1342H1190.1V1340H1193.9V1346H1197.6V1347H1201.4V1337H1205.1V1341H1208.9V1338H1212.6V1341H1216.4V1345H1223.9V1339H1227.7V1340H1231.4V1341H1239V1339H1242.7V1346H1246.5V1341H1250.2V1343H1254V1337H1257.7V1339H1261.5V1346H1265.3V1343H1269V1344H1276.5V1342H1280.3V1344H1284V1338H1287.8V1341H1291.6V1347H1295.3V1344H1299.1V1348H1302.8V1338H1306.6V1344H1310.3V1341H1314.1V1342H1317.9V1345H1321.6V1338H1325.4V1329H1329.1V1340H1332.9V1342H1336.7V1347H1340.4V1342H1344.2V1345H1347.9V1335H1351.7V1346H1355.4V1345H1359.2V1342H1363V1336H1366.7V1341H1370.5V1336H1374.2V1340H1378V1336H1385.5V1331H1389.3V1338H1393V1346H1396.8V1341H1400.5V1347H1404.3V1338H1408V1336H1415.6V1346H1419.3V1344H1423.1V1335H1426.8V1345H1430.6V1338H1434.4V1339H1438.1V1343H1441.9V1339H1445.6V1347H1449.4V1339H1453.1V1343H1460.7V1340H1464.4V1343H1468.2V1346H1471.9V1341H1475.7V1337H1479.4V1344H1483.2V1343H1487V1341H1490.7V1344H1494.5V1340H1498.2V1341H1502V1342H1505.7V1336H1509.5V1341H1513.3V1329H1517V1339H1520.8V1346H1524.5V1341H1528.3V1337H1532.1V1343H1535.8V1346H1543.3V1339H1547.1V1341H1550.8V1343H1554.6V1344H1558.4V1339H1562.1V1346H1565.9V1343H1569.6V1342H1577.1V1336H1580.9V1337H1584.7V1346H1588.4V1340H1595.9V1339H1599.7V1340H1603.4V1343H1607.2V1337H1611V1340H1622.2V1347H1626V1349H1629.8V1347H1633.5V1342H1637.3V1339H1641V1342H1648.5V1341H1652.3V1344H1659.8V1345H1663.6V1342H1667.3V1340H1671.1V1346H1674.8V1345H1678.6V1338H1682.4V1340H1686.1V1344H1689.9V1346H1693.6V1348H1697.4V1338H1704.9V1341H1708.7V1344H1712.4V1347H1716.2V1343H1723.7V1339H1727.5V1344H1731.2V1342H1735V1347H1738.7V1340H1746.2V1341H1750V1339H1753.8V1341H1757.5V1339H1761.3V1346H1765V1345H1768.8V1338H1772.5V1346H1776.3V1338H1783.8V1339H1787.6V1340H1795.1V1346H1798.8V1348H1802.6V1341H1806.4V1338H1810.1V1341H1813.9V1337H1817.6V1331H1821.4V1344H1825.2V1345H1828.9V1342H1832.7V1347H1836.4V1341H1840.2V1340H1843.9V1336H1847.7V1337H1851.5V1345H1855.2V1340H1859V1348H1862.7V1341H1870.2V1345H1874V1339H1877.8V1337H1881.5V1339H1885.3V1344H1889V1339H1896.5V1342H1900.3V1340H1904.1V1341H1907.8V1340H1911.6V1342H1915.3V1337H1922.9V1344H1926.6V1343H1930.4V1342H1941.6V1332H1945.4V1345H1949.2V1349H1952.9V1346H1956.7V1341H1964.2V1345H1967.9V1338H1971.7V1330H1975.5V1348H1979.2V1343H1983V1344H1986.7V1341H1990.5V1338H1994.2V1344H1998V1343H2001.8V1337H2005.5V1339H2009.3V1344H2013V1335H2024.3V1334H2028.1V1345H2031.8V1338H2035.6V1346H2039.3V1341H2043.1V1343H2046.9V1345H2050.6V1336H2054.4V1341H2058.1V1340H2061.9V1342H2065.6V1345H2069.4V1340H2073.2V1345H2076.9V1341H2080.7V1340H2084.4V1338H2088.2V1333H2091.9V1339H2095.7V1341H2099.5V1342H2103.2V1340H2107V1341H2110.7V1342H2114.5V1341H2118.3V1338H2122V1344H2125.8V1345H2129.5V1343H2137V1340H2140.8V1346H2144.6V1341H2148.3V1339H2152.1V1348H2155.8V1340H2159.6V1338H2167.1V1340H2170.9V1342H2174.6V1341H2178.4V1345H2182.1V1338H2185.9V1347H2189.6V1342H2193.4V1341H2200.9V1339H2204.7V1345H2208.4V1343H2212.2V1338H2216V1340H2227.2V1338H2231V1345H2234.7V1336H2238.5V1379H2234.7V1378H2231V1383H2227.2V1379H2223.5V1376H2219.7V1381H2216V1382H2212.2V1376H2208.4V1383H2204.7V1378H2200.9V1380H2197.2V1383H2193.4V1378H2189.6V1380H2185.9V1376H2182.1V1385H2178.4V1380H2174.6V1376H2170.9V1379H2167.1V1382H2163.3V1377H2159.6V1378H2155.8V1377H2152.1V1380H2148.3V1383H2144.6V1382H2140.8V1380H2137V1376H2133.3V1378H2125.8V1377H2122V1379H2118.3V1382H2107V1376H2103.2V1379H2099.5V1381H2095.7V1383H2091.9V1386H2088.2V1381H2084.4V1378H2080.7V1381H2076.9V1383H2069.4V1385H2065.6V1382H2061.9V1386H2058.1V1378H2054.4V1383H2050.6V1375H2046.9V1376H2043.1V1381H2039.3V1384H2035.6V1377H2031.8V1384H2028.1V1376H2024.3V1382H2020.6V1384H2016.8V1382H2013V1386H2009.3V1384H2005.5V1382H2001.8V1380H1998V1381H1994.2V1380H1990.5V1384H1986.7V1383H1979.2V1377H1975.5V1383H1971.7V1377H1967.9V1379H1964.2V1380H1949.2V1385H1945.4V1383H1941.6V1376H1937.9V1382H1930.4V1376H1926.6V1384H1922.9V1381H1919.1V1377H1915.3V1382H1911.6V1376H1904.1V1384H1900.3V1383H1896.5V1379H1892.8V1380H1885.3V1375H1881.5V1381H1877.8V1377H1874V1376H1870.2V1381H1866.5V1377H1862.7V1379H1859V1380H1855.2V1378H1851.5V1379H1847.7V1382H1843.9V1383H1840.2V1377H1836.4V1386H1832.7V1385H1828.9V1382H1821.4V1384H1817.6V1381H1813.9V1380H1810.1V1383H1806.4V1378H1802.6V1382H1798.8V1379H1795.1V1377H1787.6V1382H1783.8V1380H1780.1V1378H1776.3V1383H1772.5V1384H1768.8V1379H1765V1384H1761.3V1383H1757.5V1381H1753.8V1382H1750V1377H1746.2V1383H1742.5V1378H1738.7V1381H1735V1378H1731.2V1384H1727.5V1381H1723.7V1384H1719.9V1379H1712.4V1375H1708.7V1382H1704.9V1378H1701.1V1381H1697.4V1386H1693.6V1379H1689.9V1376H1682.4V1383H1678.6V1379H1671.1V1381H1667.3V1386H1663.6V1383H1656.1V1382H1652.3V1380H1648.5V1376H1641V1374H1637.3V1376H1629.8V1383H1626V1379H1622.2V1382H1618.5V1380H1614.7V1379H1611V1384H1607.2V1377H1603.4V1384H1599.7V1381H1595.9V1383H1592.2V1381H1588.4V1383H1580.9V1382H1577.1V1380H1573.4V1378H1569.6V1383H1565.9V1384H1562.1V1382H1558.4V1374H1554.6V1383H1547.1V1377H1543.3V1375H1539.6V1378H1535.8V1381H1532.1V1378H1528.3V1379H1524.5V1384H1520.8V1376H1517V1384H1513.3V1379H1509.5V1378H1505.7V1382H1502V1380H1498.2V1378H1494.5V1376H1487V1377H1483.2V1382H1479.4V1381H1471.9V1386H1468.2V1384H1464.4V1383H1460.7V1382H1453.1V1385H1449.4V1381H1445.6V1384H1441.9V1378H1438.1V1379H1434.4V1380H1430.6V1382H1426.8V1379H1423.1V1385H1419.3V1381H1411.8V1382H1408V1379H1404.3V1384H1400.5V1378H1396.8V1376H1393V1382H1385.5V1383H1378V1378H1374.2V1382H1370.5V1383H1366.7V1385H1363V1384H1355.4V1377H1351.7V1376H1347.9V1378H1344.2V1384H1340.4V1377H1336.7V1379H1332.9V1377H1329.1V1380H1325.4V1378H1321.6V1381H1317.9V1380H1314.1V1382H1310.3V1377H1306.6V1380H1302.8V1382H1299.1V1378H1295.3V1384H1291.6V1383H1287.8V1384H1284V1376H1280.3V1380H1276.5V1378H1272.8V1379H1269V1383H1265.3V1380H1261.5V1375H1257.7V1384H1254V1383H1246.5V1380H1242.7V1384H1239V1374H1235.2V1382H1231.4V1378H1223.9V1375H1220.2V1382H1216.4V1378H1212.6V1380H1208.9V1377H1205.1V1376H1201.4V1378H1190.1V1383H1186.3V1382H1182.6V1381H1175.1V1378H1167.6V1383H1163.8V1384H1160V1381H1156.3V1379H1152.5V1382H1148.8V1378H1145V1384H1141.2V1377H1137.5V1380H1133.7V1383H1130V1376H1126.2V1379H1122.5V1377H1118.7V1378H1114.9V1382H1111.2V1378H1107.4V1376H1103.7V1374H1099.9V1378H1096.2V1380H1092.4V1375H1088.6V1380H1084.9V1379H1081.1V1381H1077.4V1380H1073.6V1385H1069.9V1379H1066.1V1386H1062.3V1385H1058.6V1382H1054.8V1383H1051.1V1380H1047.3V1383H1039.8V1378H1036V1380H1032.3V1384H1028.5V1382H1024.8V1377H1021V1378H1017.2V1381H1013.5V1375H1009.7V1378H1006V1383H1002.2V1382H998.5V1381H994.7V1382H990.9V1380H983.4V1375H979.7V1376H975.9V1375H972.2V1374H968.4V1381H964.6V1380H957.1V1376H953.4V1379H949.6V1381H945.8V1382H942.1V1381H938.3V1377H934.6V1378H930.8V1377H923.3V1376H919.5V1384H915.8V1376H912V1380H908.3V1378H904.5V1379H900.8V1381H897V1377H893.2V1376H885.7V1384H878.2V1383H874.5V1380H870.7V1375H866.9V1378H863.2V1374H859.4V1375H855.7V1377H851.9V1382H848.1V1381H844.4V1378H840.6V1377H836.9V1379H833.1V1378H829.4V1383H825.6V1382H821.8V1383H814.3V1385H810.6V1379H806.8V1384H803.1V1383H799.3V1379H795.5V1381H791.8V1383H788V1377H784.3V1383H780.5V1377H776.8V1379H773V1377H769.2V1379H765.5V1381H761.7V1382H758V1383H754.2V1382H750.4V1380H746.7V1385H742.9V1382H739.2V1377H731.7V1375H727.9V1377H724.1V1376H720.4V1381H716.6V1376H712.9V1377H709.1V1384H705.4V1379H701.6V1375H697.8V1383H694.1V1381H690.3V1383H686.6V1379H682.8V1381H679.1V1382H675.3V1383H671.5V1377H667.8V1381H664V1376H660.3V1384H656.5V1380H652.7V1381H649V1378H645.2V1381H641.5V1385H637.7V1376H634V1377H630.2V1381H626.4V1383H622.7V1375H618.9V1384H615.2V1383H611.4V1385H607.7V1381H603.9V1378H600.1V1379H596.4V1380H592.6V1381H588.9V1377H573.8V1375H570.1V1383H566.3V1379H562.6V1380H558.8V1379H555V1380H551.3V1384H547.5V1377H543.8V1383H540V1385H536.3V1381H532.5V1382H528.7V1378H521.2V1383H517.5V1377H513.7V1379H510V1377H502.4V1378H498.7V1380H494.9V1376H491.2V1378H487.4V1385H483.7V1376H479.9V1380H476.1V1377H472.4V1379H468.6V1375H464.9V1383H461.1V1377H457.3V1378H453.6V1376H449.8V1378H446.1V1382H442.3V1377H438.6V1383H434.8V1380H431V1377H427.3V1383H423.5V1380H419.8V1375H412.3V1380H408.5V1376H404.7V1383H401V1384H397.2V1382H393.5V1383H389.7V1381H386V1378H382.2V1379H378.4V1385H374.7V1381H370.9V1382H367.2V1380H363.4V1383H359.6V1375H355.9V1383H352.1V1378H348.4V1384H340.9V1383H333.3V1379H329.6V1377H325.8V1379H322.1V1377H314.6V1382H310.8V1375H307V1379H303.3V1380H299.5V1379H295.8V1383H292V1378H288.3V1384H284.5V1380H280.7V1375H273.2V1378H269.5V1381H265.7V1379H261.9V1378H254.4V1385H250.7V1377H243.2V1384H239.4Z" fill="#00ff00"/>
<path d="M239.4 1396H243.2V1392H246.9V1394H254.4V1399H258.2V1395H265.7V1390H269.5V1396H273.2V1387H277V1391H280.7V1400H284.5V1390H288.3V1397H292V1399H295.8V1392H299.5V1386H303.3V1391H307V1401H310.8V1397H314.6V1395H318.3V1388H325.8V1396H329.6V1401H333.3V1394H337.1V1391H340.9V1401H344.6V1391H348.4V1395H352.1V1397H355.9V1387H359.6V1393H363.4V1396H367.2V1394H370.9V1393H374.7V1397H378.4V1390H382.2V1398H386V1392H389.7V1390H393.5V1401H397.2V1389H401V1398H408.5V1394H412.3V1383H416V1391H419.8V1398H423.5V1393H427.3V1385H431V1398H434.8V1399H438.6V1401H442.3V1391H446.1V1394H449.8V1397H453.6V1391H457.3V1393H461.1V1392H464.9V1395H468.6V1396H476.1V1394H479.9V1398H483.7V1395H487.4V1394H491.2V1393H494.9V1398H498.7V1399H502.4V1395H506.2V1393H510V1398H513.7V1395H517.5V1394H521.2V1396H525V1389H528.7V1393H532.5V1391H536.3V1396H543.8V1382H547.5V1373H551.3V1368H555V1376H562.6V1377H566.3V1371H570.1V1395H573.8V1396H577.6V1393H581.4V1399H585.1V1400H588.9V1392H592.6V1400H596.4V1393H600.1V1390H603.9V1398H607.7V1400H611.4V1392H615.2V1401H618.9V1395H622.7V1390H626.4V1392H630.2V1389H634V1397H637.7V1390H641.5V1393H645.2V1392H649V1390H652.7V1395H656.5V1396H660.3V1391H664V1400H667.8V1390H671.5V1398H675.3V1391H679.1V1404H682.8V1393H686.6V1399H690.3V1388H694.1V1384H697.8V1381H701.6V1387H705.4V1400H709.1V1399H712.9V1398H716.6V1387H720.4V1391H724.1V1393H727.9V1391H731.7V1398H735.4V1402H739.2V1396H742.9V1398H746.7V1389H750.4V1396H754.2V1397H758V1395H761.7V1392H765.5V1394H769.2V1386H773V1399H776.8V1395H784.3V1398H788V1392H791.8V1399H795.5V1392H799.3V1399H803.1V1390H806.8V1393H810.6V1390H814.3V1388H818.1V1391H821.8V1400H825.6V1393H829.4V1387H833.1V1397H840.6V1391H844.4V1398H851.9V1397H855.7V1400H859.4V1399H863.2V1395H866.9V1388H870.7V1393H874.5V1398H878.2V1400H882V1398H885.7V1389H889.5V1394H893.2V1398H897V1389H900.8V1400H904.5V1392H908.3V1397H912V1391H915.8V1392H919.5V1394H923.3V1393H927.1V1397H934.6V1386H938.3V1389H942.1V1395H945.8V1390H949.6V1397H953.4V1389H957.1V1394H960.9V1395H964.6V1390H968.4V1391H972.2V1381H975.9V1374H979.7V1376H983.4V1385H987.2V1398H990.9V1400H994.7V1393H998.5V1395H1002.2V1390H1006V1396H1009.7V1393H1013.5V1397H1017.2V1389H1021V1395H1024.8V1390H1036V1400H1039.8V1394H1043.5V1399H1047.3V1402H1051.1V1386H1054.8V1378H1058.6V1375H1062.3V1379H1066.1V1381H1069.9V1378H1073.6V1397H1077.4V1394H1081.1V1395H1084.9V1389H1088.6V1388H1092.4V1398H1099.9V1391H1103.7V1394H1107.4V1391H1111.2V1390H1114.9V1397H1122.5V1396H1126.2V1392H1130V1389H1133.7V1387H1137.5V1386H1141.2V1396H1145V1393H1152.5V1390H1156.3V1394H1160V1400H1163.8V1396H1167.6V1392H1171.3V1390H1175.1V1398H1178.8V1397H1182.6V1388H1186.3V1396H1190.1V1397H1193.9V1392H1197.6V1393H1201.4V1399H1205.1V1394H1208.9V1389H1212.6V1396H1216.4V1397H1220.2V1398H1223.9V1389H1231.4V1395H1235.2V1396H1239V1399H1242.7V1395H1246.5V1391H1250.2V1398H1254V1392H1257.7V1391H1265.3V1392H1269V1398H1272.8V1396H1276.5V1391H1280.3V1399H1284V1394H1287.8V1388H1291.6V1396H1295.3V1392H1299.1V1387H1302.8V1393H1306.6V1396H1310.3V1392H1314.1V1395H1317.9V1399H1321.6V1377H1325.4V1379H1336.7V1403H1340.4V1397H1344.2V1394H1347.9V1395H1351.7V1394H1355.4V1393H1359.2V1387H1363V1386H1366.7V1388H1370.5V1389H1374.2V1399H1378V1396H1381.7V1398H1385.5V1396H1389.3V1400H1393V1398H1396.8V1390H1400.5V1389H1404.3V1395H1408V1400H1411.8V1397H1415.6V1387H1419.3V1394H1423.1V1389H1426.8V1390H1430.6V1397H1434.4V1396H1438.1V1401H1441.9V1396H1449.4V1389H1453.1V1391H1456.9V1398H1460.7V1396H1464.4V1391H1468.2V1389H1471.9V1394H1479.4V1391H1483.2V1396H1487V1399H1490.7V1396H1494.5V1393H1498.2V1378H1502V1375H1505.7V1377H1509.5V1379H1513.3V1381H1517V1377H1520.8V1380H1524.5V1394H1528.3V1400H1532.1V1394H1535.8V1389H1539.6V1392H1543.3V1394H1547.1V1389H1550.8V1397H1554.6V1392H1558.4V1399H1562.1V1393H1565.9V1397H1569.6V1391H1573.4V1397H1584.7V1394H1588.4V1399H1592.2V1398H1595.9V1393H1599.7V1389H1603.4V1401H1607.2V1391H1611V1387H1614.7V1398H1622.2V1393H1626V1389H1629.8V1397H1633.5V1395H1637.3V1393H1641V1390H1644.8V1393H1648.5V1403H1652.3V1396H1659.8V1392H1663.6V1396H1667.3V1391H1671.1V1389H1674.8V1386H1678.6V1389H1682.4V1392H1686.1V1395H1689.9V1394H1693.6V1390H1697.4V1388H1701.1V1394H1704.9V1395H1712.4V1397H1716.2V1392H1719.9V1389H1723.7V1387H1727.5V1395H1731.2V1391H1735V1396H1738.7V1399H1742.5V1404H1746.2V1400H1750V1394H1757.5V1388H1761.3V1401H1765V1397H1768.8V1389H1772.5V1396H1780.1V1400H1783.8V1390H1787.6V1391H1791.3V1392H1795.1V1399H1798.8V1391H1802.6V1398H1806.4V1394H1810.1V1393H1813.9V1391H1817.6V1389H1821.4V1398H1825.2V1399H1828.9V1396H1832.7V1398H1836.4V1397H1840.2V1392H1843.9V1399H1847.7V1390H1851.5V1391H1855.2V1398H1859V1390H1866.5V1389H1870.2V1381H1874V1388H1877.8V1387H1881.5V1385H1885.3V1381H1889V1377H1892.8V1382H1896.5V1390H1900.3V1396H1904.1V1389H1907.8V1390H1911.6V1395H1915.3V1400H1919.1V1391H1922.9V1398H1926.6V1400H1930.4V1392H1934.1V1393H1937.9V1392H1941.6V1400H1945.4V1393H1949.2V1399H1952.9V1395H1956.7V1390H1960.4V1402H1964.2V1395H1967.9V1398H1971.7V1397H1975.5V1395H1979.2V1392H1983V1401H1986.7V1389H1990.5V1395H1994.2V1399H1998V1396H2001.8V1399H2005.5V1391H2009.3V1395H2013V1399H2016.8V1377H2020.6V1379H2024.3V1380H2028.1V1376H2035.6V1361H2039.3V1388H2043.1V1387H2046.9V1380H2050.6V1379H2054.4V1380H2058.1V1394H2061.9V1393H2073.2V1392H2076.9V1385H2080.7V1386H2084.4V1396H2088.2V1399H2091.9V1393H2095.7V1392H2099.5V1400H2103.2V1394H2107V1389H2110.7V1401H2114.5V1399H2118.3V1391H2122V1400H2125.8V1396H2129.5V1402H2133.3V1397H2137V1392H2140.8V1395H2144.6V1398H2148.3V1396H2152.1V1398H2159.6V1395H2163.3V1397H2167.1V1391H2170.9V1392H2182.1V1398H2185.9V1393H2189.6V1399H2193.4V1390H2200.9V1378H2204.7V1399H2208.4V1394H2212.2V1392H2216V1395H2219.7V1401H2223.5V1393H2227.2V1392H2231V1395H2234.7V1391H2238.5V1432H2234.7V1431H2231V1432H2227.2V1433H2219.7V1431H2204.7V1432H2197.2V1431H2189.6V1433H2185.9V1432H2182.1V1431H2174.6V1433H2155.8V1432H2152.1V1430H2148.3V1433H2140.8V1431H2133.3V1433H2129.5V1432H2125.8V1434H2122V1432H2118.3V1431H2114.5V1432H2110.7V1429H2107V1430H2103.2V1431H2099.5V1432H2095.7V1430H2091.9V1433H2088.2V1432H2084.4V1430H2080.7V1431H2076.9V1432H2069.4V1431H2061.9V1432H2058.1V1422H2054.4V1388H2050.6V1390H2046.9V1421H2043.1V1420H2039.3V1431H2035.6V1403H2031.8V1401H2028.1V1402H2024.3V1401H2020.6V1432H2016.8V1431H2009.3V1430H2005.5V1431H1994.2V1429H1990.5V1431H1986.7V1433H1983V1431H1979.2V1432H1956.7V1433H1952.9V1432H1945.4V1431H1937.9V1432H1930.4V1433H1926.6V1432H1922.9V1431H1919.1V1432H1915.3V1431H1904.1V1429H1900.3V1432H1896.5V1425H1892.8V1422H1889V1423H1881.5V1411H1877.8V1410H1874V1409H1866.5V1432H1862.7V1430H1859V1432H1855.2V1433H1851.5V1431H1836.4V1430H1832.7V1432H1828.9V1430H1817.6V1431H1810.1V1434H1802.6V1431H1795.1V1430H1791.3V1432H1780.1V1431H1776.3V1432H1772.5V1431H1765V1432H1757.5V1429H1753.8V1432H1750V1430H1742.5V1432H1738.7V1433H1735V1431H1723.7V1433H1719.9V1432H1716.2V1429H1712.4V1431H1708.7V1433H1704.9V1430H1701.1V1431H1693.6V1429H1689.9V1432H1686.1V1431H1682.4V1432H1678.6V1430H1674.8V1431H1671.1V1429H1667.3V1432H1659.8V1433H1648.5V1431H1644.8V1432H1633.5V1431H1626V1432H1618.5V1431H1614.7V1430H1611V1432H1603.4V1430H1599.7V1432H1595.9V1433H1592.2V1431H1588.4V1432H1580.9V1431H1577.1V1432H1573.4V1431H1569.6V1432H1565.9V1430H1562.1V1431H1558.4V1432H1550.8V1434H1547.1V1431H1543.3V1432H1539.6V1433H1535.8V1431H1532.1V1433H1528.3V1431H1524.5V1388H1520.8V1390H1517V1391H1513.3V1390H1509.5V1433H1505.7V1432H1502V1391H1498.2V1432H1494.5V1431H1490.7V1432H1487V1433H1479.4V1432H1475.7V1433H1471.9V1432H1468.2V1430H1460.7V1432H1456.9V1433H1453.1V1430H1449.4V1431H1445.6V1432H1441.9V1431H1438.1V1432H1430.6V1434H1426.8V1433H1423.1V1432H1419.3V1430H1408V1432H1404.3V1431H1400.5V1435H1396.8V1431H1389.3V1430H1385.5V1431H1381.7V1432H1378V1433H1374.2V1431H1366.7V1432H1359.2V1433H1355.4V1430H1351.7V1431H1347.9V1432H1344.2V1430H1340.4V1432H1336.7V1429H1332.9V1393H1329.1V1392H1325.4V1434H1321.6V1430H1314.1V1433H1310.3V1430H1306.6V1431H1302.8V1430H1295.3V1431H1291.6V1432H1287.8V1430H1284V1431H1276.5V1433H1269V1432H1265.3V1430H1261.5V1431H1257.7V1433H1254V1431H1242.7V1430H1239V1433H1235.2V1431H1227.7V1435H1223.9V1430H1220.2V1433H1216.4V1431H1212.6V1432H1208.9V1429H1205.1V1431H1201.4V1432H1197.6V1433H1193.9V1429H1190.1V1430H1186.3V1432H1182.6V1431H1178.8V1433H1175.1V1431H1171.3V1433H1163.8V1432H1160V1434H1156.3V1431H1152.5V1432H1148.8V1431H1145V1430H1137.5V1429H1133.7V1432H1130V1429H1126.2V1430H1122.5V1431H1118.7V1430H1114.9V1429H1111.2V1430H1107.4V1432H1103.7V1430H1099.9V1431H1096.2V1435H1092.4V1432H1088.6V1429H1084.9V1431H1081.1V1432H1073.6V1413H1069.9V1412H1054.8V1434H1051.1V1430H1047.3V1433H1043.5V1432H1039.8V1431H1036V1432H1032.3V1433H1028.5V1430H1024.8V1429H1021V1432H1017.2V1429H1013.5V1430H1006V1432H1002.2V1430H998.5V1431H994.7V1432H983.4V1389H975.9V1431H972.2V1430H968.4V1431H960.9V1433H957.1V1432H949.6V1429H945.8V1430H942.1V1432H930.8V1430H927.1V1432H919.5V1431H912V1433H908.3V1429H904.5V1431H900.8V1433H897V1431H885.7V1433H882V1431H878.2V1432H870.7V1431H866.9V1432H855.7V1431H848.1V1430H840.6V1434H836.9V1432H825.6V1433H821.8V1434H818.1V1433H814.3V1432H799.3V1431H795.5V1432H784.3V1431H780.5V1432H776.8V1429H773V1430H769.2V1432H765.5V1433H761.7V1431H754.2V1432H750.4V1431H742.9V1432H739.2V1435H735.4V1433H731.7V1431H727.9V1430H724.1V1431H720.4V1430H716.6V1432H712.9V1431H709.1V1432H705.4V1408H701.6V1409H697.8V1431H686.6V1429H682.8V1431H679.1V1430H675.3V1431H656.5V1433H652.7V1432H649V1433H645.2V1431H637.7V1432H626.4V1430H622.7V1434H618.9V1431H615.2V1433H611.4V1429H607.7V1431H603.9V1432H596.4V1430H592.6V1431H585.1V1433H581.4V1431H577.6V1432H573.8V1431H570.1V1407H566.3V1410H562.6V1408H558.8V1407H551.3V1409H547.5V1429H543.8V1432H536.3V1433H532.5V1430H528.7V1433H525V1431H521.2V1429H517.5V1432H513.7V1431H510V1434H506.2V1429H502.4V1430H494.9V1431H491.2V1433H487.4V1431H483.7V1430H476.1V1431H472.4V1433H464.9V1430H461.1V1432H453.6V1431H449.8V1432H442.3V1433H438.6V1431H434.8V1433H431V1432H423.5V1431H419.8V1433H404.7V1430H401V1431H397.2V1430H393.5V1431H386V1433H378.4V1430H374.7V1432H367.2V1433H363.4V1432H359.6V1430H355.9V1431H352.1V1429H348.4V1431H344.6V1432H340.9V1430H333.3V1432H329.6V1433H322.1V1430H310.8V1431H303.3V1432H299.5V1431H295.8V1433H284.5V1432H277V1433H273.2V1432H269.5V1433H265.7V1431H258.2V1432H254.4V1429H250.7V1430H246.9V1432H243.2V1429H239.4Z" fill="#ffc8c8"/>
<path d="M239.4 1398H243.2V1394H246.9V1396H254.4V1402H258.2V1396H261.9V1397H265.7V1393H269.5V1400H273.2V1390H277V1395H280.7V1402H284.5V1391H288.3V1401H292V1402H295.8V1394H299.5V1389H303.3V1393H307V1403H310.8V1399H314.6V1398H318.3V1391H325.8V1398H329.6V1403H333.3V1397H337.1V1393H340.9V1403H344.6V1394H348.4V1396H352.1V1398H355.9V1390H359.6V1396H363.4V1397H367.2V1396H374.7V1400H378.4V1391H382.2V1401H386V1394H389.7V1391H393.5V1403H397.2V1390H401V1400H408.5V1396H412.3V1386H416V1393H419.8V1400H423.5V1396H427.3V1387H431V1401H434.8V1402H438.6V1404H442.3V1395H449.8V1401H453.6V1393H457.3V1396H464.9V1397H468.6V1399H472.4V1398H476.1V1396H479.9V1399H483.7V1398H487.4V1395H494.9V1401H502.4V1398H506.2V1396H510V1400H513.7V1399H517.5V1396H521.2V1399H525V1392H528.7V1395H532.5V1394H536.3V1399H540V1398H543.8V1385H547.5V1375H551.3V1372H555V1379H558.8V1380H562.6V1379H566.3V1375H570.1V1398H573.8V1399H577.6V1396H581.4V1402H588.9V1393H592.6V1403H596.4V1397H600.1V1391H603.9V1400H607.7V1402H611.4V1394H615.2V1403H618.9V1397H622.7V1393H626.4V1394H630.2V1393H634V1400H637.7V1393H641.5V1396H645.2V1395H649V1392H652.7V1399H656.5V1398H660.3V1393H664V1402H667.8V1392H671.5V1401H675.3V1393H679.1V1406H682.8V1394H686.6V1400H690.3V1390H694.1V1387H697.8V1383H701.6V1390H705.4V1401H716.6V1389H720.4V1393H724.1V1394H727.9V1393H731.7V1400H735.4V1405H739.2V1398H742.9V1400H746.7V1390H750.4V1399H758V1398H761.7V1396H765.5V1395H769.2V1388H773V1401H776.8V1399H780.5V1396H784.3V1401H788V1395H791.8V1402H795.5V1395H799.3V1400H803.1V1392H806.8V1396H810.6V1393H814.3V1391H818.1V1393H821.8V1403H825.6V1396H829.4V1390H833.1V1399H840.6V1395H844.4V1402H848.1V1399H855.7V1403H859.4V1401H863.2V1396H866.9V1392H870.7V1396H874.5V1399H878.2V1402H882V1399H885.7V1390H889.5V1396H893.2V1400H897V1391H900.8V1402H904.5V1394H908.3V1400H912V1392H915.8V1394H919.5V1397H923.3V1395H927.1V1400H930.8V1399H934.6V1390H938.3V1393H942.1V1397H945.8V1393H949.6V1400H953.4V1391H957.1V1396H964.6V1394H972.2V1383H975.9V1376H979.7V1379H983.4V1388H987.2V1401H990.9V1402H994.7V1395H998.5V1397H1002.2V1391H1006V1400H1009.7V1394H1013.5V1400H1017.2V1392H1021V1398H1024.8V1392H1028.5V1394H1032.3V1391H1036V1403H1039.8V1396H1043.5V1402H1047.3V1405H1051.1V1388H1054.8V1380H1058.6V1378H1062.3V1381H1066.1V1383H1069.9V1382H1073.6V1400H1077.4V1396H1081.1V1397H1084.9V1393H1088.6V1391H1092.4V1400H1096.2V1399H1099.9V1395H1103.7V1396H1107.4V1393H1111.2V1392H1114.9V1399H1118.7V1400H1122.5V1399H1126.2V1395H1130V1392H1133.7V1389H1137.5V1387H1141.2V1397H1145V1395H1148.8V1397H1152.5V1393H1156.3V1398H1160V1402H1163.8V1400H1167.6V1396H1171.3V1393H1175.1V1402H1178.8V1399H1182.6V1390H1186.3V1400H1190.1V1401H1193.9V1395H1197.6V1396H1201.4V1402H1205.1V1397H1208.9V1391H1212.6V1399H1216.4V1398H1220.2V1399H1223.9V1390H1227.7V1391H1231.4V1398H1235.2V1399H1239V1401H1242.7V1399H1246.5V1393H1250.2V1401H1254V1394H1257.7V1393H1261.5V1394H1269V1401H1272.8V1398H1276.5V1393H1280.3V1402H1284V1397H1287.8V1391H1291.6V1400H1295.3V1394H1299.1V1390H1302.8V1397H1306.6V1398H1310.3V1394H1314.1V1396H1317.9V1400H1321.6V1379H1325.4V1383H1329.1V1382H1332.9V1381H1336.7V1404H1340.4V1399H1344.2V1396H1351.7V1397H1355.4V1396H1359.2V1389H1363V1388H1366.7V1391H1370.5V1392H1374.2V1401H1378V1398H1381.7V1401H1385.5V1399H1389.3V1403H1393V1400H1396.8V1392H1400.5V1391H1404.3V1399H1408V1402H1411.8V1399H1415.6V1391H1419.3V1396H1423.1V1392H1426.8V1393H1430.6V1401H1434.4V1397H1438.1V1404H1441.9V1400H1449.4V1390H1453.1V1393H1456.9V1400H1464.4V1392H1471.9V1396H1479.4V1395H1483.2V1399H1487V1401H1490.7V1398H1494.5V1396H1498.2V1379H1502V1378H1505.7V1379H1509.5V1382H1517V1380H1520.8V1382H1524.5V1396H1528.3V1402H1532.1V1398H1535.8V1392H1539.6V1394H1543.3V1397H1547.1V1392H1550.8V1398H1554.6V1395H1558.4V1401H1562.1V1396H1565.9V1398H1569.6V1393H1573.4V1398H1577.1V1399H1584.7V1398H1588.4V1401H1592.2V1402H1595.9V1395H1599.7V1391H1603.4V1402H1607.2V1394H1611V1390H1614.7V1401H1618.5V1400H1622.2V1396H1626V1392H1629.8V1400H1633.5V1396H1641V1392H1644.8V1394H1648.5V1405H1652.3V1398H1656.1V1399H1659.8V1394H1663.6V1398H1667.3V1393H1674.8V1387H1678.6V1393H1682.4V1394H1686.1V1397H1689.9V1396H1693.6V1392H1697.4V1390H1701.1V1398H1704.9V1397H1708.7V1398H1712.4V1399H1716.2V1394H1719.9V1391H1723.7V1390H1727.5V1397H1731.2V1393H1735V1398H1738.7V1402H1742.5V1406H1746.2V1403H1750V1396H1757.5V1392H1761.3V1403H1765V1401H1768.8V1391H1772.5V1399H1776.3V1398H1780.1V1403H1783.8V1393H1787.6V1392H1791.3V1395H1795.1V1401H1798.8V1393H1802.6V1401H1806.4V1397H1810.1V1396H1813.9V1394H1817.6V1392H1821.4V1400H1825.2V1401H1828.9V1398H1832.7V1400H1836.4V1399H1840.2V1393H1843.9V1401H1847.7V1393H1855.2V1401H1859V1392H1862.7V1393H1866.5V1392H1870.2V1385H1874V1392H1877.8V1389H1885.3V1382H1889V1380H1892.8V1383H1896.5V1393H1900.3V1398H1904.1V1391H1907.8V1394H1911.6V1398H1915.3V1403H1919.1V1393H1922.9V1402H1930.4V1393H1934.1V1396H1937.9V1395H1941.6V1402H1945.4V1396H1949.2V1401H1952.9V1397H1956.7V1394H1960.4V1404H1964.2V1397H1967.9V1400H1975.5V1398H1979.2V1396H1983V1405H1986.7V1392H1990.5V1397H1994.2V1401H1998V1398H2001.8V1400H2005.5V1395H2009.3V1398H2013V1401H2016.8V1380H2020.6V1383H2028.1V1379H2031.8V1378H2035.6V1365H2039.3V1390H2043.1V1389H2046.9V1383H2058.1V1397H2061.9V1395H2065.6V1396H2069.4V1395H2073.2V1394H2076.9V1388H2084.4V1399H2088.2V1403H2091.9V1394H2095.7V1395H2099.5V1402H2103.2V1396H2107V1391H2110.7V1402H2114.5V1401H2118.3V1395H2122V1402H2125.8V1399H2129.5V1404H2133.3V1400H2137V1395H2140.8V1397H2144.6V1399H2148.3V1400H2152.1V1399H2155.8V1400H2159.6V1398H2163.3V1399H2167.1V1394H2170.9V1395H2174.6V1394H2178.4V1395H2182.1V1401H2185.9V1395H2189.6V1402H2193.4V1393H2197.2V1392H2200.9V1381H2204.7V1401H2208.4V1397H2212.2V1394H2216V1397H2219.7V1402H2223.5V1396H2227.2V1395H2231V1398H2234.7V1393H2238.5V1431H2234.7V1428H2231V1429H2227.2V1431H2223.5V1429H2216V1428H2212.2V1429H2204.7V1430H2200.9V1429H2197.2V1427H2193.4V1429H2189.6V1430H2167.1V1429H2163.3V1430H2159.6V1431H2155.8V1428H2148.3V1431H2144.6V1430H2140.8V1428H2133.3V1430H2125.8V1431H2122V1430H2118.3V1428H2114.5V1430H2110.7V1428H2103.2V1429H2099.5V1428H2091.9V1430H2088.2V1429H2084.4V1428H2080.7V1429H2069.4V1430H2065.6V1429H2058.1V1421H2054.4V1388H2050.6V1389H2046.9V1419H2043.1V1418H2039.3V1429H2035.6V1399H2031.8V1398H2028.1V1399H2020.6V1430H2016.8V1429H2009.3V1428H1998V1430H1994.2V1427H1990.5V1428H1986.7V1431H1983V1430H1979.2V1429H1975.5V1428H1971.7V1429H1967.9V1430H1949.2V1431H1945.4V1429H1937.9V1431H1934.1V1430H1930.4V1431H1926.6V1430H1922.9V1428H1919.1V1429H1907.8V1428H1904.1V1427H1900.3V1430H1896.5V1422H1892.8V1419H1889V1420H1885.3V1421H1881.5V1409H1877.8V1408H1870.2V1407H1866.5V1430H1862.7V1428H1859V1429H1855.2V1430H1851.5V1429H1843.9V1428H1832.7V1429H1828.9V1428H1817.6V1427H1813.9V1428H1810.1V1431H1806.4V1430H1802.6V1428H1791.3V1429H1787.6V1431H1780.1V1429H1776.3V1430H1772.5V1429H1757.5V1427H1753.8V1430H1750V1429H1738.7V1430H1735V1429H1731.2V1428H1727.5V1429H1723.7V1430H1719.9V1429H1716.2V1427H1712.4V1428H1708.7V1430H1704.9V1427H1701.1V1430H1697.4V1429H1693.6V1427H1689.9V1429H1686.1V1427H1682.4V1430H1678.6V1428H1674.8V1429H1671.1V1427H1667.3V1430H1656.1V1429H1652.3V1430H1648.5V1429H1641V1430H1637.3V1429H1633.5V1428H1629.8V1429H1626V1430H1622.2V1429H1618.5V1427H1614.7V1428H1611V1429H1607.2V1431H1603.4V1427H1599.7V1429H1595.9V1430H1592.2V1429H1588.4V1431H1580.9V1429H1577.1V1430H1573.4V1429H1565.9V1428H1562.1V1429H1554.6V1428H1550.8V1431H1547.1V1429H1543.3V1428H1539.6V1432H1535.8V1430H1532.1V1431H1528.3V1428H1524.5V1386H1520.8V1389H1517V1390H1513.3V1388H1509.5V1429H1502V1389H1498.2V1429H1494.5V1428H1490.7V1431H1487V1430H1479.4V1429H1475.7V1430H1471.9V1429H1468.2V1428H1460.7V1429H1456.9V1430H1453.1V1428H1449.4V1429H1445.6V1431H1441.9V1429H1438.1V1430H1434.4V1428H1430.6V1432H1426.8V1429H1423.1V1430H1419.3V1428H1415.6V1429H1408V1430H1404.3V1428H1400.5V1431H1396.8V1429H1389.3V1428H1381.7V1429H1378V1430H1370.5V1429H1363V1430H1359.2V1431H1355.4V1428H1351.7V1429H1347.9V1428H1340.4V1429H1336.7V1427H1332.9V1390H1329.1V1389H1325.4V1430H1321.6V1428H1314.1V1429H1310.3V1428H1306.6V1430H1302.8V1428H1295.3V1429H1287.8V1427H1284V1429H1280.3V1428H1276.5V1430H1272.8V1429H1269V1431H1265.3V1429H1257.7V1431H1254V1428H1250.2V1429H1246.5V1428H1242.7V1429H1239V1430H1235.2V1428H1231.4V1430H1227.7V1431H1223.9V1429H1220.2V1430H1216.4V1429H1212.6V1430H1208.9V1428H1205.1V1430H1201.4V1429H1193.9V1428H1190.1V1427H1186.3V1429H1178.8V1432H1175.1V1429H1171.3V1430H1163.8V1429H1160V1431H1156.3V1428H1152.5V1430H1145V1428H1141.2V1429H1137.5V1427H1133.7V1429H1130V1428H1126.2V1427H1122.5V1429H1118.7V1428H1114.9V1427H1111.2V1428H1107.4V1431H1103.7V1428H1099.9V1429H1096.2V1431H1092.4V1429H1088.6V1427H1084.9V1429H1077.4V1430H1073.6V1412H1069.9V1410H1066.1V1409H1058.6V1410H1054.8V1431H1051.1V1429H1036V1430H1028.5V1427H1021V1430H1017.2V1427H1013.5V1428H1006V1429H1002.2V1428H994.7V1430H983.4V1388H975.9V1428H972.2V1429H964.6V1427H960.9V1430H957.1V1429H949.6V1428H945.8V1427H942.1V1429H930.8V1428H927.1V1429H912V1430H908.3V1427H904.5V1429H900.8V1430H897V1428H885.7V1429H874.5V1428H870.7V1429H866.9V1430H863.2V1429H851.9V1428H840.6V1431H836.9V1430H833.1V1429H829.4V1430H825.6V1432H821.8V1431H814.3V1430H810.6V1431H803.1V1429H799.3V1428H795.5V1430H791.8V1429H788V1431H784.3V1429H776.8V1427H773V1428H765.5V1429H761.7V1428H754.2V1431H750.4V1429H746.7V1428H742.9V1430H739.2V1431H735.4V1430H731.7V1429H727.9V1427H724.1V1428H716.6V1431H712.9V1428H709.1V1430H705.4V1406H701.6V1407H697.8V1429H686.6V1428H682.8V1430H679.1V1428H675.3V1429H671.5V1428H667.8V1429H652.7V1430H645.2V1428H641.5V1429H634V1430H626.4V1428H622.7V1431H618.9V1428H615.2V1430H611.4V1427H607.7V1429H603.9V1428H600.1V1429H592.6V1430H588.9V1429H585.1V1430H577.6V1429H573.8V1428H570.1V1404H566.3V1406H562.6V1405H558.8V1404H555V1405H547.5V1428H543.8V1430H532.5V1428H528.7V1430H525V1428H517.5V1429H513.7V1430H510V1431H506.2V1427H502.4V1428H491.2V1431H487.4V1430H483.7V1427H479.9V1428H476.1V1429H472.4V1432H468.6V1430H464.9V1429H457.3V1430H453.6V1428H449.8V1430H446.1V1429H442.3V1430H438.6V1429H434.8V1430H431V1429H416V1430H408.5V1431H404.7V1428H401V1429H397.2V1428H393.5V1429H386V1432H382.2V1431H378.4V1427H374.7V1429H370.9V1428H367.2V1431H359.6V1428H344.6V1429H340.9V1428H337.1V1429H329.6V1431H322.1V1428H318.3V1429H314.6V1428H310.8V1427H307V1428H303.3V1429H295.8V1430H288.3V1431H284.5V1430H273.2V1429H269.5V1431H265.7V1430H261.9V1429H258.2V1428H254.4V1427H250.7V1428H246.9V1430H243.2V1427H239.4Z" fill="#ff7474"/>
<path d="M239.4 1399H243.2V1396H246.9V1397H250.7V1396H254.4V1404H258.2V1400H265.7V1395H269.5V1400H273.2V1395H277V1396H280.7V1404H284.5V1394H288.3V1404H292V1402H295.8V1400H299.5V1393H303.3V1397H307V1406H310.8V1401H318.3V1393H325.8V1398H329.6V1403H333.3V1400H337.1V1395H340.9V1404H344.6V1396H348.4V1398H352.1V1400H355.9V1396H359.6V1397H363.4V1403H367.2V1398H370.9V1397H374.7V1402H378.4V1394H382.2V1401H386V1395H389.7V1396H393.5V1403H397.2V1395H401V1402H408.5V1401H412.3V1391H416V1395H419.8V1401H423.5V1398H427.3V1393H431V1403H434.8V1404H438.6V1407H442.3V1397H446.1V1396H449.8V1404H453.6V1394H457.3V1396H464.9V1397H468.6V1400H472.4V1403H476.1V1398H479.9V1399H487.4V1396H491.2V1397H494.9V1403H498.7V1402H502.4V1401H506.2V1398H510V1402H513.7V1400H517.5V1399H521.2V1400H525V1395H528.7V1398H532.5V1395H536.3V1401H540V1402H543.8V1390H547.5V1380H551.3V1372H555V1380H558.8V1382H566.3V1377H570.1V1399H573.8V1401H577.6V1397H581.4V1406H585.1V1404H588.9V1396H592.6V1405H596.4V1398H600.1V1396H603.9V1401H607.7V1403H611.4V1396H615.2V1407H618.9V1399H622.7V1396H626.4V1398H630.2V1395H634V1402H637.7V1394H641.5V1399H645.2V1397H649V1394H652.7V1400H656.5V1405H660.3V1394H664V1405H667.8V1394H671.5V1401H675.3V1395H679.1V1406H682.8V1399H686.6V1404H690.3V1390H694.1V1387H697.8V1385H701.6V1392H705.4V1405H709.1V1402H716.6V1391H720.4V1395H724.1V1398H727.9V1395H731.7V1400H735.4V1407H739.2V1399H742.9V1401H746.7V1395H750.4V1401H754.2V1402H758V1400H761.7V1397H765.5V1395H769.2V1393H773V1401H776.8V1402H780.5V1399H784.3V1403H788V1398H791.8V1404H795.5V1398H799.3V1403H803.1V1394H806.8V1398H810.6V1395H814.3V1392H818.1V1395H821.8V1404H825.6V1399H829.4V1395H833.1V1401H836.9V1400H840.6V1397H844.4V1404H848.1V1402H851.9V1400H855.7V1405H859.4V1403H863.2V1399H866.9V1393H870.7V1398H874.5V1400H878.2V1404H882V1403H885.7V1392H889.5V1397H893.2V1402H897V1398H900.8V1402H904.5V1395H908.3V1401H912V1393H915.8V1396H919.5V1397H923.3V1396H927.1V1401H934.6V1392H938.3V1393H942.1V1397H945.8V1396H949.6V1400H953.4V1393H957.1V1399H960.9V1398H964.6V1394H968.4V1399H972.2V1383H975.9V1380H979.7V1382H983.4V1390H987.2V1403H990.9V1405H994.7V1402H998.5V1398H1002.2V1394H1006V1401H1009.7V1398H1013.5V1401H1017.2V1395H1021V1400H1024.8V1393H1028.5V1396H1032.3V1399H1036V1404H1039.8V1399H1043.5V1402H1047.3V1406H1051.1V1390H1054.8V1382H1058.6V1378H1062.3V1384H1066.1V1386H1069.9V1384H1073.6V1402H1077.4V1397H1081.1V1398H1084.9V1395H1088.6V1394H1092.4V1401H1096.2V1404H1099.9V1397H1103.7V1402H1107.4V1395H1111.2V1396H1114.9V1404H1118.7V1401H1122.5V1400H1126.2V1395H1130V1394H1141.2V1398H1145V1396H1148.8V1398H1152.5V1393H1156.3V1399H1160V1402H1163.8V1400H1167.6V1398H1171.3V1395H1175.1V1402H1178.8V1403H1182.6V1393H1186.3V1401H1190.1V1403H1193.9V1396H1197.6V1397H1201.4V1403H1205.1V1400H1208.9V1394H1212.6V1400H1216.4V1403H1220.2V1401H1223.9V1393H1227.7V1391H1231.4V1398H1235.2V1399H1239V1404H1242.7V1400H1246.5V1399H1250.2V1401H1254V1396H1257.7V1395H1261.5V1394H1265.3V1396H1269V1403H1272.8V1400H1276.5V1395H1280.3V1404H1284V1401H1287.8V1394H1291.6V1402H1295.3V1396H1299.1V1392H1302.8V1397H1306.6V1399H1310.3V1394H1314.1V1396H1317.9V1401H1321.6V1382H1325.4V1385H1329.1V1383H1336.7V1404H1340.4V1403H1344.2V1399H1351.7V1397H1355.4V1400H1359.2V1391H1363V1392H1370.5V1394H1374.2V1401H1378V1400H1381.7V1403H1385.5V1401H1389.3V1404H1393V1401H1396.8V1392H1400.5V1393H1404.3V1400H1408V1403H1411.8V1400H1415.6V1392H1419.3V1398H1423.1V1394H1426.8V1395H1430.6V1402H1434.4V1400H1438.1V1404H1441.9V1400H1445.6V1403H1449.4V1395H1453.1V1397H1456.9V1402H1460.7V1401H1464.4V1393H1468.2V1394H1471.9V1397H1475.7V1400H1479.4V1397H1483.2V1402H1487V1403H1490.7V1399H1494.5V1396H1498.2V1381H1502V1380H1505.7V1385H1509.5V1382H1513.3V1385H1517V1382H1524.5V1397H1528.3V1406H1532.1V1400H1535.8V1395H1543.3V1400H1547.1V1395H1550.8V1404H1554.6V1398H1558.4V1402H1562.1V1399H1565.9V1400H1569.6V1396H1573.4V1402H1577.1V1401H1580.9V1402H1584.7V1400H1588.4V1404H1592.2V1402H1595.9V1395H1599.7V1392H1603.4V1403H1607.2V1396H1611V1393H1614.7V1402H1622.2V1398H1626V1395H1629.8V1405H1633.5V1401H1637.3V1397H1641V1398H1644.8V1397H1648.5V1406H1652.3V1404H1659.8V1397H1663.6V1400H1667.3V1398H1671.1V1395H1674.8V1393H1678.6V1396H1686.1V1401H1689.9V1399H1693.6V1393H1701.1V1399H1704.9V1402H1708.7V1399H1712.4V1401H1716.2V1398H1719.9V1393H1723.7V1394H1727.5V1399H1731.2V1400H1735V1404H1742.5V1406H1746.2V1404H1750V1397H1753.8V1399H1757.5V1394H1761.3V1405H1765V1401H1768.8V1393H1772.5V1402H1776.3V1401H1780.1V1405H1783.8V1395H1787.6V1397H1791.3V1395H1795.1V1405H1798.8V1396H1802.6V1401H1806.4V1400H1810.1V1398H1813.9V1396H1817.6V1398H1821.4V1404H1825.2V1403H1828.9V1399H1832.7V1403H1836.4V1401H1840.2V1399H1843.9V1401H1847.7V1394H1851.5V1396H1855.2V1401H1859V1393H1866.5V1394H1870.2V1387H1874V1392H1885.3V1386H1889V1383H1892.8V1391H1896.5V1393H1900.3V1398H1904.1V1391H1907.8V1394H1911.6V1399H1915.3V1405H1919.1V1398H1922.9V1403H1930.4V1400H1934.1V1398H1937.9V1397H1941.6V1405H1945.4V1399H1949.2V1401H1952.9V1399H1956.7V1395H1960.4V1405H1964.2V1400H1967.9V1401H1975.5V1399H1979.2V1397H1983V1407H1986.7V1398H1990.5V1400H1994.2V1404H1998V1399H2001.8V1401H2005.5V1397H2009.3V1404H2016.8V1382H2020.6V1385H2024.3V1384H2028.1V1381H2031.8V1378H2035.6V1366H2039.3V1391H2046.9V1384H2054.4V1388H2058.1V1397H2061.9V1396H2065.6V1397H2069.4V1396H2073.2V1397H2076.9V1391H2080.7V1394H2084.4V1400H2088.2V1405H2091.9V1400H2095.7V1396H2099.5V1403H2103.2V1401H2107V1396H2110.7V1405H2114.5V1403H2118.3V1397H2122V1402H2125.8V1399H2129.5V1406H2133.3V1402H2137V1395H2140.8V1399H2144.6V1400H2148.3V1402H2152.1V1403H2155.8V1401H2159.6V1399H2167.1V1394H2170.9V1401H2174.6V1398H2182.1V1403H2185.9V1400H2189.6V1403H2193.4V1396H2197.2V1393H2200.9V1383H2204.7V1404H2208.4V1397H2212.2V1396H2216V1397H2219.7V1402H2223.5V1397H2231V1398H2234.7V1399H2238.5V1428H2234.7V1427H2231V1428H2216V1427H2208.4V1429H2204.7V1427H2189.6V1428H2182.1V1427H2178.4V1428H2167.1V1429H2163.3V1428H2152.1V1427H2148.3V1428H2140.8V1427H2133.3V1429H2129.5V1428H2122V1429H2118.3V1428H2110.7V1427H2099.5V1426H2095.7V1427H2091.9V1428H2088.2V1427H2080.7V1426H2076.9V1427H2073.2V1428H2058.1V1418H2054.4V1388H2046.9V1417H2039.3V1427H2035.6V1399H2031.8V1398H2020.6V1427H2013V1428H2005.5V1427H2001.8V1428H1998V1427H1986.7V1428H1979.2V1429H1975.5V1428H1949.2V1427H1945.4V1428H1941.6V1427H1937.9V1428H1919.1V1427H1915.3V1428H1911.6V1427H1900.3V1428H1896.5V1421H1892.8V1419H1889V1420H1881.5V1407H1877.8V1406H1874V1405H1870.2V1406H1866.5V1427H1859V1428H1851.5V1427H1847.7V1428H1836.4V1427H1832.7V1428H1828.9V1427H1813.9V1428H1810.1V1429H1806.4V1428H1798.8V1427H1795.1V1426H1791.3V1427H1787.6V1428H1780.1V1427H1776.3V1428H1772.5V1427H1753.8V1428H1750V1426H1746.2V1427H1738.7V1429H1735V1428H1716.2V1427H1712.4V1428H1704.9V1427H1697.4V1428H1693.6V1427H1689.9V1428H1686.1V1427H1682.4V1428H1678.6V1427H1667.3V1428H1652.3V1427H1648.5V1428H1644.8V1429H1641V1428H1637.3V1427H1626V1428H1622.2V1427H1607.2V1428H1603.4V1427H1599.7V1428H1595.9V1429H1592.2V1427H1588.4V1428H1584.7V1427H1580.9V1428H1565.9V1427H1562.1V1428H1558.4V1427H1550.8V1428H1528.3V1427H1524.5V1386H1517V1389H1513.3V1386H1509.5V1427H1502V1388H1498.2V1427H1490.7V1428H1479.4V1427H1475.7V1428H1471.9V1427H1460.7V1428H1453.1V1427H1449.4V1428H1430.6V1429H1426.8V1428H1423.1V1427H1411.8V1428H1400.5V1429H1396.8V1427H1389.3V1428H1381.7V1427H1378V1428H1374.2V1427H1370.5V1428H1366.7V1427H1363V1428H1359.2V1429H1355.4V1427H1351.7V1428H1347.9V1427H1344.2V1428H1336.7V1427H1332.9V1389H1325.4V1428H1321.6V1427H1317.9V1428H1314.1V1427H1310.3V1428H1306.6V1426H1299.1V1427H1295.3V1426H1291.6V1428H1287.8V1427H1280.3V1428H1272.8V1427H1269V1428H1265.3V1427H1257.7V1428H1239V1429H1235.2V1427H1231.4V1428H1227.7V1429H1223.9V1427H1220.2V1428H1208.9V1427H1205.1V1428H1193.9V1427H1182.6V1429H1175.1V1427H1171.3V1428H1163.8V1429H1160V1428H1137.5V1427H1118.7V1428H1114.9V1427H1107.4V1428H1103.7V1427H1099.9V1428H1096.2V1429H1092.4V1427H1081.1V1428H1077.4V1427H1073.6V1410H1066.1V1408H1062.3V1409H1054.8V1428H1039.8V1427H1036V1428H1028.5V1427H1009.7V1428H998.5V1427H994.7V1428H983.4V1386H979.7V1385H975.9V1428H972.2V1427H968.4V1428H964.6V1427H953.4V1428H949.6V1427H945.8V1426H942.1V1427H934.6V1428H927.1V1427H923.3V1428H915.8V1427H912V1428H908.3V1427H893.2V1428H882V1427H878.2V1428H866.9V1427H863.2V1428H851.9V1427H844.4V1428H840.6V1429H836.9V1428H833.1V1427H829.4V1428H825.6V1429H821.8V1428H814.3V1427H810.6V1428H799.3V1427H795.5V1428H791.8V1427H788V1428H776.8V1427H761.7V1428H750.4V1427H739.2V1429H735.4V1428H731.7V1427H720.4V1428H709.1V1427H705.4V1406H701.6V1405H697.8V1429H694.1V1427H690.3V1428H686.6V1427H682.8V1429H679.1V1427H675.3V1428H667.8V1427H656.5V1428H652.7V1429H649V1428H645.2V1427H634V1428H626.4V1427H622.7V1429H618.9V1428H611.4V1427H607.7V1428H603.9V1427H600.1V1428H596.4V1427H588.9V1428H585.1V1429H581.4V1427H577.6V1428H573.8V1427H570.1V1403H566.3V1404H558.8V1403H555V1404H551.3V1403H547.5V1428H543.8V1429H536.3V1428H532.5V1427H528.7V1428H521.2V1427H513.7V1428H510V1429H506.2V1427H491.2V1428H487.4V1427H483.7V1426H479.9V1427H476.1V1428H464.9V1427H461.1V1428H457.3V1427H453.6V1428H446.1V1427H442.3V1428H431V1427H427.3V1428H423.5V1427H419.8V1428H416V1429H408.5V1428H404.7V1427H401V1428H397.2V1427H393.5V1428H386V1429H382.2V1428H378.4V1427H374.7V1428H367.2V1429H363.4V1428H359.6V1427H355.9V1428H352.1V1427H348.4V1428H344.6V1429H340.9V1427H337.1V1428H325.8V1429H322.1V1428H318.3V1427H303.3V1429H299.5V1428H295.8V1427H292V1428H280.7V1427H269.5V1428H261.9V1427H246.9V1428H243.2V1427H239.4Z" fill="#ff0000"/>
</g>
<g class="traces" clip-path="url(#clipB)">
<path d="M261.6 2907H265.4V2909H269.1V2904H272.9V2852H276.6V2804H280.4V2785H284.2V2747H287.9V2748H291.7V2756H295.5V2767H299.2V2796H303V2832H306.7V2865H310.5V2900H314.3V2854H318V2817H321.8V2772H325.6V2766H329.3V2807H333.1V2831H336.8V2853H340.6V2879H344.4V2904H348.1V2894H351.9V2884H355.7V2882H359.4V2865H363.2V2842H366.9V2845H370.7V2871H374.5V2807H378.2V2753H382V2804H385.8V2820H389.5V2825H393.3V2804H397V2801H400.8V2795H404.6V2777H408.3V2817H412.1V2841H415.8V2846H419.6V2826H423.4V2822H427.1V2786H430.9V2789H434.7V2827H438.4V2841H442.2V2810H445.9V2806H449.7V2819H453.5V2836H457.2V2844H461V2855H464.8V2854H468.5V2850H472.3V2834H476V2867H479.8V2865H483.6V2844H487.3V2826H491.1V2830H494.9V2863H498.6V2860H502.4V2881H509.9V2855H513.7V2853H517.4V2866H521.2V2871H525V2881H528.7V2869H532.5V2863H536.2V2877H540V2883H543.8V2866H547.5V2845H551.3V2806H555V2807H558.8V2841H562.6V2826H566.3V2783H570.1V2818H573.9V2852H577.6V2847H581.4V2834H585.1V2819H588.9V2812H592.7V2808H596.4V2794H600.2V2807H604V2821H607.7V2812H611.5V2774H615.2V2788H619V2821H622.8V2822H626.5V2762H630.3V2788H634.1V2825H637.8V2845H641.6V2832H645.3V2826H649.1V2837H652.9V2828H656.6V2827H660.4V2806H667.9V2828H671.7V2837H675.4V2839H679.2V2836H683V2829H686.7V2808H690.5V2704H694.2V2712H698V2735H701.8V2732H705.5V2738H709.3V2773H713.1V2800H716.8V2820H720.6V2828H724.3V2786H728.1V2781H731.9V2794H735.6V2804H739.4V2838H743.2V2827H746.9V2786H750.7V2764H754.4V2768H758.2V2763H762V2719H765.7V2717H769.5V2754H773.3V2775H777V2783H780.8V2790H784.5V2792H788.3V2810H792.1V2819H795.8V2794H799.6V2783H803.4V2784H807.1V2813H810.9V2797H814.6V2788H818.4V2787H822.2V2811H825.9V2825H829.7V2761H833.5V2769H837.2V2775H841V2779H844.7V2791H848.5V2799H852.3V2806H856V2814H859.8V2821H863.5V2811H871.1V2815H874.8V2826H878.6V2811H882.4V2778H886.1V2774H889.9V2794H893.6V2805H897.4V2824H901.2V2811H904.9V2804H908.7V2802H912.5V2801H916.2V2784H923.7V2772H927.5V2777H931.3V2797H935V2786H938.8V2755H942.6V2731H946.3V2732H950.1V2753H953.8V2715H957.6V2714H961.4V2722H965.1V2727H968.9V2749H972.7V2771H976.4V2786H980.2V2812H983.9V2831H987.7V2765H991.5V2764H995.2V2775H999V2797H1002.7V2808H1006.5V2820H1010.3V2819H1014V2821H1017.8V2819H1021.6V2831H1025.3V2829H1029.1V2811H1032.8V2791H1036.6V2747H1040.4V2715H1044.1V2702H1047.9V2607H1051.7V2587H1055.4V2650H1059.2V2750H1062.9V2781H1066.7V2786H1070.5V2780H1074.2V2749H1078V2764H1081.8V2777H1085.5V2769H1089.3V2777H1093V2749H1096.8V2776H1100.6V2808H1104.3V2840H1108.1V2828H1111.9V2784H1115.6V2765H1119.4V2763H1123.1V2700H1126.9V2697H1130.7V2713H1134.4V2730H1138.2V2741H1141.9V2730H1145.7V2705H1149.5V2654H1153.2V2761H1157V2766H1160.8V2748H1164.5V2714H1168.3V2729H1172V2749H1175.8V2745H1179.6V2798H1183.3V2822H1187.1V2819H1190.9V2791H1194.6V2735H1198.4V2744H1202.1V2812H1205.9V2833H1209.7V2809H1213.4V2755H1217.2V2770H1221V2789H1224.7V2818H1228.5V2829H1232.2V2820H1236V2826H1239.8V2818H1243.5V2816H1247.3V2823H1251.1V2812H1254.8V2791H1258.6V2765H1262.3V2768H1266.1V2763H1269.9V2740H1277.4V2787H1281.1V2806H1284.9V2800H1288.7V2808H1292.4V2814H1296.2V2817H1300V2850H1303.7V2856H1307.5V2859H1311.2V2847H1315V2862H1322.5V2863H1326.3V2864H1330.1V2849H1333.8V2822H1337.6V2804H1345.1V2785H1348.9V2788H1352.6V2808H1356.4V2813H1360.2V2804H1363.9V2781H1371.4V2820H1375.2V2816H1379V2787H1382.7V2789H1386.5V2820H1390.3V2821H1394V2785H1397.8V2744H1401.5V2746H1405.3V2796H1409.1V2812H1412.8V2822H1416.6V2819H1420.3V2802H1424.1V2804H1427.9V2832H1431.6V2824H1435.4V2813H1439.2V2812H1442.9V2826H1446.7V2824H1450.4V2818H1454.2V2812H1458V2796H1461.7V2801H1465.5V2843H1469.3V2857H1473V2859H1476.8V2851H1480.5V2822H1484.3V2792H1488.1V2768H1491.8V2765H1495.6V2764H1499.4V2748H1503.1V2764H1506.9V2772H1510.6V2754H1514.4V2725H1518.2V2729H1521.9V2784H1525.7V2795H1529.5V2809H1533.2V2816H1537V2818H1540.7V2815H1544.5V2774H1548.3V2791H1552V2799H1555.8V2821H1559.5V2818H1563.3V2827H1567.1V2846H1570.8V2863H1574.6V2868H1578.4V2875H1582.1V2857H1585.9V2828H1589.6V2819H1593.4V2807H1597.2V2834H1600.9V2835H1604.7V2833H1608.5V2820H1612.2V2829H1616V2835H1619.7V2846H1623.5V2835H1627.3V2811H1631V2800H1634.8V2799H1638.6V2787H1642.3V2795H1646.1V2811H1649.8V2824H1653.6V2826H1657.4V2836H1661.1V2850H1664.9V2848H1672.4V2829H1676.2V2788H1679.9V2719H1683.7V2709H1687.5V2733H1691.2V2761H1695V2770H1698.7V2775H1702.5V2785H1706.3V2773H1710V2753H1713.8V2758H1717.6V2808H1721.3V2818H1725.1V2779H1728.8V2774H1732.6V2772H1736.4V2770H1740.1V2738H1743.9V2741H1747.7V2772H1751.4V2790H1755.2V2745H1758.9V2744H1762.7V2753H1766.5V2750H1770.2V2710H1774V2677H1777.8V2661H1781.5V2701H1785.3V2674H1789V2672H1792.8V2738H1796.6V2775H1800.3V2806H1804.1V2741H1807.9V2704H1811.6V2710H1815.4V2718H1819.1V2717H1822.9V2784H1826.7V2786H1830.4V2764H1834.2V2714H1838V2747H1841.7V2778H1845.5V2752H1849.2V2727H1853V2795H1856.8V2798H1860.5V2803H1864.3V2785H1868V2766H1871.8V2743H1875.6V2734H1879.3V2707H1883.1V2704H1886.9V2711H1890.6V2737H1894.4V2736H1898.1V2746H1901.9V2743H1905.7V2745H1909.4V2769H1913.2V2792H1917V2779H1920.7V2766H1924.5V2775H1928.2V2779H1932V2785H1939.5V2789H1943.3V2781H1947.1V2795H1950.8V2801H1954.6V2802H1958.3V2787H1962.1V2778H1965.9V2752H1969.6V2751H1973.4V2774H1977.2V2790H1980.9V2804H1984.7V2803H1988.4V2787H1992.2V2776H1996V2764H1999.7V2742H2003.5V2717H2007.2V2722H2011V2752H2014.8V2732H2018.5V2721H2022.3V2764H2026.1V2760H2029.8V2743H2033.6V2747H2037.3V2748H2041.1V2734H2044.9V2736H2048.6V2769H2052.4V2777H2056.2V2784H2059.9V2768H2063.7V2783H2067.4V2805H2071.2V2808H2075V2809H2078.7V2747H2082.5V2738H2086.3V2773H2090V2746H2093.8V2740H2097.5V2779H2101.3V2793H2105.1V2790H2108.8V2781H2112.6V2754H2116.4V2725H2120.1V2667H2123.9V2711H2127.6V2768H2131.4V2796H2135.2V2797H2138.9V2793H2142.7V2760H2146.4V2730H2150.2V2731H2154V2734H2157.7V2719H2161.5V2728H2165.3V2792H2169V2780H2172.8V2772H2176.5V2790H2180.3V2801H2184.1V2811H2187.8V2817H2191.6V2790H2195.4V2779H2199.1V2760H2202.9V2781H2206.6V2792H2210.4V2799H2214.2V2782H2217.9V2770H2221.7V2766H2225.5V2757H2233V2755H2236.7V2729H2240.5V2712H2244.3V2767H2248V2775H2251.8V2758H2255.6V2735H2259.3V2743H2263.1V2795H2266.8V2774H2270.6V2893H2266.8V2894H2263.1V2900H2259.3V2881H2255.6V2860H2251.8V2859H2248V2849H2244.3V2838H2240.5V2843H2236.7V2841H2233V2837H2229.2V2859H2225.5V2864H2221.7V2865H2217.9V2883H2214.2V2908H2210.4V2913H2206.6V2896H2202.9V2864H2199.1V2868H2195.4V2896H2191.6V2897H2187.8V2892H2184.1V2887H2180.3V2877H2176.5V2855H2172.8V2847H2169V2861H2165.3V2865H2161.5V2884H2157.7V2865H2154V2876H2150.2V2871H2146.4V2859H2142.7V2879H2138.9V2875H2135.2V2852H2131.4V2854H2127.6V2865H2123.9V2876H2120.1V2864H2116.4V2842H2112.6V2847H2108.8V2867H2105.1V2900H2101.3V2880H2097.5V2872H2093.8V2894H2090V2872H2086.3V2858H2082.5V2869H2078.7V2871H2075V2861H2071.2V2869H2067.4V2870H2063.7V2884H2059.9V2881H2056.2V2859H2052.4V2858H2048.6V2863H2044.9V2830H2041.1V2826H2037.3V2827H2033.6V2828H2029.8V2831H2026.1V2850H2022.3V2827H2018.5V2820H2014.8V2809H2011V2822H2007.2V2840H2003.5V2832H1999.7V2835H1996V2837H1992.2V2850H1988.4V2878H1984.7V2881H1980.9V2867H1977.2V2865H1973.4V2864H1969.6V2858H1965.9V2847H1962.1V2860H1958.3V2876H1943.3V2860H1939.5V2861H1935.8V2853H1932V2857H1928.2V2868H1924.5V2874H1920.7V2873H1917V2849H1913.2V2855H1905.7V2849H1901.9V2834H1898.1V2831H1894.4V2832H1890.6V2825H1886.9V2845H1883.1V2815H1879.3V2865H1875.6V2871H1871.8V2862H1868V2855H1864.3V2857H1860.5V2858H1856.8V2881H1853V2851H1849.2V2844H1845.5V2837H1841.7V2844H1838V2851H1834.2V2869H1830.4V2884H1822.9V2879H1819.1V2856H1815.4V2818H1811.6V2820H1807.9V2875H1804.1V2881H1800.3V2875H1796.6V2854H1792.8V2825H1789V2808H1785.3V2794H1781.5V2800H1777.8V2818H1774V2838H1770.2V2850H1762.7V2843H1758.9V2851H1755.2V2852H1751.4V2860H1743.9V2863H1740.1V2834H1736.4V2845H1732.6V2869H1728.8V2906H1725.1V2913H1721.3V2897H1717.6V2892H1713.8V2891H1710V2869H1702.5V2861H1698.7V2867H1695V2853H1691.2V2868H1687.5V2860H1683.7V2879H1679.9V2887H1676.2V2913H1672.4V2928H1664.9V2916H1661.1V2912H1657.4V2906H1653.6V2902H1646.1V2897H1642.3V2899H1638.6V2913H1634.8V2928H1631V2914H1627.3V2909H1623.5V2910H1619.7V2912H1616V2907H1612.2V2906H1608.5V2920H1604.7V2921H1600.9V2914H1597.2V2909H1593.4V2907H1589.6V2918H1585.9V2930H1582.1V2939H1578.4V2927H1574.6V2924H1570.8V2912H1567.1V2896H1563.3V2895H1559.5V2920H1555.8V2921H1552V2902H1548.3V2886H1544.5V2905H1537V2889H1533.2V2879H1529.5V2875H1525.7V2869H1521.9V2867H1518.2V2861H1514.4V2865H1510.6V2873H1506.9V2891H1503.1V2892H1499.4V2868H1495.6V2865H1491.8V2874H1488.1V2907H1484.3V2952H1480.5V2961H1476.8V2946H1473V2933H1469.3V2922H1465.5V2908H1461.7V2902H1458V2898H1454.2V2918H1446.7V2907H1442.9V2897H1439.2V2902H1435.4V2916H1431.6V2936H1427.9V2919H1424.1V2916H1420.3V2920H1416.6V2916H1409.1V2912H1405.3V2884H1401.5V2874H1397.8V2880H1394V2891H1390.3V2888H1386.5V2891H1382.7V2897H1379V2901H1371.4V2918H1367.7V2891H1363.9V2894H1360.2V2892H1352.6V2887H1348.9V2897H1341.3V2886H1337.6V2900H1333.8V2923H1330.1V2939H1326.3V2930H1322.5V2918H1318.8V2919H1315V2925H1311.2V2931H1307.5V2932H1303.7V2941H1300V2925H1296.2V2907H1292.4V2902H1288.7V2890H1284.9V2892H1281.1V2907H1277.4V2904H1273.6V2871H1269.9V2867H1266.1V2863H1262.3V2872H1258.6V2881H1254.8V2901H1251.1V2905H1243.5V2918H1239.8V2928H1236V2947H1232.2V2946H1228.5V2918H1224.7V2925H1221V2906H1217.2V2893H1213.4V2914H1209.7V2917H1205.9V2922H1202.1V2921H1198.4V2925H1194.6V2922H1190.9V2941H1183.3V2923H1179.6V2907H1175.8V2898H1172V2874H1168.3V2854H1164.5V2879H1160.8V2932H1157V2934H1153.2V2836H1149.5V2851H1145.7V2861H1141.9V2874H1138.2V2881H1134.4V2880H1130.7V2853H1126.9V2855H1123.1V2873H1119.4V2893H1115.6V2909H1111.9V2914H1108.1V2934H1104.3V2906H1100.6V2884H1096.8V2875H1093V2884H1089.3V2910H1085.5V2889H1081.8V2871H1078V2878H1074.2V2913H1070.5V2903H1066.7V2895H1062.9V2882H1055.4V2897H1051.7V2851H1047.9V2847H1044.1V2876H1040.4V2926H1036.6V2931H1029.1V2899H1025.3V2886H1021.6V2899H1017.8V2919H1014V2921H1010.3V2902H1006.5V2905H1002.7V2896H999V2914H995.2V2921H991.5V2899H987.7V2907H983.9V2900H980.2V2902H976.4V2890H972.7V2875H968.9V2867H965.1V2817H961.4V2815H957.6V2850H953.8V2876H950.1V2872H946.3V2853H942.6V2861H938.8V2869H931.3V2874H927.5V2868H923.7V2873H920V2885H916.2V2883H912.5V2900H908.7V2907H901.2V2889H897.4V2883H893.6V2874H889.9V2866H886.1V2867H882.4V2871H878.6V2878H874.8V2888H871.1V2901H867.3V2904H859.8V2921H856V2896H852.3V2876H848.5V2868H844.7V2851H841V2861H837.2V2870H833.5V2878H829.7V2883H825.9V2885H822.2V2878H818.4V2894H814.6V2900H810.9V2911H807.1V2918H803.4V2887H799.6V2922H795.8V2923H792.1V2907H788.3V2892H784.5V2870H780.8V2872H777V2871H773.3V2866H769.5V2809H765.7V2819H762V2840H758.2V2852H754.4V2871H750.7V2886H746.9V2929H743.2V2931H739.4V2900H735.6V2882H731.9V2875H728.1V2908H724.3V2913H720.6V2896H716.8V2886H713.1V2890H709.3V2905H705.5V2862H701.8V2834H698V2885H694.2V2921H690.5V2955H683V2952H679.2V2957H675.4V2970H667.9V2962H664.2V2929H656.6V2926H652.9V2936H649.1V2960H641.6V2954H637.8V2916H634.1V2897H630.3V2889H626.5V2941H622.8V2925H619V2916H615.2V2915H611.5V2944H607.7V2923H604V2896H600.2V2878H596.4V2880H592.7V2878H588.9V2876H585.1V2901H581.4V2941H573.9V2895H570.1V2870H566.3V2905H562.6V2929H558.8V2940H555V2941H551.3V2951H547.5V2965H543.8V2961H540V2957H536.2V2942H532.5V2949H528.7V2944H525V2942H521.2V2936H517.4V2947H513.7V2950H509.9V2965H506.1V2961H502.4V2978H498.6V2975H494.9V2958H487.3V2964H483.6V2988H479.8V2986H476V2957H472.3V2960H468.5V2959H464.8V2943H461V2953H457.2V2937H453.5V2921H449.7V2907H445.9V2923H442.2V2955H438.4V2954H434.7V2927H430.9V2942H427.1V2937H423.4V2941H419.6V2929H415.8V2934H412.1V2930H408.3V2912H404.6V2909H400.8V2904H397V2907H393.3V2945H389.5V2947H385.8V2913H382V2905H378.2V2915H374.5V2945H370.7V2952H366.9V2958H363.2V2960H359.4V2978H355.7V2966H351.9V2973H348.1V2975H344.4V2960H340.6V2954H336.8V2945H333.1V2932H329.3V2907H325.6V2930H321.8V2946H318V2962H314.3V2980H310.5V2988H306.7V2994H303V2933H299.2V2886H295.5V2916H291.7V2951H287.9V2975H284.2V2937H280.4V2938H276.6V2948H272.9V2966H269.1V2977H265.4V3009H261.6Z" fill="#b8b8ff"/>
<path d="M261.6 2908H265.4V2910H269.1V2906H272.9V2853H276.6V2807H280.4V2785H284.2V2748H287.9V2749H291.7V2757H295.5V2769H299.2V2799H303V2835H306.7V2865H310.5V2902H314.3V2857H318V2818H321.8V2774H325.6V2768H329.3V2808H333.1V2834H336.8V2855H340.6V2880H344.4V2904H348.1V2896H351.9V2888H355.7V2882H359.4V2868H363.2V2844H366.9V2847H370.7V2874H374.5V2809H378.2V2755H382V2806H385.8V2824H389.5V2827H393.3V2807H397V2803H400.8V2797H404.6V2778H408.3V2819H412.1V2841H415.8V2848H419.6V2828H423.4V2824H427.1V2788H430.9V2790H434.7V2829H438.4V2841H442.2V2812H445.9V2807H449.7V2820H453.5V2839H457.2V2845H461V2855H464.8V2856H468.5V2852H472.3V2836H476V2870H479.8V2867H483.6V2846H487.3V2829H491.1V2832H494.9V2866H498.6V2862H502.4V2883H506.1V2884H509.9V2858H513.7V2854H517.4V2866H521.2V2873H525V2882H528.7V2870H532.5V2866H536.2V2879H540V2884H543.8V2868H547.5V2847H551.3V2807H555V2809H558.8V2841H562.6V2826H566.3V2784H570.1V2821H573.9V2855H577.6V2849H581.4V2834H585.1V2820H588.9V2813H592.7V2810H596.4V2795H600.2V2810H604V2822H607.7V2814H611.5V2777H615.2V2788H619V2824H626.5V2765H630.3V2789H634.1V2827H637.8V2848H641.6V2835H645.3V2829H649.1V2837H652.9V2831H656.6V2828H660.4V2808H667.9V2830H671.7V2840H675.4V2841H679.2V2837H683V2832H686.7V2810H690.5V2706H694.2V2714H698V2738H701.8V2736H705.5V2740H709.3V2776H713.1V2801H716.8V2822H720.6V2830H724.3V2788H728.1V2784H731.9V2797H735.6V2806H739.4V2839H743.2V2830H746.9V2788H750.7V2766H754.4V2769H758.2V2765H762V2721H765.7V2718H769.5V2756H773.3V2777H777V2785H780.8V2792H788.3V2812H792.1V2820H795.8V2795H799.6V2786H807.1V2814H810.9V2798H814.6V2789H818.4V2788H822.2V2813H825.9V2827H829.7V2763H833.5V2770H837.2V2776H841V2782H844.7V2792H848.5V2801H852.3V2807H856V2815H859.8V2823H863.5V2815H867.3V2813H871.1V2815H874.8V2828H878.6V2814H882.4V2779H886.1V2775H889.9V2795H893.6V2807H897.4V2828H901.2V2812H904.9V2805H908.7V2804H912.5V2801H916.2V2787H920V2786H923.7V2774H927.5V2779H931.3V2797H935V2787H938.8V2756H942.6V2733H946.3V2734H950.1V2755H953.8V2718H957.6V2716H961.4V2725H965.1V2728H968.9V2749H972.7V2774H976.4V2788H980.2V2813H983.9V2834H987.7V2766H995.2V2776H999V2801H1002.7V2809H1006.5V2821H1010.3V2822H1014V2824H1017.8V2820H1021.6V2834H1025.3V2830H1029.1V2813H1032.8V2792H1036.6V2747H1040.4V2716H1044.1V2704H1047.9V2609H1051.7V2589H1055.4V2652H1059.2V2753H1062.9V2782H1066.7V2788H1070.5V2781H1074.2V2751H1078V2766H1081.8V2779H1085.5V2770H1089.3V2779H1093V2752H1096.8V2778H1100.6V2811H1104.3V2841H1108.1V2832H1111.9V2785H1115.6V2768H1119.4V2764H1123.1V2702H1126.9V2700H1130.7V2716H1134.4V2731H1138.2V2742H1141.9V2733H1145.7V2707H1149.5V2656H1153.2V2762H1157V2769H1160.8V2749H1164.5V2715H1168.3V2730H1172V2752H1175.8V2745H1179.6V2800H1183.3V2823H1187.1V2821H1190.9V2792H1194.6V2738H1198.4V2747H1202.1V2816H1205.9V2835H1209.7V2812H1213.4V2756H1217.2V2772H1221V2790H1224.7V2820H1228.5V2832H1232.2V2822H1236V2828H1239.8V2821H1243.5V2817H1247.3V2826H1251.1V2814H1254.8V2792H1258.6V2766H1262.3V2768H1266.1V2763H1269.9V2743H1277.4V2790H1281.1V2807H1284.9V2801H1288.7V2809H1292.4V2816H1296.2V2818H1300V2851H1303.7V2857H1307.5V2862H1311.2V2849H1315V2863H1318.8V2864H1322.5V2867H1326.3V2865H1330.1V2851H1333.8V2824H1337.6V2804H1341.3V2806H1345.1V2786H1348.9V2790H1352.6V2809H1356.4V2816H1360.2V2806H1363.9V2783H1367.7V2782H1371.4V2821H1375.2V2819H1379V2790H1382.7V2791H1386.5V2822H1390.3V2824H1394V2786H1397.8V2747H1401.5V2748H1405.3V2797H1409.1V2815H1412.8V2825H1416.6V2819H1420.3V2805H1424.1V2806H1427.9V2836H1431.6V2827H1435.4V2814H1442.9V2826H1446.7V2824H1450.4V2820H1454.2V2815H1458V2799H1461.7V2804H1465.5V2845H1469.3V2858H1473V2860H1476.8V2854H1480.5V2824H1484.3V2793H1488.1V2770H1491.8V2768H1495.6V2766H1499.4V2751H1503.1V2767H1506.9V2774H1510.6V2754H1514.4V2727H1518.2V2730H1521.9V2785H1525.7V2797H1529.5V2811H1533.2V2818H1537V2819H1540.7V2818H1544.5V2777H1548.3V2793H1552V2802H1555.8V2822H1563.3V2828H1567.1V2848H1570.8V2867H1574.6V2869H1578.4V2878H1582.1V2860H1585.9V2831H1589.6V2821H1593.4V2808H1597.2V2835H1600.9V2837H1604.7V2833H1608.5V2823H1612.2V2832H1616V2838H1619.7V2848H1623.5V2836H1627.3V2813H1631V2802H1634.8V2801H1638.6V2790H1642.3V2799H1646.1V2812H1649.8V2826H1653.6V2827H1657.4V2838H1661.1V2852H1664.9V2850H1672.4V2831H1676.2V2788H1679.9V2722H1683.7V2710H1687.5V2735H1691.2V2763H1695V2773H1698.7V2777H1702.5V2787H1706.3V2775H1710V2756H1713.8V2759H1717.6V2810H1721.3V2819H1725.1V2781H1728.8V2776H1732.6V2773H1740.1V2740H1743.9V2743H1747.7V2773H1751.4V2794H1755.2V2747H1758.9V2746H1762.7V2755H1766.5V2752H1770.2V2713H1774V2678H1777.8V2663H1781.5V2703H1785.3V2675H1789V2674H1792.8V2740H1796.6V2777H1800.3V2809H1804.1V2744H1807.9V2706H1811.6V2711H1815.4V2722H1819.1V2719H1822.9V2785H1826.7V2788H1830.4V2764H1834.2V2717H1838V2750H1841.7V2780H1845.5V2752H1849.2V2728H1853V2797H1856.8V2800H1860.5V2806H1864.3V2786H1868V2767H1871.8V2745H1875.6V2737H1879.3V2709H1883.1V2706H1886.9V2713H1890.6V2738H1894.4V2739H1898.1V2747H1901.9V2743H1905.7V2748H1909.4V2773H1913.2V2794H1917V2782H1920.7V2768H1924.5V2778H1928.2V2782H1932V2785H1935.8V2787H1939.5V2791H1943.3V2784H1947.1V2797H1950.8V2801H1954.6V2803H1958.3V2790H1962.1V2778H1965.9V2754H1973.4V2776H1977.2V2793H1980.9V2806H1984.7V2805H1988.4V2789H1992.2V2778H1996V2766H1999.7V2742H2003.5V2719H2007.2V2724H2011V2754H2014.8V2735H2018.5V2723H2022.3V2765H2026.1V2761H2029.8V2747H2033.6V2751H2041.1V2735H2044.9V2737H2048.6V2770H2052.4V2779H2056.2V2786H2059.9V2769H2063.7V2785H2067.4V2807H2071.2V2810H2075V2812H2078.7V2749H2082.5V2739H2086.3V2775H2090V2747H2093.8V2742H2097.5V2782H2101.3V2794H2105.1V2791H2108.8V2782H2112.6V2755H2116.4V2726H2120.1V2669H2123.9V2711H2127.6V2771H2131.4V2797H2135.2V2799H2138.9V2794H2142.7V2762H2146.4V2732H2150.2V2733H2154V2735H2157.7V2721H2161.5V2730H2165.3V2792H2169V2782H2172.8V2774H2176.5V2793H2180.3V2803H2184.1V2813H2187.8V2819H2191.6V2791H2195.4V2781H2199.1V2761H2202.9V2782H2206.6V2794H2210.4V2800H2214.2V2784H2217.9V2771H2221.7V2768H2225.5V2757H2229.2V2759H2233V2756H2236.7V2730H2240.5V2713H2244.3V2768H2248V2777H2251.8V2761H2255.6V2736H2259.3V2746H2263.1V2797H2266.8V2776H2270.6V2889H2266.8V2893H2263.1V2897H2259.3V2881H2255.6V2859H2251.8V2858H2248V2848H2244.3V2836H2240.5V2841H2236.7V2840H2233V2835H2229.2V2857H2225.5V2861H2221.7V2863H2217.9V2881H2214.2V2907H2210.4V2912H2206.6V2895H2202.9V2861H2199.1V2866H2195.4V2895H2191.6V2894H2187.8V2890H2184.1V2885H2180.3V2875H2176.5V2853H2172.8V2846H2169V2858H2165.3V2864H2161.5V2882H2157.7V2862H2154V2874H2150.2V2868H2146.4V2858H2142.7V2878H2138.9V2873H2135.2V2851H2131.4V2852H2127.6V2862H2123.9V2874H2120.1V2862H2116.4V2840H2112.6V2845H2108.8V2866H2105.1V2898H2101.3V2879H2097.5V2871H2093.8V2893H2090V2871H2086.3V2856H2082.5V2867H2078.7V2868H2075V2859H2071.2V2867H2067.4V2868H2063.7V2883H2059.9V2879H2056.2V2859H2052.4V2856H2048.6V2860H2044.9V2828H2041.1V2825H2037.3V2827H2029.8V2829H2026.1V2848H2022.3V2826H2018.5V2818H2014.8V2808H2011V2820H2007.2V2837H2003.5V2831H1999.7V2833H1996V2835H1992.2V2848H1988.4V2877H1984.7V2880H1980.9V2865H1977.2V2863H1973.4V2860H1969.6V2858H1965.9V2847H1962.1V2857H1958.3V2874H1950.8V2873H1943.3V2858H1939.5V2859H1935.8V2852H1932V2857H1928.2V2865H1924.5V2872H1917V2846H1913.2V2853H1905.7V2848H1901.9V2832H1898.1V2827H1894.4V2830H1890.6V2824H1886.9V2842H1883.1V2814H1879.3V2863H1875.6V2870H1871.8V2861H1868V2854H1864.3V2855H1860.5V2857H1856.8V2879H1853V2849H1849.2V2844H1845.5V2835H1841.7V2842H1838V2848H1834.2V2867H1830.4V2882H1822.9V2877H1819.1V2852H1815.4V2817H1811.6V2819H1807.9V2873H1804.1V2879H1800.3V2873H1796.6V2853H1792.8V2823H1789V2808H1785.3V2793H1781.5V2798H1777.8V2817H1774V2837H1770.2V2848H1766.5V2847H1762.7V2840H1758.9V2850H1751.4V2858H1743.9V2860H1740.1V2833H1736.4V2842H1732.6V2867H1728.8V2904H1725.1V2910H1721.3V2894H1717.6V2891H1713.8V2888H1710V2867H1706.3V2866H1702.5V2860H1698.7V2867H1695V2850H1691.2V2864H1687.5V2859H1683.7V2876H1679.9V2885H1676.2V2911H1672.4V2926H1668.7V2927H1664.9V2914H1661.1V2910H1657.4V2902H1653.6V2899H1649.8V2901H1646.1V2896H1642.3V2898H1638.6V2911H1634.8V2926H1631V2913H1627.3V2907H1623.5V2909H1619.7V2912H1616V2905H1612.2V2904H1608.5V2919H1604.7V2918H1600.9V2913H1597.2V2907H1593.4V2905H1589.6V2916H1585.9V2929H1582.1V2938H1578.4V2926H1574.6V2922H1570.8V2910H1567.1V2894H1559.5V2918H1552V2900H1548.3V2884H1544.5V2902H1540.7V2903H1537V2887H1533.2V2878H1529.5V2872H1525.7V2866H1521.9V2865H1518.2V2859H1514.4V2862H1510.6V2872H1506.9V2890H1499.4V2867H1495.6V2863H1491.8V2872H1488.1V2905H1484.3V2951H1480.5V2958H1476.8V2943H1473V2932H1469.3V2921H1465.5V2905H1461.7V2900H1458V2897H1454.2V2916H1446.7V2906H1442.9V2894H1439.2V2901H1435.4V2914H1431.6V2934H1427.9V2917H1424.1V2915H1420.3V2918H1416.6V2914H1409.1V2909H1405.3V2882H1401.5V2873H1397.8V2879H1394V2889H1390.3V2885H1386.5V2890H1382.7V2896H1379V2899H1375.2V2900H1371.4V2917H1367.7V2888H1363.9V2893H1360.2V2892H1356.4V2891H1352.6V2885H1348.9V2895H1345.1V2894H1341.3V2884H1337.6V2899H1333.8V2921H1330.1V2936H1326.3V2927H1322.5V2916H1318.8V2918H1315V2923H1311.2V2927H1307.5V2931H1303.7V2939H1300V2924H1296.2V2904H1292.4V2901H1288.7V2889H1284.9V2890H1281.1V2906H1277.4V2902H1273.6V2868H1269.9V2864H1266.1V2861H1262.3V2870H1258.6V2879H1254.8V2899H1251.1V2902H1247.3V2905H1243.5V2915H1239.8V2926H1236V2944H1228.5V2916H1224.7V2923H1221V2904H1217.2V2891H1213.4V2912H1209.7V2915H1205.9V2920H1202.1V2918H1198.4V2925H1194.6V2921H1190.9V2939H1183.3V2921H1179.6V2905H1175.8V2896H1172V2872H1168.3V2853H1164.5V2877H1160.8V2931H1153.2V2835H1149.5V2849H1145.7V2860H1141.9V2872H1138.2V2879H1134.4V2878H1130.7V2852H1126.9V2853H1123.1V2873H1119.4V2891H1115.6V2908H1111.9V2911H1108.1V2931H1104.3V2905H1100.6V2883H1096.8V2875H1093V2884H1089.3V2908H1085.5V2887H1081.8V2869H1078V2876H1074.2V2911H1070.5V2900H1066.7V2893H1062.9V2880H1059.2V2881H1055.4V2895H1051.7V2849H1047.9V2846H1044.1V2874H1040.4V2924H1036.6V2929H1032.8V2930H1029.1V2897H1025.3V2884H1021.6V2897H1017.8V2917H1014V2918H1010.3V2900H1006.5V2903H1002.7V2893H999V2911H995.2V2919H991.5V2896H987.7V2905H983.9V2898H976.4V2889H972.7V2872H968.9V2864H965.1V2817H961.4V2813H957.6V2849H953.8V2874H950.1V2871H946.3V2851H942.6V2860H938.8V2868H935V2867H931.3V2870H927.5V2868H923.7V2870H920V2882H916.2V2881H912.5V2898H908.7V2906H904.9V2904H901.2V2887H897.4V2881H893.6V2871H889.9V2864H886.1V2865H882.4V2870H878.6V2877H874.8V2887H871.1V2901H867.3V2902H859.8V2918H856V2895H852.3V2873H848.5V2866H844.7V2849H841V2861H837.2V2869H833.5V2875H829.7V2882H825.9V2883H822.2V2877H818.4V2892H814.6V2899H810.9V2911H807.1V2916H803.4V2884H799.6V2921H795.8V2922H792.1V2905H788.3V2891H784.5V2868H780.8V2869H777V2868H773.3V2866H769.5V2806H765.7V2816H762V2838H758.2V2851H754.4V2870H750.7V2884H746.9V2926H743.2V2929H739.4V2899H735.6V2880H731.9V2874H728.1V2907H724.3V2911H720.6V2895H716.8V2885H713.1V2888H709.3V2904H705.5V2860H701.8V2832H698V2883H694.2V2917H690.5V2952H683V2950H679.2V2955H675.4V2968H671.7V2969H667.9V2959H664.2V2927H660.4V2926H656.6V2925H652.9V2934H649.1V2957H645.3V2958H641.6V2953H637.8V2915H634.1V2895H630.3V2887H626.5V2939H622.8V2922H619V2913H615.2V2914H611.5V2942H607.7V2921H604V2893H600.2V2876H596.4V2879H592.7V2875H588.9V2872H585.1V2899H581.4V2939H577.6V2940H573.9V2894H570.1V2868H566.3V2903H562.6V2929H558.8V2938H555V2939H551.3V2949H547.5V2962H543.8V2960H540V2954H536.2V2941H532.5V2948H528.7V2940H525V2942H521.2V2934H517.4V2946H513.7V2947H509.9V2964H506.1V2958H502.4V2977H498.6V2972H494.9V2956H487.3V2963H483.6V2987H479.8V2985H476V2955H472.3V2957H468.5V2959H464.8V2940H461V2952H457.2V2934H453.5V2918H449.7V2905H445.9V2922H442.2V2953H438.4V2952H434.7V2924H430.9V2939H427.1V2935H423.4V2939H419.6V2927H415.8V2931H412.1V2927H408.3V2911H404.6V2909H400.8V2901H397V2906H393.3V2942H389.5V2944H385.8V2910H382V2903H378.2V2914H374.5V2943H370.7V2949H366.9V2957H363.2V2958H359.4V2975H355.7V2964H351.9V2971H348.1V2973H344.4V2957H340.6V2951H336.8V2944H333.1V2929H329.3V2905H325.6V2928H321.8V2945H318V2962H314.3V2978H310.5V2987H306.7V2992H303V2931H299.2V2885H295.5V2914H291.7V2948H287.9V2974H284.2V2935H280.4V2938H276.6V2946H272.9V2963H269.1V2977H265.4V3008H261.6Z" fill="#6060ff"/>
<path d="M261.6 2910H265.4V2912H269.1V2909H272.9V2855H276.6V2807H280.4V2787H284.2V2842H287.9V2787H291.7V2759H295.5V2838H299.2V2800H303V2835H306.7V2866H310.5V2909H314.3V2863H318V2819H321.8V2860H325.6V2837H329.3V2809H333.1V2834H336.8V2856H340.6V2881H344.4V2906H348.1V2898H351.9V2888H355.7V2884H359.4V2869H363.2V2876H366.9V2870H370.7V2875H374.5V2817H378.2V2869H382V2807H385.8V2824H389.5V2829H393.3V2849H397V2804H400.8V2797H404.6V2833H408.3V2820H412.1V2843H415.8V2866H419.6V2843H423.4V2824H427.1V2833H430.9V2835H434.7V2829H438.4V2843H442.2V2832H449.7V2821H453.5V2839H457.2V2846H461V2856H468.5V2864H472.3V2866H476V2871H479.8V2868H483.6V2846H487.3V2872H494.9V2878H498.6V2884H502.4V2894H506.1V2892H509.9V2883H517.4V2897H521.2V2874H525V2883H528.7V2872H532.5V2881H536.2V2884H540V2885H543.8V2880H547.5V2856H551.3V2872H555V2846H558.8V2842H562.6V2828H566.3V2859H570.1V2835H573.9V2861H577.6V2851H581.4V2835H585.1V2821H588.9V2814H592.7V2810H596.4V2820H600.2V2810H604V2823H607.7V2815H611.5V2824H615.2V2789H619V2825H622.8V2831H626.5V2822H630.3V2790H634.1V2827H637.8V2849H641.6V2835H645.3V2829H649.1V2839H652.9V2831H656.6V2829H664.2V2830H667.9V2831H671.7V2841H675.4V2886H679.2V2838H683V2833H686.7V2817H690.5V2828H694.2V2714H698V2739H701.8V2736H705.5V2742H709.3V2776H713.1V2802H716.8V2824H720.6V2836H724.3V2824H728.1V2837H731.9V2802H735.6V2807H739.4V2840H743.2V2831H746.9V2790H750.7V2824H754.4V2793H758.2V2766H762V2769H765.7V2774H769.5V2756H773.3V2777H777V2785H780.8V2793H784.5V2794H788.3V2814H792.1V2845H795.8V2796H799.6V2814H803.4V2806H807.1V2815H810.9V2799H814.6V2810H818.4V2825H822.2V2827H825.9V2828H829.7V2823H833.5V2771H837.2V2777H841V2783H844.7V2796H848.5V2808H852.3V2819H856V2816H859.8V2832H863.5V2815H867.3V2821H871.1V2816H874.8V2839H878.6V2815H882.4V2819H886.1V2815H889.9V2824H893.6V2807H897.4V2828H901.2V2855H904.9V2830H908.7V2836H912.5V2803H916.2V2787H920V2788H923.7V2791H927.5V2779H931.3V2799H935V2788H938.8V2770H942.6V2785H946.3V2762H950.1V2760H953.8V2751H961.4V2725H965.1V2730H968.9V2751H972.7V2849H976.4V2789H980.2V2825H983.9V2842H987.7V2851H991.5V2827H995.2V2777H999V2801H1002.7V2811H1006.5V2822H1010.3V2823H1014V2824H1017.8V2822H1021.6V2845H1025.3V2832H1029.1V2827H1032.8V2823H1036.6V2748H1040.4V2718H1044.1V2705H1047.9V2797H1051.7V2764H1055.4V2653H1059.2V2754H1062.9V2784H1066.7V2798H1070.5V2783H1074.2V2778H1078V2779H1081.8V2805H1085.5V2771H1089.3V2780H1093V2813H1096.8V2779H1100.6V2812H1104.3V2842H1108.1V2832H1111.9V2792H1115.6V2776H1119.4V2765H1123.1V2766H1126.9V2763H1130.7V2716H1134.4V2749H1138.2V2743H1141.9V2733H1145.7V2716H1149.5V2767H1153.2V2764H1157V2770H1160.8V2767H1164.5V2762H1168.3V2731H1172V2752H1175.8V2747H1179.6V2801H1183.3V2825H1187.1V2837H1190.9V2793H1194.6V2811H1198.4V2870H1202.1V2816H1205.9V2836H1209.7V2813H1213.4V2837H1217.2V2774H1221V2811H1224.7V2821H1228.5V2833H1232.2V2822H1236V2829H1239.8V2821H1243.5V2829H1247.3V2827H1251.1V2816H1254.8V2802H1258.6V2768H1262.3V2770H1266.1V2830H1269.9V2790H1273.6V2800H1277.4V2806H1281.1V2808H1284.9V2802H1288.7V2809H1292.4V2827H1296.2V2878H1300V2853H1303.7V2859H1307.5V2865H1311.2V2861H1315V2864H1322.5V2867H1326.3V2871H1330.1V2851H1333.8V2825H1337.6V2806H1341.3V2808H1345.1V2812H1352.6V2810H1356.4V2817H1360.2V2806H1363.9V2818H1371.4V2822H1375.2V2820H1382.7V2819H1386.5V2822H1390.3V2824H1394V2788H1397.8V2814H1401.5V2808H1405.3V2799H1409.1V2815H1412.8V2826H1416.6V2820H1420.3V2832H1427.9V2836H1431.6V2827H1435.4V2831H1439.2V2830H1442.9V2828H1446.7V2826H1450.4V2821H1454.2V2847H1458V2843H1461.7V2854H1465.5V2847H1469.3V2860H1473V2862H1476.8V2855H1480.5V2826H1484.3V2794H1488.1V2772H1491.8V2769H1495.6V2810H1499.4V2777H1503.1V2768H1506.9V2774H1510.6V2756H1514.4V2788H1518.2V2799H1521.9V2794H1525.7V2798H1529.5V2813H1533.2V2867H1537V2836H1540.7V2848H1544.5V2820H1548.3V2794H1552V2803H1555.8V2839H1559.5V2822H1563.3V2828H1567.1V2848H1570.8V2885H1574.6V2892H1578.4V2879H1582.1V2861H1585.9V2831H1589.6V2822H1593.4V2840H1597.2V2863H1600.9V2853H1604.7V2872H1608.5V2840H1612.2V2850H1616V2839H1619.7V2848H1623.5V2851H1627.3V2815H1631V2818H1634.8V2802H1638.6V2811H1642.3V2799H1646.1V2814H1649.8V2828H1657.4V2848H1661.1V2853H1664.9V2851H1668.7V2859H1672.4V2837H1676.2V2790H1679.9V2832H1683.7V2791H1687.5V2736H1691.2V2764H1695V2773H1698.7V2806H1702.5V2788H1706.3V2775H1710V2809H1713.8V2818H1717.6V2810H1721.3V2819H1725.1V2782H1728.8V2777H1732.6V2774H1736.4V2773H1740.1V2775H1743.9V2791H1747.7V2787H1751.4V2794H1755.2V2749H1758.9V2748H1762.7V2757H1766.5V2753H1770.2V2738H1774V2680H1777.8V2712H1781.5V2744H1785.3V2759H1789V2777H1792.8V2740H1796.6V2778H1800.3V2809H1804.1V2745H1807.9V2805H1811.6V2712H1815.4V2722H1819.1V2726H1822.9V2787H1826.7V2827H1830.4V2810H1834.2V2809H1838V2751H1841.7V2781H1845.5V2753H1849.2V2801H1853V2798H1856.8V2804H1860.5V2807H1864.3V2788H1868V2769H1871.8V2746H1875.6V2738H1879.3V2748H1883.1V2738H1886.9V2714H1890.6V2739H1894.4V2761H1898.1V2770H1901.9V2745H1905.7V2749H1909.4V2773H1913.2V2816H1917V2783H1920.7V2784H1924.5V2779H1928.2V2783H1932V2787H1935.8V2793H1939.5V2800H1943.3V2795H1947.1V2807H1950.8V2803H1954.6V2804H1958.3V2812H1962.1V2779H1965.9V2787H1969.6V2791H1973.4V2780H1977.2V2794H1980.9V2807H1984.7V2811H1988.4V2804H1992.2V2779H1996V2768H1999.7V2744H2003.5V2758H2007.2V2752H2011V2754H2014.8V2785H2018.5V2756H2022.3V2767H2026.1V2771H2029.8V2747H2033.6V2751H2037.3V2770H2041.1V2766H2044.9V2781H2048.6V2771H2052.4V2780H2056.2V2787H2059.9V2822H2063.7V2786H2067.4V2822H2071.2V2811H2075V2812H2078.7V2808H2082.5V2805H2086.3V2790H2090V2777H2093.8V2798H2097.5V2782H2101.3V2817H2105.1V2792H2108.8V2788H2112.6V2756H2116.4V2727H2120.1V2764H2123.9V2713H2127.6V2775H2131.4V2798H2135.2V2799H2138.9V2794H2142.7V2763H2146.4V2742H2150.2V2759H2154V2757H2157.7V2787H2161.5V2786H2165.3V2793H2169V2798H2172.8V2796H2176.5V2802H2180.3V2804H2184.1V2813H2187.8V2820H2191.6V2797H2195.4V2791H2199.1V2795H2202.9V2784H2206.6V2795H2210.4V2802H2214.2V2798H2217.9V2772H2221.7V2769H2225.5V2759H2229.2V2760H2233V2769H2236.7V2761H2240.5V2776H2244.3V2769H2248V2778H2251.8V2761H2255.6V2791H2259.3V2792H2263.1V2798H2266.8V2800H2270.6V2889H2266.8V2892H2263.1V2863H2259.3V2879H2255.6V2858H2251.8V2857H2248V2835H2240.5V2769H2236.7V2834H2233V2833H2229.2V2856H2225.5V2861H2221.7V2862H2217.9V2869H2214.2V2864H2210.4V2873H2206.6V2893H2202.9V2847H2199.1V2864H2195.4V2870H2187.8V2888H2184.1V2884H2180.3V2874H2176.5V2852H2172.8V2838H2169V2858H2165.3V2863H2161.5V2861H2157.7V2862H2154V2874H2150.2V2867H2146.4V2857H2142.7V2848H2135.2V2849H2131.4V2848H2127.6V2861H2123.9V2836H2120.1V2838H2112.6V2845H2108.8V2864H2105.1V2826H2101.3V2877H2097.5V2869H2093.8V2856H2090V2854H2082.5V2855H2078.7V2857H2071.2V2826H2067.4V2860H2063.7V2833H2059.9V2853H2056.2V2857H2052.4V2850H2048.6V2831H2044.9V2827H2041.1V2824H2037.3V2825H2029.8V2828H2026.1V2819H2022.3V2825H2018.5V2787H2014.8V2797H2011V2819H2007.2V2810H2003.5V2829H1999.7V2825H1996V2833H1992.2V2812H1988.4V2840H1984.7V2849H1980.9V2865H1977.2V2863H1973.4V2860H1969.6V2856H1965.9V2845H1962.1V2823H1958.3V2852H1954.6V2857H1950.8V2863H1947.1V2859H1943.3V2856H1939.5V2858H1935.8V2843H1932V2856H1928.2V2848H1924.5V2844H1917V2819H1913.2V2844H1909.4V2839H1905.7V2847H1901.9V2775H1898.1V2827H1894.4V2813H1886.9V2820H1883.1V2812H1879.3V2822H1875.6V2824H1871.8V2859H1868V2853H1860.5V2855H1856.8V2848H1849.2V2842H1845.5V2834H1841.7V2840H1838V2817H1834.2V2823H1830.4V2831H1826.7V2856H1822.9V2875H1819.1V2852H1815.4V2817H1807.9V2820H1800.3V2869H1796.6V2852H1792.8V2816H1789V2773H1785.3V2750H1781.5V2797H1777.8V2817H1774V2743H1770.2V2820H1766.5V2827H1762.7V2840H1758.9V2850H1755.2V2844H1751.4V2857H1743.9V2839H1740.1V2833H1736.4V2842H1732.6V2866H1728.8V2844H1725.1V2865H1721.3V2875H1717.6V2890H1713.8V2888H1710V2866H1706.3V2865H1702.5V2812H1698.7V2865H1695V2849H1691.2V2864H1687.5V2858H1683.7V2874H1679.9V2883H1676.2V2911H1672.4V2887H1668.7V2909H1664.9V2911H1661.1V2910H1657.4V2902H1653.6V2899H1649.8V2886H1646.1V2894H1642.3V2897H1638.6V2904H1634.8V2905H1631V2912H1627.3V2858H1623.5V2908H1619.7V2910H1616V2905H1612.2V2903H1608.5V2873H1604.7V2904H1600.9V2885H1597.2V2896H1593.4V2898H1589.6V2915H1585.9V2928H1582.1V2919H1578.4V2897H1574.6V2895H1570.8V2904H1567.1V2894H1559.5V2896H1555.8V2890H1552V2900H1548.3V2883H1544.5V2853H1540.7V2880H1537V2872H1533.2V2877H1529.5V2865H1521.9V2864H1518.2V2858H1514.4V2861H1510.6V2871H1506.9V2865H1503.1V2864H1499.4V2824H1495.6V2862H1491.8V2871H1488.1V2903H1484.3V2877H1480.5V2903H1476.8V2937H1473V2923H1469.3V2920H1465.5V2899H1461.7V2895H1458V2866H1454.2V2896H1446.7V2888H1442.9V2883H1439.2V2900H1435.4V2912H1431.6V2902H1427.9V2916H1424.1V2913H1420.3V2918H1416.6V2913H1409.1V2909H1405.3V2882H1401.5V2872H1397.8V2878H1394V2889H1390.3V2884H1386.5V2888H1382.7V2879H1379V2899H1375.2V2880H1371.4V2891H1367.7V2871H1363.9V2891H1360.2V2890H1352.6V2884H1348.9V2883H1345.1V2885H1341.3V2883H1337.6V2898H1333.8V2919H1330.1V2900H1326.3V2927H1322.5V2914H1318.8V2916H1315V2923H1311.2V2927H1307.5V2930H1303.7V2908H1300V2903H1296.2V2904H1292.4V2899H1288.7V2888H1284.9V2890H1281.1V2818H1277.4V2867H1273.6V2858H1269.9V2844H1266.1V2860H1262.3V2869H1258.6V2878H1254.8V2899H1251.1V2901H1247.3V2903H1243.5V2915H1239.8V2910H1236V2913H1232.2V2916H1224.7V2923H1221V2903H1217.2V2891H1213.4V2912H1209.7V2914H1205.9V2902H1202.1V2886H1198.4V2923H1194.6V2920H1190.9V2915H1187.1V2910H1183.3V2920H1179.6V2904H1175.8V2879H1172V2872H1168.3V2852H1164.5V2868H1160.8V2838H1153.2V2834H1149.5V2847H1145.7V2859H1141.9V2855H1138.2V2857H1134.4V2848H1130.7V2851H1126.9V2853H1123.1V2871H1119.4V2885H1115.6V2907H1111.9V2911H1108.1V2885H1104.3V2903H1100.6V2882H1096.8V2874H1093V2883H1089.3V2868H1085.5V2876H1081.8V2868H1078V2875H1074.2V2869H1070.5V2899H1066.7V2893H1062.9V2879H1055.4V2767H1051.7V2827H1047.9V2844H1044.1V2873H1040.4V2849H1036.6V2879H1032.8V2892H1029.1V2896H1025.3V2883H1021.6V2896H1017.8V2892H1014V2900H1010.3V2882H1006.5V2902H1002.7V2887H999V2910H995.2V2901H991.5V2869H987.7V2903H983.9V2890H980.2V2898H976.4V2867H972.7V2870H968.9V2864H965.1V2815H961.4V2812H957.6V2848H953.8V2813H950.1V2856H946.3V2850H942.6V2852H938.8V2867H935V2865H931.3V2870H927.5V2866H923.7V2865H920V2881H916.2V2880H912.5V2847H908.7V2843H904.9V2873H901.2V2887H897.4V2880H893.6V2841H889.9V2863H886.1V2864H882.4V2869H878.6V2868H874.8V2886H871.1V2899H867.3V2902H863.5V2901H859.8V2874H856V2893H852.3V2872H848.5V2854H844.7V2848H841V2859H837.2V2860H833.5V2874H829.7V2881H825.9V2871H822.2V2876H818.4V2891H814.6V2877H810.9V2910H807.1V2890H803.4V2876H799.6V2891H795.8V2865H792.1V2905H788.3V2885H784.5V2859H780.8V2869H777V2865H773.3V2864H769.5V2803H765.7V2814H762V2837H758.2V2816H754.4V2868H750.7V2881H746.9V2870H743.2V2881H739.4V2889H735.6V2877H731.9V2839H728.1V2873H720.6V2883H716.8V2874H713.1V2887H709.3V2841H705.5V2858H701.8V2809H698V2878H694.2V2917H690.5V2882H686.7V2913H683V2948H679.2V2911H675.4V2942H671.7V2936H667.9V2949H664.2V2926H660.4V2925H656.6V2924H652.9V2934H649.1V2925H645.3V2914H641.6V2900H637.8V2913H634.1V2895H630.3V2885H626.5V2895H622.8V2917H619V2912H615.2V2913H611.5V2898H607.7V2915H604V2888H600.2V2875H596.4V2878H592.7V2875H588.9V2872H585.1V2899H581.4V2877H577.6V2865H573.9V2853H570.1V2863H566.3V2902H562.6V2928H558.8V2937H551.3V2943H543.8V2959H540V2954H536.2V2940H532.5V2946H528.7V2940H521.2V2898H517.4V2940H513.7V2947H509.9V2952H506.1V2957H502.4V2958H498.6V2951H494.9V2956H491.1V2955H487.3V2951H483.6V2959H479.8V2956H476V2931H472.3V2956H468.5V2957H464.8V2939H461V2951H457.2V2934H453.5V2917H449.7V2904H445.9V2921H442.2V2909H438.4V2928H434.7V2912H430.9V2929H427.1V2925H423.4V2926H415.8V2914H412.1V2926H408.3V2910H404.6V2907H400.8V2901H397V2851H393.3V2905H389.5V2899H385.8V2909H382V2902H378.2V2912H374.5V2942H370.7V2949H366.9V2956H363.2V2957H359.4V2964H351.9V2969H348.1V2971H344.4V2957H340.6V2946H336.8V2939H333.1V2928H329.3V2904H325.6V2919H321.8V2939H318V2960H314.3V2977H310.5V2986H306.7V2894H303V2930H299.2V2854H295.5V2913H291.7V2948H287.9V2844H284.2V2915H280.4V2937H276.6V2945H272.9V2962H269.1V2975H265.4V2962H261.6Z" fill="#0000ff"/>
<path d="M261.6 3030H265.4V3028H269.1V3025H272.9V3027H276.6V3018H280.4V3016H284.2V3013H287.9V3009H291.7V2997H295.5V2986H299.2V2953H303V2963H306.7V2990H310.5V3000H314.3V3009H318V3014H321.8V2997H325.6V3009H329.3V3007H333.1V2962H336.8V3019H340.6V3025H344.4V3030H348.1V3019H351.9V3021H355.7V3022H359.4V3002H363.2V3030H366.9V3018H370.7V3032H374.5V2990H378.2V2978H382V3022H385.8V3028H389.5V3023H393.3V3025H397V3012H400.8V3007H404.6V3001H408.3V2996H412.1V3002H415.8V3013H419.6V3015H423.4V3022H427.1V3017H430.9V3025H438.4V3033H445.9V3019H449.7V3009H453.5V3019H457.2V3020H461V3021H464.8V3015H468.5V3002H472.3V3023H476V3027H479.8V3040H483.6V3030H487.3V3032H491.1V3033H494.9V3035H498.6V3022H502.4V3028H506.1V3020H509.9V3022H513.7V3014H517.4V3005H525V2998H528.7V3007H532.5V3031H536.2V3027H540V3026H543.8V3029H547.5V3033H551.3V3035H558.8V3034H562.6V3029H566.3V3025H570.1V3024H573.9V3020H577.6V3014H581.4V2996H585.1V3016H588.9V3012H592.7V3009H596.4V3023H600.2V3031H604V3030H607.7V2999H611.5V3035H615.2V3007H619V3039H622.8V3037H626.5V3013H630.3V3008H634.1V3002H637.8V2986H641.6V3014H645.3V3023H649.1V3015H652.9V3019H656.6V3025H660.4V3028H664.2V3018H667.9V3008H671.7V3023H675.4V3032H679.2V3026H686.7V3031H690.5V3028H694.2V3036H698V3032H701.8V3031H709.3V3024H713.1V3016H716.8V3025H720.6V3028H724.3V3031H728.1V3026H735.6V3031H739.4V3022H743.2V3020H746.9V3005H750.7V3008H754.4V3018H758.2V3023H762V3031H765.7V3003H769.5V2982H773.3V3013H777V3038H780.8V3022H784.5V2995H788.3V2979H792.1V2988H795.8V2996H799.6V3006H803.4V3010H807.1V3000H810.9V2973H814.6V2988H818.4V3005H822.2V3006H825.9V2998H829.7V3023H833.5V3014H837.2V3022H844.7V3026H848.5V3031H852.3V3032H856V3027H859.8V3001H863.5V3024H867.3V3002H871.1V3030H874.8V3034H878.6V3036H882.4V3031H886.1V3029H889.9V3028H893.6V3029H897.4V3027H901.2V3020H904.9V3027H908.7V3010H912.5V3008H916.2V2987H920V2993H923.7V3000H927.5V2997H931.3V2999H935V3001H938.8V2997H942.6V3001H946.3V2993H950.1V2988H953.8V2989H957.6V2983H961.4V2990H965.1V2991H968.9V2995H972.7V2981H976.4V2949H980.2V2980H983.9V3001H987.7V2992H991.5V2986H995.2V2947H999V3021H1002.7V3017H1006.5V3016H1010.3V3015H1017.8V3007H1021.6V2968H1025.3V2983H1029.1V2992H1032.8V2955H1036.6V2982H1040.4V2952H1044.1V2915H1047.9V2948H1051.7V2902H1055.4V2945H1059.2V2913H1062.9V2941H1066.7V2943H1070.5V2941H1074.2V2942H1078V2939H1081.8V2936H1085.5V2953H1089.3V2936H1093V2959H1096.8V2980H1104.3V2976H1108.1V2969H1111.9V2971H1115.6V2960H1119.4V2961H1123.1V2954H1126.9V2949H1130.7V2926H1134.4V2915H1138.2V2909H1141.9V2970H1145.7V2969H1149.5V2925H1153.2V2968H1157V2977H1160.8V2969H1164.5V2962H1168.3V2939H1172V2942H1175.8V2955H1179.6V2952H1183.3V2956H1187.1V2949H1190.9V2953H1194.6V2917H1198.4V2891H1202.1V2858H1205.9V2939H1209.7V2941H1213.4V2952H1217.2V2962H1221V2974H1224.7V2985H1228.5V2992H1232.2V2994H1236V2988H1239.8V3014H1243.5V3001H1247.3V3009H1251.1V3008H1254.8V3003H1258.6V2902H1262.3V2980H1266.1V2986H1269.9V2955H1273.6V3006H1277.4V3008H1281.1V3028H1284.9V3023H1288.7V3020H1292.4V3032H1296.2V3033H1300V3030H1303.7V3031H1307.5V3033H1311.2V3028H1315V3004H1318.8V3009H1322.5V2981H1326.3V2988H1330.1V2978H1333.8V2998H1337.6V3003H1341.3V2999H1345.1V3000H1348.9V2984H1352.6V2989H1356.4V2965H1360.2V2997H1363.9V3007H1367.7V3010H1371.4V3006H1375.2V3003H1379V2996H1382.7V2999H1386.5V3005H1390.3V3022H1394V3017H1397.8V3027H1401.5V3035H1405.3V2998H1409.1V3031H1412.8V3004H1416.6V3012H1420.3V3015H1424.1V3010H1427.9V3000H1431.6V3013H1435.4V3011H1439.2V3016H1442.9V3021H1446.7V3018H1450.4V3004H1454.2V2995H1458V2986H1461.7V3017H1465.5V3024H1469.3V3012H1473V3014H1476.8V3011H1480.5V2968H1484.3V2985H1488.1V2991H1491.8V2992H1495.6V2978H1499.4V2973H1503.1V3008H1506.9V3000H1510.6V3007H1514.4V3000H1518.2V3017H1521.9V3019H1529.5V3018H1533.2V2984H1537V3014H1540.7V3004H1544.5V3016H1552V3021H1555.8V3027H1559.5V3024H1563.3V2997H1567.1V3028H1570.8V3024H1574.6V2997H1578.4V3024H1582.1V3028H1585.9V3021H1589.6V3015H1593.4V3021H1597.2V3020H1600.9V3010H1604.7V2971H1608.5V3023H1612.2V3005H1616V3029H1619.7V3004H1623.5V3026H1627.3V3032H1631V3022H1634.8V3020H1638.6V3006H1642.3V3002H1649.8V3029H1653.6V3030H1657.4V3021H1661.1V3011H1668.7V3002H1672.4V3026H1676.2V3016H1679.9V3029H1687.5V3031H1691.2V3032H1695V3039H1698.7V3022H1702.5V3030H1706.3V3028H1710V3017H1713.8V3004H1717.6V3025H1721.3V3029H1725.1V3022H1728.8V2991H1732.6V3026H1736.4V3022H1740.1V3013H1747.7V2997H1751.4V2991H1755.2V3010H1758.9V3012H1762.7V3006H1766.5V3005H1770.2V2980H1774V2960H1777.8V2996H1781.5V2997H1785.3V2990H1789V2986H1792.8V2968H1796.6V2977H1800.3V2990H1804.1V2993H1807.9V2992H1811.6V2988H1815.4V2944H1819.1V2974H1822.9V3008H1826.7V3014H1830.4V3003H1834.2V2918H1838V2932H1841.7V2990H1845.5V3025H1849.2V3024H1853V3025H1856.8V3006H1860.5V2971H1864.3V2975H1868V2968H1871.8V2981H1875.6V2975H1879.3V2998H1883.1V3005H1886.9V3002H1890.6V3030H1894.4V3024H1898.1V3034H1901.9V3027H1905.7V3035H1909.4V3028H1913.2V3023H1917V3014H1920.7V3011H1924.5V3002H1928.2V3012H1932V3021H1935.8V3013H1939.5V2991H1943.3V2999H1947.1V3017H1950.8V3022H1954.6V3013H1958.3V2995H1962.1V2973H1965.9V2996H1969.6V2998H1973.4V2996H1977.2V2993H1980.9V2951H1984.7V2949H1988.4V2980H1992.2V2939H1996V2970H1999.7V2921H2003.5V2945H2007.2V2973H2011V3001H2018.5V2994H2022.3V2955H2026.1V2984H2029.8V2938H2033.6V2963H2037.3V2969H2041.1V2990H2044.9V2981H2048.6V2994H2052.4V3007H2056.2V2984H2059.9V2968H2063.7V2980H2067.4V2992H2071.2V2994H2075V3004H2078.7V2994H2082.5V3003H2090V3001H2093.8V2983H2097.5V3000H2101.3V2995H2105.1V2999H2108.8V3008H2112.6V3012H2116.4V3017H2120.1V3015H2123.9V3012H2127.6V3014H2131.4V2981H2135.2V3009H2142.7V2990H2146.4V2985H2150.2V2971H2154V2980H2161.5V2983H2165.3V2979H2169V2984H2172.8V2968H2176.5V3001H2180.3V3010H2184.1V3009H2187.8V2989H2191.6V2993H2195.4V2989H2199.1V2961H2202.9V2991H2206.6V2997H2210.4V2999H2214.2V3011H2217.9V2994H2221.7V2949H2225.5V2970H2229.2V2988H2233V2961H2236.7V2936H2240.5V2939H2244.3V2985H2251.8V2955H2255.6V2979H2259.3V2960H2263.1V2984H2266.8V2926H2270.6V3068H2266.8V3067H2263.1V3079H2259.3V3075H2255.6V3088H2251.8V3077H2248V3078H2244.3V3065H2240.5V3083H2236.7V3082H2233V3093H2229.2V3092H2221.7V3091H2217.9V3094H2214.2V3089H2210.4V3069H2206.6V3063H2202.9V3059H2199.1V3057H2195.4V3058H2187.8V3060H2184.1V3056H2180.3V3053H2176.5V3052H2169V3054H2165.3V3062H2161.5V3059H2157.7V3061H2154V3056H2150.2V3057H2146.4V3056H2142.7V3059H2138.9V3062H2135.2V3063H2127.6V3061H2123.9V3063H2120.1V3061H2116.4V3063H2112.6V3061H2108.8V3064H2101.3V3058H2093.8V3056H2086.3V3058H2082.5V3050H2075V3052H2071.2V3055H2067.4V3057H2063.7V3058H2059.9V3062H2056.2V3064H2052.4V3069H2048.6V3075H2044.9V3076H2041.1V3068H2037.3V3044H2033.6V3022H2029.8V3032H2026.1V3047H2022.3V3050H2018.5V3054H2014.8V3056H2007.2V3046H2003.5V3041H1999.7V3060H1996V3059H1992.2V3048H1988.4V3042H1984.7V3040H1980.9V3049H1977.2V3053H1973.4V3065H1969.6V3068H1965.9V3072H1962.1V3068H1954.6V3065H1950.8V3067H1947.1V3063H1943.3V3066H1939.5V3069H1932V3070H1928.2V3071H1924.5V3064H1920.7V3082H1917V3066H1913.2V3093H1909.4V3079H1905.7V3077H1901.9V3087H1898.1V3080H1894.4V3085H1890.6V3083H1886.9V3067H1883.1V3062H1879.3V3059H1875.6V3051H1871.8V3053H1868V3058H1864.3V3062H1860.5V3065H1856.8V3095H1853V3081H1849.2V3080H1845.5V3084H1841.7V3089H1838V3070H1834.2V3071H1830.4V3079H1826.7V3077H1822.9V3094H1819.1V3072H1815.4V3064H1811.6V3054H1807.9V3046H1804.1V3043H1800.3V3049H1796.6V3055H1792.8V3061H1789V3062H1785.3V3067H1781.5V3064H1777.8V3060H1774V3062H1770.2V3067H1766.5V3071H1762.7V3094H1758.9V3072H1755.2V3097H1751.4V3089H1747.7V3071H1743.9V3089H1740.1V3102H1736.4V3096H1732.6V3093H1728.8V3073H1725.1V3082H1721.3V3071H1717.6V3089H1713.8V3081H1710V3097H1706.3V3092H1702.5V3078H1698.7V3087H1695V3097H1691.2V3074H1687.5V3100H1683.7V3073H1679.9V3065H1676.2V3064H1672.4V3061H1664.9V3080H1661.1V3079H1657.4V3102H1653.6V3074H1649.8V3089H1646.1V3075H1642.3V3081H1638.6V3082H1634.8V3070H1631V3096H1627.3V3102H1623.5V3073H1619.7V3075H1616V3073H1612.2V3099H1608.5V3070H1604.7V3072H1600.9V3097H1597.2V3087H1593.4V3083H1589.6V3081H1582.1V3071H1578.4V3097H1574.6V3088H1570.8V3082H1567.1V3083H1563.3V3069H1559.5V3083H1555.8V3094H1552V3089H1548.3V3093H1544.5V3087H1540.7V3073H1537V3087H1533.2V3094H1529.5V3098H1525.7V3091H1521.9V3070H1518.2V3071H1514.4V3066H1510.6V3059H1506.9V3056H1503.1V3050H1499.4V3046H1495.6V3047H1491.8V3054H1488.1V3056H1484.3V3058H1480.5V3060H1476.8V3066H1473V3063H1469.3V3060H1465.5V3064H1461.7V3062H1458V3077H1454.2V3082H1450.4V3087H1446.7V3084H1442.9V3089H1439.2V3090H1431.6V3076H1427.9V3078H1424.1V3068H1420.3V3076H1416.6V3091H1412.8V3092H1409.1V3087H1405.3V3081H1401.5V3099H1397.8V3109H1394V3110H1390.3V3092H1386.5V3095H1382.7V3083H1379V3087H1375.2V3088H1371.4V3081H1367.7V3086H1363.9V3078H1360.2V3097H1356.4V3088H1352.6V3091H1348.9V3084H1345.1V3079H1341.3V3064H1337.6V3067H1333.8V3069H1330.1V3068H1326.3V3065H1322.5V3090H1318.8V3075H1315V3084H1311.2V3098H1307.5V3075H1303.7V3094H1300V3079H1296.2V3096H1292.4V3095H1288.7V3082H1284.9V3088H1281.1V3090H1277.4V3093H1273.6V3065H1269.9V3068H1266.1V3057H1262.3V3050H1258.6V3052H1254.8V3060H1251.1V3062H1247.3V3063H1243.5V3066H1239.8V3064H1236V3062H1232.2V3066H1224.7V3067H1221V3066H1217.2V3064H1213.4V3053H1209.7V3036H1205.9V3029H1202.1V3030H1198.4V3034H1194.6V3043H1190.9V3048H1187.1V3051H1179.6V3055H1175.8V3054H1172V3055H1168.3V3052H1164.5V3063H1160.8V3067H1157V3060H1153.2V3057H1149.5V3058H1141.9V3059H1138.2V3050H1134.4V3032H1130.7V3037H1126.9V3040H1123.1V3044H1119.4V3048H1115.6V3056H1111.9V3059H1108.1V3063H1104.3V3055H1100.6V3051H1096.8V3053H1093V3047H1089.3V3055H1085.5V3053H1081.8V3057H1078V3065H1066.7V3068H1062.9V3061H1059.2V3054H1055.4V3051H1051.7V3054H1047.9V3057H1044.1V3058H1040.4V3056H1036.6V3061H1032.8V3065H1029.1V3062H1025.3V3068H1017.8V3071H1014V3075H1010.3V3074H1006.5V3079H999V3098H995.2V3087H991.5V3079H987.7V3077H983.9V3075H980.2V3073H976.4V3065H972.7V3058H968.9V3050H965.1V3048H957.6V3058H953.8V3063H950.1V3068H946.3V3074H938.8V3103H935V3084H931.3V3101H927.5V3086H923.7V3089H920V3075H916.2V3073H908.7V3077H904.9V3075H901.2V3072H897.4V3073H893.6V3100H889.9V3085H886.1V3096H882.4V3080H878.6V3098H874.8V3075H871.1V3083H867.3V3076H863.5V3083H859.8V3093H856V3079H852.3V3102H848.5V3085H844.7V3101H841V3092H837.2V3093H833.5V3075H829.7V3077H825.9V3096H822.2V3094H814.6V3089H810.9V3099H807.1V3097H803.4V3095H799.6V3086H795.8V3074H792.1V3098H788.3V3086H784.5V3087H777V3095H773.3V3102H769.5V3098H765.7V3090H762V3087H758.2V3096H754.4V3097H750.7V3079H746.9V3102H743.2V3096H739.4V3077H735.6V3075H731.9V3072H728.1V3083H724.3V3100H720.6V3088H716.8V3102H713.1V3075H709.3V3100H705.5V3093H698V3077H694.2V3079H686.7V3094H683V3086H679.2V3072H675.4V3098H671.7V3079H667.9V3099H664.2V3077H660.4V3088H656.6V3075H652.9V3090H649.1V3076H645.3V3075H641.6V3076H637.8V3082H634.1V3102H630.3V3096H626.5V3089H622.8V3094H619V3103H615.2V3077H611.5V3103H607.7V3086H604V3076H600.2V3077H596.4V3090H592.7V3077H588.9V3084H585.1V3083H581.4V3086H577.6V3089H573.9V3083H570.1V3095H566.3V3074H562.6V3094H558.8V3073H555V3087H551.3V3101H547.5V3089H543.8V3091H540V3090H536.2V3096H532.5V3086H521.2V3090H517.4V3095H513.7V3089H509.9V3091H506.1V3086H502.4V3084H498.6V3094H494.9V3077H491.1V3101H487.3V3096H483.6V3103H479.8V3076H476V3086H472.3V3074H468.5V3075H464.8V3099H461V3085H457.2V3090H453.5V3088H449.7V3103H445.9V3078H442.2V3096H438.4V3092H434.7V3089H430.9V3096H427.1V3092H423.4V3075H419.6V3077H415.8V3078H412.1V3074H408.3V3079H404.6V3080H400.8V3076H397V3075H393.3V3074H385.8V3075H382V3084H378.2V3078H374.5V3085H370.7V3092H366.9V3074H363.2V3087H359.4V3071H355.7V3094H351.9V3091H348.1V3092H344.4V3088H340.6V3074H336.8V3079H333.1V3091H329.3V3096H321.8V3092H318V3087H314.3V3100H310.5V3082H306.7V3100H303V3088H299.2V3074H295.5V3073H291.7V3075H287.9V3097H284.2V3098H280.4V3085H276.6V3089H272.9V3096H269.1V3075H265.4V3099H261.6Z" fill="#a8ffd0"/>
<path d="M261.6 3032H265.4V3031H269.1V3028H272.9V3031H276.6V3022H280.4V3018H284.2V3016H287.9V3011H291.7V3000H295.5V2988H299.2V2955H303V2965H306.7V2993H310.5V3003H314.3V3011H318V3017H321.8V2998H325.6V3010H333.1V2965H336.8V3022H340.6V3027H344.4V3031H348.1V3022H351.9V3024H359.4V3003H363.2V3033H366.9V3021H370.7V3034H374.5V2991H378.2V2980H382V3024H385.8V3032H389.5V3022H393.3V3028H397V3015H400.8V3010H404.6V3003H408.3V2998H412.1V3004H415.8V3015H419.6V3016H423.4V3025H427.1V3019H430.9V3028H434.7V3027H438.4V3037H442.2V3035H445.9V3021H449.7V3011H453.5V3022H464.8V3017H468.5V3003H472.3V3024H476V3030H479.8V3042H483.6V3032H487.3V3034H491.1V3036H494.9V3037H498.6V3024H502.4V3030H506.1V3022H509.9V3024H513.7V3017H517.4V3008H525V2999H528.7V3010H532.5V3034H536.2V3031H540V3028H543.8V3032H547.5V3036H551.3V3037H558.8V3036H562.6V3032H566.3V3027H573.9V3024H577.6V3017H581.4V2997H585.1V3018H588.9V3016H592.7V3012H596.4V3027H600.2V3032H607.7V3001H611.5V3037H615.2V3009H619V3040H622.8V3039H626.5V3017H630.3V3011H634.1V3005H637.8V2988H641.6V3016H645.3V3027H649.1V3016H652.9V3021H656.6V3026H660.4V3031H664.2V3021H667.9V3011H671.7V3026H675.4V3033H679.2V3028H683V3029H686.7V3033H690.5V3030H694.2V3037H698V3033H709.3V3026H713.1V3019H716.8V3026H720.6V3029H724.3V3033H728.1V3029H731.9V3030H735.6V3034H739.4V3026H743.2V3021H746.9V3008H750.7V3010H754.4V3019H758.2V3026H762V3033H765.7V3006H769.5V2984H773.3V3015H777V3041H780.8V3024H784.5V2997H788.3V2982H792.1V2990H795.8V2998H799.6V3009H803.4V3014H807.1V3004H810.9V2975H814.6V2990H818.4V3007H822.2V3009H825.9V3000H829.7V3024H833.5V3017H837.2V3026H841V3024H844.7V3029H848.5V3034H856V3030H859.8V3004H863.5V3027H867.3V3003H871.1V3033H874.8V3038H882.4V3034H886.1V3032H889.9V3029H893.6V3032H897.4V3028H901.2V3023H904.9V3030H908.7V3012H912.5V3010H916.2V2989H920V2995H923.7V3004H927.5V2998H931.3V3002H935V3004H938.8V2999H942.6V3004H946.3V2995H950.1V2990H953.8V2991H957.6V2986H961.4V2991H965.1V2994H968.9V2997H972.7V2985H976.4V2950H980.2V2982H983.9V3005H987.7V2994H991.5V2988H995.2V2949H999V3024H1002.7V3019H1010.3V3016H1014V3017H1017.8V3011H1021.6V2969H1025.3V2985H1029.1V2995H1032.8V2957H1036.6V2985H1040.4V2953H1044.1V2918H1047.9V2952H1051.7V2905H1055.4V2947H1059.2V2914H1062.9V2943H1066.7V2944H1070.5V2943H1074.2V2944H1078V2943H1081.8V2939H1085.5V2956H1089.3V2939H1093V2961H1096.8V2984H1100.6V2982H1104.3V2979H1108.1V2971H1111.9V2974H1115.6V2962H1123.1V2956H1126.9V2952H1130.7V2928H1134.4V2917H1138.2V2910H1141.9V2972H1145.7V2971H1149.5V2926H1153.2V2969H1157V2978H1160.8V2972H1164.5V2966H1168.3V2942H1172V2945H1175.8V2957H1179.6V2955H1183.3V2960H1187.1V2950H1190.9V2956H1194.6V2921H1198.4V2893H1202.1V2859H1205.9V2943H1213.4V2954H1217.2V2964H1221V2976H1224.7V2987H1228.5V2994H1232.2V2997H1236V2991H1239.8V3018H1243.5V3004H1247.3V3012H1251.1V3010H1254.8V3006H1258.6V2903H1262.3V2984H1266.1V2988H1269.9V2957H1273.6V3009H1281.1V3031H1284.9V3026H1288.7V3021H1292.4V3033H1296.2V3037H1300V3032H1303.7V3033H1307.5V3035H1311.2V3032H1315V3005H1318.8V3012H1322.5V2983H1326.3V2989H1330.1V2979H1333.8V3001H1337.6V3006H1341.3V3000H1345.1V3003H1348.9V2985H1352.6V2993H1356.4V2966H1360.2V2999H1363.9V3010H1367.7V3013H1371.4V3009H1375.2V3004H1379V2999H1382.7V3000H1386.5V3008H1390.3V3025H1394V3019H1397.8V3029H1401.5V3037H1405.3V3000H1409.1V3033H1412.8V3005H1416.6V3014H1420.3V3016H1424.1V3013H1427.9V3002H1431.6V3016H1435.4V3013H1439.2V3018H1442.9V3025H1446.7V3020H1450.4V3005H1454.2V2996H1458V2988H1461.7V3020H1465.5V3026H1469.3V3015H1473V3017H1476.8V3013H1480.5V2970H1484.3V2987H1488.1V2993H1491.8V2996H1495.6V2981H1499.4V2976H1503.1V3010H1506.9V3003H1510.6V3008H1514.4V3002H1518.2V3019H1521.9V3021H1525.7V3020H1533.2V2987H1537V3018H1540.7V3006H1544.5V3020H1548.3V3019H1552V3022H1555.8V3028H1559.5V3026H1563.3V3000H1567.1V3031H1570.8V3026H1574.6V2999H1578.4V3027H1582.1V3031H1585.9V3024H1589.6V3016H1593.4V3023H1597.2V3022H1600.9V3012H1604.7V2973H1608.5V3026H1612.2V3006H1616V3032H1619.7V3006H1623.5V3028H1627.3V3034H1631V3025H1634.8V3022H1638.6V3008H1642.3V3003H1649.8V3032H1657.4V3025H1661.1V3012H1664.9V3013H1668.7V3003H1672.4V3029H1676.2V3018H1679.9V3031H1687.5V3034H1691.2V3035H1695V3041H1698.7V3025H1702.5V3032H1710V3019H1713.8V3007H1717.6V3027H1721.3V3033H1725.1V3024H1728.8V2992H1732.6V3028H1736.4V3024H1740.1V3014H1743.9V3017H1747.7V2999H1751.4V2994H1755.2V3013H1758.9V3014H1762.7V3009H1766.5V3007H1770.2V2983H1774V2962H1777.8V3000H1781.5V2999H1785.3V2993H1789V2988H1792.8V2970H1796.6V2978H1800.3V2994H1804.1V2997H1807.9V2994H1811.6V2991H1815.4V2947H1819.1V2977H1822.9V3010H1826.7V3017H1830.4V3007H1834.2V2919H1838V2934H1841.7V2992H1845.5V3028H1849.2V3025H1853V3027H1856.8V3009H1860.5V2973H1864.3V2976H1868V2970H1871.8V2982H1875.6V2978H1879.3V3000H1883.1V3007H1886.9V3003H1890.6V3033H1894.4V3026H1898.1V3037H1901.9V3030H1905.7V3037H1909.4V3031H1913.2V3025H1917V3017H1920.7V3013H1924.5V3004H1928.2V3015H1932V3025H1935.8V3017H1939.5V2993H1943.3V3002H1947.1V3020H1950.8V3025H1954.6V3016H1958.3V2997H1962.1V2975H1965.9V3000H1969.6V3002H1973.4V2999H1977.2V2996H1980.9V2953H1984.7V2951H1988.4V2982H1992.2V2942H1996V2972H1999.7V2923H2003.5V2948H2007.2V2975H2011V3003H2014.8V3005H2018.5V2996H2022.3V2956H2026.1V2987H2029.8V2940H2033.6V2966H2037.3V2972H2041.1V2993H2044.9V2984H2048.6V2997H2052.4V3010H2056.2V2985H2059.9V2969H2063.7V2981H2067.4V2994H2071.2V2996H2075V3008H2078.7V2995H2082.5V3005H2086.3V3007H2090V3003H2093.8V2986H2097.5V3003H2101.3V2997H2105.1V3001H2108.8V3010H2112.6V3015H2116.4V3021H2120.1V3018H2123.9V3016H2131.4V2982H2135.2V3012H2138.9V3011H2142.7V2993H2146.4V2989H2150.2V2973H2154V2982H2161.5V2987H2165.3V2982H2169V2988H2172.8V2970H2176.5V3004H2180.3V3012H2187.8V2991H2191.6V2995H2195.4V2990H2199.1V2963H2202.9V2994H2206.6V3000H2214.2V3015H2217.9V2997H2221.7V2951H2225.5V2973H2229.2V2990H2233V2963H2236.7V2937H2240.5V2941H2244.3V2988H2248V2986H2251.8V2957H2255.6V2981H2259.3V2962H2263.1V2987H2266.8V2927H2270.6V3066H2263.1V3078H2259.3V3072H2255.6V3085H2251.8V3077H2248V3076H2244.3V3064H2240.5V3082H2236.7V3080H2233V3091H2229.2V3092H2225.5V3089H2221.7V3090H2217.9V3092H2214.2V3086H2210.4V3066H2206.6V3061H2202.9V3058H2199.1V3054H2195.4V3056H2191.6V3055H2187.8V3056H2184.1V3055H2180.3V3050H2176.5V3052H2172.8V3051H2169V3054H2165.3V3062H2161.5V3059H2157.7V3058H2154V3055H2150.2V3054H2142.7V3056H2138.9V3061H2135.2V3060H2131.4V3061H2120.1V3060H2116.4V3061H2112.6V3058H2108.8V3061H2101.3V3057H2097.5V3056H2093.8V3055H2086.3V3056H2082.5V3047H2078.7V3049H2075V3050H2071.2V3053H2067.4V3054H2063.7V3056H2059.9V3059H2056.2V3061H2052.4V3068H2048.6V3072H2044.9V3074H2041.1V3068H2037.3V3042H2033.6V3020H2029.8V3029H2026.1V3045H2022.3V3048H2018.5V3051H2014.8V3053H2011V3054H2007.2V3042H2003.5V3038H1999.7V3057H1996V3058H1992.2V3046H1988.4V3039H1980.9V3046H1977.2V3052H1973.4V3062H1969.6V3066H1965.9V3070H1962.1V3066H1958.3V3065H1954.6V3064H1950.8V3066H1947.1V3062H1943.3V3064H1939.5V3066H1935.8V3067H1928.2V3069H1924.5V3065H1920.7V3080H1917V3064H1913.2V3091H1909.4V3079H1905.7V3073H1901.9V3086H1898.1V3077H1894.4V3083H1890.6V3081H1886.9V3064H1883.1V3058H1879.3V3057H1875.6V3050H1871.8V3051H1868V3056H1864.3V3060H1860.5V3063H1856.8V3092H1853V3079H1849.2V3077H1845.5V3081H1841.7V3086H1838V3069H1830.4V3079H1826.7V3074H1822.9V3090H1819.1V3069H1815.4V3061H1811.6V3050H1807.9V3044H1804.1V3041H1800.3V3048H1796.6V3054H1792.8V3059H1789V3063H1785.3V3065H1781.5V3061H1777.8V3059H1774V3060H1770.2V3065H1766.5V3068H1762.7V3091H1758.9V3071H1755.2V3093H1751.4V3087H1747.7V3069H1743.9V3086H1740.1V3099H1736.4V3093H1732.6V3089H1728.8V3070H1725.1V3081H1721.3V3069H1717.6V3086H1713.8V3080H1710V3095H1706.3V3090H1702.5V3077H1698.7V3084H1695V3094H1691.2V3072H1687.5V3098H1683.7V3071H1679.9V3064H1676.2V3063H1672.4V3058H1668.7V3061H1664.9V3077H1661.1V3076H1657.4V3101H1653.6V3073H1649.8V3087H1646.1V3073H1642.3V3080H1634.8V3067H1631V3094H1627.3V3099H1623.5V3071H1619.7V3072H1612.2V3097H1608.5V3069H1604.7V3071H1600.9V3094H1597.2V3085H1593.4V3079H1589.6V3081H1585.9V3078H1582.1V3069H1578.4V3094H1574.6V3086H1570.8V3080H1567.1V3082H1563.3V3069H1559.5V3082H1555.8V3091H1552V3086H1548.3V3092H1544.5V3086H1540.7V3072H1537V3083H1533.2V3093H1529.5V3095H1525.7V3090H1521.9V3067H1518.2V3068H1514.4V3063H1510.6V3057H1506.9V3055H1503.1V3050H1499.4V3044H1495.6V3045H1491.8V3051H1488.1V3052H1484.3V3057H1480.5V3058H1476.8V3064H1473V3060H1465.5V3061H1458V3077H1454.2V3080H1450.4V3086H1446.7V3082H1442.9V3087H1435.4V3088H1431.6V3075H1424.1V3068H1420.3V3074H1416.6V3089H1412.8V3090H1409.1V3087H1405.3V3079H1401.5V3098H1397.8V3108H1394V3107H1390.3V3093H1382.7V3081H1379V3085H1375.2V3087H1371.4V3078H1367.7V3082H1363.9V3077H1360.2V3094H1356.4V3085H1352.6V3091H1348.9V3081H1345.1V3077H1341.3V3063H1337.6V3065H1330.1V3066H1326.3V3063H1322.5V3088H1318.8V3074H1315V3081H1311.2V3094H1307.5V3073H1303.7V3091H1300V3077H1296.2V3093H1292.4V3094H1288.7V3081H1284.9V3085H1281.1V3088H1277.4V3092H1273.6V3064H1269.9V3068H1266.1V3056H1262.3V3048H1258.6V3050H1254.8V3059H1251.1V3060H1247.3V3061H1243.5V3064H1239.8V3062H1232.2V3064H1224.7V3067H1221V3063H1217.2V3061H1213.4V3051H1209.7V3034H1205.9V3026H1202.1V3028H1198.4V3032H1194.6V3040H1190.9V3046H1187.1V3049H1179.6V3052H1175.8V3053H1172V3051H1164.5V3060H1160.8V3065H1157V3060H1153.2V3056H1149.5V3055H1145.7V3056H1141.9V3057H1138.2V3046H1134.4V3030H1130.7V3036H1126.9V3038H1123.1V3041H1119.4V3046H1115.6V3054H1111.9V3057H1108.1V3060H1104.3V3052H1100.6V3050H1096.8V3051H1093V3047H1089.3V3054H1085.5V3051H1081.8V3057H1078V3063H1074.2V3062H1070.5V3063H1066.7V3064H1062.9V3061H1059.2V3053H1055.4V3050H1051.7V3051H1047.9V3054H1044.1V3058H1040.4V3055H1036.6V3058H1032.8V3064H1029.1V3061H1025.3V3064H1021.6V3067H1017.8V3069H1014V3072H1010.3V3073H1006.5V3075H1002.7V3078H999V3095H995.2V3085H991.5V3078H987.7V3075H983.9V3072H976.4V3062H972.7V3054H968.9V3047H965.1V3045H957.6V3056H953.8V3061H950.1V3066H946.3V3071H942.6V3072H938.8V3101H935V3083H931.3V3099H927.5V3083H923.7V3087H920V3074H916.2V3070H908.7V3075H904.9V3073H901.2V3069H897.4V3070H893.6V3098H889.9V3082H886.1V3096H882.4V3078H878.6V3097H874.8V3074H871.1V3080H867.3V3075H863.5V3081H859.8V3089H856V3076H852.3V3098H848.5V3085H844.7V3100H841V3090H833.5V3073H829.7V3074H825.9V3094H822.2V3092H818.4V3091H814.6V3087H810.9V3098H807.1V3095H799.6V3085H795.8V3071H792.1V3095H788.3V3083H784.5V3084H777V3091H773.3V3098H769.5V3095H765.7V3088H762V3084H758.2V3095H754.4V3094H750.7V3076H746.9V3099H743.2V3093H739.4V3076H735.6V3072H731.9V3071H728.1V3083H724.3V3098H720.6V3084H716.8V3099H713.1V3073H709.3V3097H705.5V3091H701.8V3092H698V3075H694.2V3077H690.5V3075H686.7V3092H683V3085H679.2V3071H675.4V3097H671.7V3077H667.9V3097H664.2V3076H660.4V3089H656.6V3074H652.9V3088H649.1V3075H645.3V3074H637.8V3081H634.1V3100H630.3V3093H626.5V3087H622.8V3091H619V3101H615.2V3076H611.5V3102H607.7V3086H604V3073H600.2V3075H596.4V3088H592.7V3075H588.9V3083H585.1V3082H581.4V3083H577.6V3086H573.9V3082H570.1V3093H566.3V3073H562.6V3092H558.8V3072H555V3085H551.3V3099H547.5V3088H543.8V3087H540V3086H536.2V3094H532.5V3083H528.7V3082H525V3085H521.2V3088H517.4V3091H513.7V3088H509.9V3089H506.1V3084H502.4V3080H498.6V3092H494.9V3075H491.1V3097H487.3V3094H483.6V3102H479.8V3073H476V3087H472.3V3071H468.5V3073H464.8V3098H461V3084H457.2V3087H453.5V3086H449.7V3100H445.9V3076H442.2V3095H438.4V3090H434.7V3087H430.9V3095H427.1V3091H423.4V3073H419.6V3075H415.8V3077H412.1V3072H408.3V3077H404.6V3078H400.8V3075H397V3074H393.3V3071H389.5V3073H382V3083H378.2V3075H374.5V3083H370.7V3090H366.9V3072H363.2V3085H359.4V3070H355.7V3092H351.9V3089H348.1V3088H344.4V3086H340.6V3072H336.8V3078H333.1V3089H329.3V3094H325.6V3093H321.8V3090H318V3084H314.3V3098H310.5V3082H306.7V3098H303V3085H299.2V3073H295.5V3071H291.7V3073H287.9V3094H280.4V3081H276.6V3088H272.9V3094H269.1V3073H265.4V3098H261.6Z" fill="#18ff84"/>
<path d="M261.6 3037H265.4V3033H269.1V3030H272.9V3032H276.6V3023H280.4V3021H284.2V3017H287.9V3021H291.7V3016H295.5V3002H299.2V2990H303V2995H310.5V3005H314.3V3011H318V3019H321.8V3021H329.3V3012H333.1V2987H336.8V3022H340.6V3034H344.4V3033H348.1V3024H355.7V3025H359.4V3026H363.2V3041H366.9V3027H370.7V3034H374.5V3009H378.2V2995H382V3027H385.8V3035H389.5V3025H393.3V3029H397V3018H400.8V3012H404.6V3013H408.3V3010H412.1V3009H415.8V3016H419.6V3018H423.4V3027H427.1V3020H430.9V3029H434.7V3030H438.4V3038H442.2V3036H445.9V3035H449.7V3027H453.5V3043H457.2V3023H461V3024H464.8V3022H468.5V3019H472.3V3025H476V3031H479.8V3042H483.6V3043H487.3V3036H491.1V3038H494.9V3039H498.6V3035H502.4V3032H506.1V3026H509.9V3025H513.7V3020H517.4V3016H521.2V3011H525V3013H528.7V3023H532.5V3034H536.2V3033H543.8V3036H547.5V3039H551.3V3037H555V3040H558.8V3038H562.6V3034H566.3V3028H570.1V3029H573.9V3026H577.6V3023H581.4V3028H585.1V3020H588.9V3018H592.7V3021H596.4V3029H600.2V3033H611.5V3040H615.2V3034H619V3041H622.8V3040H626.5V3019H630.3V3012H634.1V3007H637.8V3017H641.6V3018H645.3V3028H649.1V3030H652.9V3027H656.6V3031H660.4V3034H664.2V3064H667.9V3031H671.7V3027H675.4V3035H679.2V3030H686.7V3034H690.5V3033H694.2V3039H701.8V3036H705.5V3033H709.3V3039H713.1V3036H716.8V3031H720.6V3038H724.3V3033H728.1V3053H731.9V3033H735.6V3036H739.4V3029H743.2V3038H746.9V3018H750.7V3016H754.4V3022H758.2V3028H762V3067H765.7V3026H769.5V3004H773.3V3036H777V3042H780.8V3027H784.5V3025H788.3V3000H799.6V3011H803.4V3016H807.1V3005H810.9V3001H814.6V3003H818.4V3009H822.2V3011H825.9V3016H829.7V3027H833.5V3018H837.2V3027H841V3033H844.7V3032H848.5V3035H852.3V3036H856V3030H859.8V3035H863.5V3028H867.3V3036H871.1V3035H874.8V3073H878.6V3049H882.4V3045H886.1V3041H889.9V3029H893.6V3033H897.4V3031H901.2V3030H904.9V3031H908.7V3018H912.5V3028H916.2V3013H920V3003H923.7V3006H927.5V3003H931.3V3005H938.8V3001H942.6V3004H946.3V3000H950.1V2996H953.8V2994H957.6V2992H961.4V2995H965.1V2996H968.9V2997H972.7V2988H976.4V2998H980.2V2996H983.9V3006H987.7V2996H991.5V2991H995.2V3022H999V3025H1002.7V3021H1010.3V3020H1014V3017H1017.8V3014H1021.6V2984H1025.3V2999H1029.1V2996H1036.6V2985H1040.4V2976H1044.1V3001H1047.9V2953H1051.7V2921H1055.4V2949H1059.2V2947H1062.9V2945H1066.7V2947H1070.5V3030H1074.2V2945H1078V2971H1081.8V2944H1085.5V2958H1089.3V2975H1093V2971H1096.8V2985H1100.6V2984H1104.3V2982H1108.1V2972H1111.9V2976H1115.6V2964H1123.1V2958H1126.9V2952H1130.7V2945H1134.4V2930H1138.2V2955H1141.9V2980H1145.7V2972H1149.5V2982H1153.2V2979H1157V2978H1160.8V2975H1164.5V2967H1168.3V2952H1172V2954H1175.8V2958H1179.6V2957H1183.3V2962H1187.1V2957H1194.6V2923H1198.4V2934H1202.1V2907H1205.9V2944H1209.7V2946H1213.4V2957H1217.2V2978H1221V3000H1224.7V2994H1228.5V2995H1232.2V2999H1236V3012H1239.8V3018H1243.5V3015H1247.3V3014H1251.1V3011H1254.8V3007H1262.3V2985H1266.1V2991H1269.9V2995H1273.6V3012H1277.4V3028H1281.1V3031H1284.9V3027H1288.7V3033H1292.4V3035H1296.2V3039H1300V3038H1303.7V3033H1307.5V3036H1311.2V3032H1315V3021H1318.8V3012H1322.5V2997H1326.3V2999H1330.1V2989H1333.8V3002H1337.6V3007H1341.3V3005H1345.1V3003H1352.6V2993H1356.4V3003H1360.2V3001H1363.9V3012H1367.7V3013H1371.4V3011H1375.2V3013H1379V3009H1382.7V3014H1386.5V3016H1390.3V3028H1394V3019H1397.8V3031H1401.5V3037H1405.3V3035H1409.1V3036H1412.8V3028H1416.6V3025H1420.3V3045H1424.1V3017H1431.6V3018H1435.4V3024H1439.2V3021H1442.9V3026H1446.7V3022H1450.4V3014H1454.2V3012H1458V3009H1461.7V3021H1465.5V3029H1469.3V3021H1473V3018H1476.8V3015H1480.5V2993H1484.3V2987H1488.1V2995H1491.8V2996H1495.6V3003H1499.4V3011H1503.1V3015H1510.6V3018H1514.4V3023H1518.2V3021H1521.9V3023H1525.7V3022H1529.5V3020H1533.2V3018H1537V3019H1540.7V3020H1544.5V3022H1548.3V3021H1552V3022H1555.8V3029H1559.5V3028H1563.3V3032H1567.1V3069H1570.8V3030H1578.4V3028H1582.1V3033H1585.9V3026H1589.6V3049H1593.4V3029H1597.2V3033H1600.9V3015H1604.7V3014H1608.5V3027H1612.2V3037H1616V3040H1619.7V3037H1623.5V3031H1627.3V3034H1631V3027H1634.8V3024H1638.6V3011H1642.3V3032H1646.1V3026H1649.8V3033H1653.6V3035H1657.4V3027H1661.1V3029H1664.9V3013H1668.7V3021H1672.4V3029H1679.9V3032H1683.7V3039H1687.5V3036H1695V3041H1698.7V3037H1706.3V3034H1710V3033H1717.6V3037H1721.3V3033H1725.1V3027H1728.8V3028H1732.6V3029H1740.1V3024H1743.9V3017H1747.7V3018H1751.4V3009H1755.2V3015H1758.9V3017H1762.7V3011H1766.5V3008H1770.2V2991H1774V2979H1777.8V3001H1781.5V3002H1785.3V2994H1789V2989H1796.6V2987H1800.3V2994H1804.1V2999H1807.9V2994H1811.6V2992H1815.4V2983H1819.1V3009H1822.9V3017H1826.7V3018H1830.4V3008H1834.2V2998H1838V3003H1841.7V3052H1845.5V3030H1849.2V3027H1853V3028H1856.8V3019H1860.5V2994H1864.3V3002H1868V2990H1871.8V2995H1875.6V3005H1879.3V3001H1883.1V3009H1886.9V3020H1890.6V3034H1894.4V3032H1898.1V3039H1901.9V3037H1905.7V3040H1909.4V3033H1913.2V3026H1917V3032H1920.7V3014H1924.5V3042H1928.2V3023H1932V3026H1935.8V3018H1943.3V3019H1947.1V3023H1950.8V3025H1954.6V3018H1958.3V3022H1962.1V3005H1965.9V3001H1969.6V3005H1973.4V2999H1977.2V2998H1980.9V2970H1984.7V2974H1988.4V2985H1992.2V2966H1996V2974H1999.7V2958H2003.5V2968H2007.2V3001H2011V3005H2014.8V3007H2018.5V2998H2022.3V2996H2026.1V2987H2029.8V2956H2033.6V2968H2037.3V2975H2041.1V2993H2044.9V3009H2048.6V2999H2052.4V3010H2056.2V3012H2059.9V3013H2063.7V2983H2067.4V2996H2075V3009H2078.7V3005H2082.5V3006H2086.3V3009H2090V3004H2093.8V3002H2097.5V3004H2101.3V3013H2108.8V3023H2112.6V3015H2116.4V3024H2120.1V3018H2131.4V3014H2135.2V3013H2138.9V3011H2142.7V3001H2146.4V2991H2150.2V2984H2154V2983H2157.7V2989H2161.5V2987H2165.3V2983H2169V2990H2172.8V2980H2176.5V3004H2180.3V3014H2184.1V3018H2187.8V3015H2191.6V2996H2195.4V2991H2199.1V2987H2202.9V2997H2206.6V3001H2210.4V3014H2214.2V3016H2217.9V3005H2221.7V3006H2225.5V2976H2229.2V2990H2236.7V2972H2240.5V2983H2244.3V2991H2248V2994H2251.8V2984H2255.6V2981H2259.3V2987H2266.8V2951H2270.6V3065H2263.1V3074H2259.3V3069H2255.6V3085H2251.8V3075H2244.3V3062H2240.5V3079H2233V3089H2229.2V3092H2225.5V3087H2221.7V3089H2217.9V3090H2214.2V3085H2210.4V3065H2206.6V3060H2202.9V3056H2199.1V3053H2191.6V3052H2187.8V3054H2184.1V3053H2180.3V3048H2176.5V3050H2172.8V3048H2169V3054H2165.3V3060H2161.5V3059H2157.7V3057H2154V3054H2150.2V3053H2142.7V3055H2138.9V3061H2135.2V3060H2127.6V3061H2123.9V3059H2120.1V3058H2116.4V3059H2112.6V3057H2108.8V3059H2101.3V3056H2093.8V3054H2086.3V3053H2082.5V3047H2078.7V3048H2075V3049H2071.2V3051H2067.4V3053H2059.9V3058H2056.2V3061H2052.4V3065H2048.6V3071H2044.9V3072H2041.1V3065H2037.3V3039H2033.6V3018H2029.8V3029H2026.1V3041H2022.3V3045H2018.5V3050H2014.8V3051H2011V3053H2007.2V3041H2003.5V3035H1999.7V3055H1996V3056H1992.2V3044H1988.4V3039H1984.7V3035H1980.9V3043H1977.2V3052H1973.4V3062H1969.6V3064H1965.9V3067H1962.1V3064H1958.3V3063H1954.6V3061H1950.8V3063H1947.1V3061H1943.3V3063H1939.5V3064H1935.8V3066H1932V3065H1928.2V3046H1924.5V3062H1920.7V3078H1917V3063H1913.2V3089H1909.4V3079H1905.7V3073H1901.9V3084H1898.1V3077H1894.4V3082H1890.6V3081H1886.9V3064H1883.1V3058H1879.3V3053H1875.6V3050H1871.8V3051H1868V3054H1864.3V3058H1860.5V3061H1856.8V3090H1853V3076H1849.2V3075H1845.5V3060H1841.7V3084H1838V3067H1830.4V3079H1826.7V3072H1822.9V3090H1819.1V3068H1815.4V3060H1811.6V3050H1807.9V3041H1804.1V3040H1800.3V3048H1796.6V3053H1792.8V3058H1789V3060H1785.3V3063H1781.5V3060H1777.8V3055H1774V3059H1770.2V3064H1766.5V3068H1762.7V3089H1758.9V3070H1755.2V3092H1751.4V3085H1747.7V3068H1743.9V3086H1740.1V3097H1736.4V3093H1732.6V3088H1728.8V3069H1725.1V3081H1721.3V3069H1717.6V3086H1713.8V3079H1710V3095H1706.3V3089H1702.5V3074H1698.7V3083H1695V3092H1691.2V3071H1687.5V3095H1683.7V3067H1679.9V3063H1676.2V3062H1672.4V3056H1668.7V3059H1664.9V3076H1661.1V3075H1657.4V3099H1653.6V3070H1649.8V3087H1646.1V3072H1642.3V3078H1638.6V3079H1634.8V3067H1631V3094H1627.3V3098H1623.5V3070H1619.7V3069H1616V3070H1612.2V3096H1608.5V3068H1604.7V3071H1600.9V3091H1597.2V3084H1593.4V3060H1589.6V3079H1585.9V3077H1582.1V3066H1578.4V3091H1574.6V3085H1570.8V3071H1567.1V3081H1563.3V3069H1559.5V3079H1555.8V3089H1552V3085H1548.3V3091H1544.5V3085H1540.7V3070H1537V3082H1533.2V3091H1529.5V3093H1525.7V3088H1521.9V3067H1518.2V3065H1514.4V3061H1510.6V3057H1506.9V3054H1503.1V3047H1499.4V3043H1495.6V3045H1491.8V3048H1488.1V3051H1484.3V3053H1480.5V3058H1476.8V3062H1473V3060H1461.7V3058H1458V3075H1454.2V3080H1450.4V3084H1446.7V3081H1442.9V3085H1439.2V3086H1435.4V3088H1431.6V3075H1427.9V3074H1424.1V3056H1420.3V3072H1416.6V3088H1409.1V3085H1405.3V3076H1401.5V3096H1397.8V3105H1394V3106H1390.3V3090H1386.5V3092H1382.7V3081H1379V3085H1375.2V3086H1371.4V3078H1367.7V3081H1363.9V3077H1360.2V3093H1356.4V3083H1352.6V3089H1348.9V3081H1345.1V3077H1341.3V3062H1337.6V3063H1333.8V3064H1330.1V3063H1322.5V3086H1318.8V3073H1315V3079H1311.2V3092H1307.5V3070H1303.7V3089H1300V3073H1296.2V3091H1288.7V3081H1284.9V3084H1281.1V3086H1277.4V3090H1273.6V3062H1269.9V3065H1266.1V3056H1262.3V3047H1258.6V3049H1254.8V3058H1251.1V3060H1247.3V3061H1239.8V3062H1228.5V3063H1224.7V3064H1221V3063H1217.2V3060H1213.4V3048H1209.7V3032H1205.9V3024H1202.1V3026H1198.4V3029H1194.6V3037H1190.9V3045H1187.1V3046H1183.3V3048H1179.6V3050H1168.3V3051H1164.5V3057H1160.8V3064H1157V3058H1153.2V3056H1149.5V3053H1145.7V3056H1141.9V3057H1138.2V3046H1134.4V3028H1130.7V3032H1126.9V3037H1123.1V3040H1119.4V3045H1115.6V3054H1111.9V3056H1108.1V3059H1104.3V3049H1100.6V3048H1096.8V3050H1093V3047H1089.3V3051H1085.5V3050H1081.8V3003H1078V3061H1074.2V3043H1070.5V3061H1066.7V3063H1062.9V3059H1059.2V3053H1055.4V3049H1051.7V3050H1047.9V3025H1044.1V3056H1040.4V3054H1036.6V3056H1032.8V3060H1029.1V3061H1025.3V3063H1021.6V3065H1017.8V3067H1014V3071H1010.3V3073H1006.5V3075H1002.7V3074H999V3038H995.2V3082H991.5V3077H987.7V3072H980.2V3070H976.4V3062H972.7V3053H968.9V3046H965.1V3044H957.6V3054H953.8V3059H950.1V3063H946.3V3068H942.6V3069H938.8V3098H935V3081H931.3V3097H927.5V3083H920V3072H916.2V3032H912.5V3069H908.7V3072H904.9V3070H901.2V3069H897.4V3070H893.6V3097H889.9V3081H886.1V3093H882.4V3076H878.6V3082H874.8V3071H871.1V3079H867.3V3073H863.5V3078H859.8V3087H856V3075H852.3V3097H848.5V3082H844.7V3100H841V3088H837.2V3087H833.5V3073H829.7V3072H825.9V3092H822.2V3090H818.4V3091H814.6V3083H810.9V3096H807.1V3093H803.4V3095H799.6V3085H795.8V3071H792.1V3094H788.3V3083H780.8V3081H777V3090H773.3V3096H769.5V3094H765.7V3075H762V3083H758.2V3093H754.4V3091H750.7V3074H746.9V3054H743.2V3091H739.4V3074H735.6V3072H731.9V3059H728.1V3080H724.3V3097H720.6V3082H716.8V3097H713.1V3073H709.3V3096H705.5V3089H701.8V3092H698V3074H690.5V3073H686.7V3090H683V3085H679.2V3071H675.4V3095H671.7V3074H667.9V3078H664.2V3073H660.4V3086H656.6V3072H652.9V3086H649.1V3072H645.3V3074H641.6V3072H637.8V3079H634.1V3100H630.3V3091H626.5V3086H622.8V3090H619V3101H615.2V3075H611.5V3101H607.7V3086H604V3072H600.2V3073H596.4V3085H592.7V3073H588.9V3083H585.1V3082H581.4V3083H577.6V3084H573.9V3081H570.1V3092H566.3V3073H562.6V3091H558.8V3072H555V3085H551.3V3098H547.5V3087H543.8V3086H536.2V3090H532.5V3083H528.7V3081H525V3084H521.2V3088H517.4V3090H513.7V3088H509.9V3086H506.1V3081H502.4V3079H498.6V3090H494.9V3074H491.1V3096H487.3V3093H483.6V3100H479.8V3073H476V3084H472.3V3070H468.5V3073H464.8V3097H461V3083H457.2V3059H453.5V3085H449.7V3099H445.9V3075H442.2V3095H438.4V3090H434.7V3084H430.9V3091H427.1V3088H423.4V3071H419.6V3073H415.8V3075H412.1V3071H408.3V3076H404.6V3074H400.8V3072H393.3V3070H389.5V3071H382V3081H378.2V3074H374.5V3082H370.7V3090H366.9V3072H363.2V3083H359.4V3070H355.7V3091H351.9V3088H344.4V3086H340.6V3070H336.8V3078H333.1V3088H329.3V3093H325.6V3090H321.8V3088H318V3082H314.3V3096H310.5V3082H306.7V3096H303V3083H299.2V3071H287.9V3093H284.2V3091H280.4V3081H276.6V3084H272.9V3091H269.1V3073H265.4V3095H261.6Z" fill="#00ff00"/>
<path d="M261.6 3074H265.4V3069H269.1V3072H272.9V3070H276.6V3069H280.4V3067H284.2V3072H287.9V3067H291.7V3070H295.5V3082H299.2V3070H303V3072H310.5V3068H314.3V3074H318V3069H321.8V3073H329.3V3066H333.1V3064H336.8V3065H340.6V3073H344.4V3070H348.1V3069H351.9V3072H355.7V3070H363.2V3074H366.9V3066H370.7V3065H374.5V3068H378.2V3066H382V3067H385.8V3071H389.5V3068H393.3V3074H397V3070H400.8V3069H404.6V3068H408.3V3063H412.1V3066H415.8V3071H419.6V3069H423.4V3067H427.1V3068H430.9V3067H434.7V3069H438.4V3075H445.9V3071H449.7V3069H453.5V3066H457.2V3067H461V3068H464.8V3069H468.5V3068H472.3V3079H476V3071H479.8V3070H483.6V3066H487.3V3071H491.1V3072H494.9V3069H498.6V3067H506.1V3072H509.9V3068H517.4V3073H521.2V3070H525V3068H528.7V3065H532.5V3067H536.2V3072H540V3067H543.8V3066H547.5V3065H551.3V3069H555V3076H558.8V3073H562.6V3066H566.3V3073H570.1V3079H573.9V3068H577.6V3069H581.4V3070H585.1V3067H588.9V3071H592.7V3069H600.2V3065H604V3070H607.7V3076H611.5V3070H615.2V3069H619V3070H622.8V3069H634.1V3066H637.8V3063H641.6V3064H645.3V3087H649.1V3070H652.9V3069H656.6V3072H660.4V3070H664.2V3069H667.9V3064H671.7V3067H675.4V3072H679.2V3066H683V3070H686.7V3071H690.5V3070H694.2V3071H698V3066H705.5V3070H709.3V3068H713.1V3066H716.8V3080H720.6V3070H724.3V3066H728.1V3074H731.9V3069H735.6V3072H743.2V3066H746.9V3069H750.7V3074H754.4V3068H758.2V3069H762V3070H765.7V3067H769.5V3070H773.3V3061H777V3073H780.8V3065H784.5V3074H788.3V3068H792.1V3072H795.8V3068H799.6V3069H803.4V3077H807.1V3075H810.9V3074H814.6V3071H818.4V3070H822.2V3073H825.9V3072H829.7V3071H837.2V3069H841V3067H844.7V3068H848.5V3071H852.3V3073H859.8V3072H863.5V3073H867.3V3074H871.1V3075H874.8V3071H878.6V3065H882.4V3067H886.1V3066H889.9V3073H893.6V3087H897.4V3089H901.2V3090H904.9V3098H908.7V3092H912.5V3085H916.2V3075H923.7V3070H927.5V3075H931.3V3077H935V3081H938.8V3076H942.6V3086H946.3V3074H950.1V3070H953.8V3077H957.6V3073H961.4V3072H965.1V3070H968.9V3074H972.7V3078H976.4V3076H980.2V3074H983.9V3078H987.7V3071H991.5V3072H999V3076H1002.7V3101H1006.5V3090H1010.3V3083H1014V3081H1017.8V3078H1021.6V3083H1025.3V3074H1029.1V3097H1032.8V3076H1036.6V3075H1040.4V3074H1044.1V3090H1047.9V3081H1051.7V3072H1055.4V3083H1059.2V3076H1062.9V3073H1066.7V3070H1070.5V3074H1074.2V3076H1078V3086H1081.8V3082H1085.5V3086H1089.3V3087H1096.8V3089H1100.6V3084H1104.3V3078H1111.9V3089H1115.6V3088H1119.4V3086H1123.1V3087H1126.9V3083H1130.7V3079H1138.2V3085H1141.9V3082H1145.7V3083H1149.5V3074H1153.2V3075H1157V3078H1160.8V3084H1164.5V3085H1168.3V3083H1172V3077H1175.8V3079H1179.6V3082H1183.3V3092H1187.1V3087H1190.9V3092H1194.6V3090H1198.4V3088H1202.1V3082H1205.9V3076H1209.7V3072H1217.2V3067H1221V3068H1224.7V3066H1228.5V3069H1232.2V3071H1239.8V3069H1243.5V3071H1247.3V3072H1251.1V3073H1254.8V3071H1258.6V3073H1262.3V3081H1266.1V3068H1273.6V3074H1277.4V3083H1281.1V3072H1288.7V3073H1292.4V3068H1296.2V3070H1300V3071H1303.7V3082H1307.5V3070H1311.2V3069H1315V3072H1318.8V3070H1322.5V3072H1326.3V3067H1330.1V3070H1333.8V3069H1337.6V3071H1341.3V3068H1345.1V3073H1348.9V3077H1352.6V3074H1356.4V3087H1360.2V3070H1363.9V3073H1371.4V3066H1375.2V3082H1379V3070H1386.5V3067H1390.3V3065H1394V3076H1397.8V3070H1401.5V3064H1405.3V3074H1409.1V3071H1416.6V3063H1420.3V3065H1424.1V3082H1427.9V3066H1431.6V3070H1435.4V3069H1439.2V3082H1442.9V3070H1450.4V3073H1454.2V3070H1458V3066H1461.7V3070H1465.5V3069H1469.3V3065H1473V3070H1476.8V3065H1480.5V3064H1484.3V3073H1488.1V3087H1491.8V3102H1495.6V3096H1499.4V3092H1503.1V3088H1506.9V3090H1510.6V3077H1514.4V3065H1518.2V3069H1521.9V3067H1525.7V3070H1529.5V3072H1533.2V3064H1537V3068H1540.7V3066H1544.5V3071H1548.3V3068H1555.8V3066H1559.5V3063H1563.3V3078H1567.1V3066H1570.8V3067H1574.6V3073H1578.4V3072H1582.1V3071H1585.9V3072H1589.6V3066H1593.4V3074H1597.2V3065H1600.9V3068H1604.7V3072H1608.5V3068H1612.2V3073H1616V3070H1619.7V3071H1623.5V3067H1627.3V3071H1631V3070H1634.8V3073H1638.6V3064H1642.3V3067H1646.1V3074H1649.8V3072H1657.4V3068H1661.1V3071H1664.9V3085H1668.7V3071H1672.4V3069H1676.2V3081H1679.9V3067H1683.7V3068H1687.5V3067H1691.2V3073H1695V3067H1698.7V3072H1706.3V3070H1710V3069H1713.8V3072H1717.6V3068H1721.3V3072H1725.1V3076H1728.8V3084H1732.6V3063H1736.4V3065H1740.1V3071H1747.7V3073H1751.4V3072H1755.2V3074H1758.9V3069H1762.7V3076H1766.5V3071H1770.2V3069H1774V3075H1781.5V3072H1785.3V3071H1789V3075H1796.6V3073H1800.3V3075H1804.1V3069H1811.6V3068H1815.4V3067H1819.1V3073H1822.9V3076H1826.7V3065H1830.4V3085H1834.2V3072H1838V3073H1841.7V3079H1845.5V3067H1849.2V3069H1856.8V3085H1860.5V3071H1864.3V3073H1868V3074H1871.8V3068H1875.6V3072H1879.3V3069H1883.1V3066H1886.9V3071H1890.6V3073H1894.4V3083H1898.1V3066H1901.9V3067H1905.7V3069H1909.4V3065H1913.2V3077H1917V3071H1920.7V3073H1924.5V3074H1928.2V3070H1935.8V3085H1939.5V3072H1943.3V3066H1947.1V3073H1950.8V3072H1962.1V3074H1965.9V3070H1969.6V3078H1973.4V3075H1977.2V3065H1980.9V3074H1984.7V3072H1988.4V3069H1992.2V3066H1996V3076H1999.7V3079H2003.5V3078H2007.2V3068H2011V3069H2014.8V3074H2018.5V3075H2026.1V3077H2029.8V3072H2037.3V3065H2041.1V3064H2044.9V3068H2048.6V3067H2052.4V3072H2056.2V3066H2063.7V3069H2067.4V3071H2071.2V3069H2075V3066H2078.7V3072H2082.5V3071H2086.3V3070H2090V3076H2093.8V3074H2097.5V3070H2101.3V3071H2105.1V3065H2108.8V3082H2112.6V3065H2116.4V3064H2120.1V3069H2123.9V3064H2127.6V3069H2131.4V3068H2138.9V3072H2142.7V3069H2146.4V3075H2150.2V3073H2154V3071H2157.7V3067H2161.5V3065H2165.3V3076H2169V3081H2172.8V3082H2176.5V3085H2180.3V3087H2184.1V3081H2187.8V3085H2191.6V3086H2195.4V3077H2199.1V3080H2202.9V3077H2206.6V3070H2214.2V3069H2217.9V3067H2221.7V3065H2225.5V3064H2229.2V3069H2236.7V3068H2240.5V3065H2244.3V3062H2248V3059H2251.8V3057H2255.6V3071H2259.3V3062H2263.1V3059H2266.8V3065H2270.6V3120H2266.8V3118H2263.1V3128H2259.3V3110H2255.6V3123H2248V3111H2244.3V3128H2240.5V3127H2236.7V3126H2233V3124H2229.2V3119H2225.5V3126H2221.7V3125H2217.9V3123H2214.2V3127H2210.4V3114H2206.6V3124H2202.9V3111H2199.1V3115H2195.4V3116H2191.6V3120H2187.8V3132H2184.1V3119H2180.3V3126H2176.5V3120H2172.8V3115H2169V3119H2165.3V3115H2161.5V3124H2157.7V3127H2154V3124H2150.2V3126H2146.4V3122H2142.7V3121H2138.9V3129H2135.2V3128H2131.4V3122H2127.6V3115H2123.9V3127H2120.1V3121H2116.4V3125H2112.6V3123H2108.8V3127H2105.1V3116H2101.3V3115H2097.5V3120H2093.8V3125H2090V3123H2086.3V3113H2082.5V3120H2078.7V3126H2071.2V3125H2067.4V3110H2063.7V3124H2059.9V3126H2056.2V3118H2052.4V3123H2044.9V3118H2041.1V3117H2037.3V3124H2033.6V3128H2029.8V3116H2026.1V3126H2022.3V3122H2018.5V3123H2014.8V3117H2011V3127H2003.5V3122H1999.7V3119H1996V3116H1992.2V3130H1988.4V3121H1984.7V3127H1980.9V3130H1977.2V3126H1973.4V3113H1969.6V3112H1965.9V3113H1962.1V3125H1958.3V3124H1954.6V3128H1950.8V3112H1947.1V3128H1943.3V3119H1939.5V3116H1935.8V3127H1932V3124H1928.2V3116H1924.5V3124H1920.7V3113H1917V3124H1913.2V3111H1909.4V3126H1905.7V3123H1901.9V3117H1898.1V3125H1890.6V3128H1886.9V3132H1883.1V3124H1879.3V3117H1875.6V3125H1871.8V3116H1868V3123H1864.3V3122H1860.5V3119H1856.8V3112H1853V3122H1849.2V3119H1845.5V3126H1841.7V3118H1838V3111H1834.2V3127H1830.4V3114H1826.7V3123H1822.9V3126H1819.1V3109H1815.4V3127H1811.6V3124H1807.9V3126H1804.1V3127H1800.3V3119H1796.6V3121H1792.8V3116H1789V3128H1785.3V3127H1781.5V3130H1777.8V3120H1774V3118H1770.2V3121H1766.5V3118H1758.9V3130H1755.2V3125H1751.4V3115H1747.7V3118H1743.9V3124H1740.1V3126H1736.4V3118H1732.6V3120H1728.8V3125H1725.1V3119H1721.3V3121H1717.6V3125H1713.8V3121H1710V3126H1706.3V3110H1702.5V3120H1698.7V3126H1695V3124H1691.2V3125H1687.5V3127H1683.7V3120H1679.9V3129H1676.2V3114H1672.4V3118H1668.7V3126H1661.1V3116H1653.6V3126H1649.8V3128H1646.1V3115H1642.3V3124H1638.6V3115H1634.8V3128H1631V3120H1627.3V3118H1623.5V3120H1619.7V3127H1616V3126H1612.2V3113H1608.5V3125H1604.7V3127H1600.9V3119H1597.2V3123H1593.4V3129H1589.6V3121H1585.9V3128H1582.1V3121H1578.4V3114H1574.6V3117H1570.8V3112H1567.1V3115H1559.5V3124H1555.8V3120H1552V3122H1548.3V3127H1544.5V3117H1540.7V3126H1537V3124H1533.2V3125H1529.5V3127H1521.9V3126H1518.2V3119H1514.4V3126H1510.6V3124H1506.9V3119H1503.1V3122H1499.4V3123H1495.6V3115H1491.8V3114H1488.1V3126H1484.3V3113H1480.5V3114H1476.8V3115H1473V3114H1469.3V3127H1465.5V3120H1461.7V3126H1458V3113H1454.2V3123H1450.4V3112H1446.7V3117H1442.9V3114H1439.2V3117H1435.4V3112H1431.6V3124H1427.9V3118H1424.1V3121H1420.3V3119H1416.6V3122H1412.8V3114H1409.1V3126H1405.3V3121H1401.5V3125H1397.8V3124H1394V3127H1390.3V3114H1386.5V3125H1382.7V3124H1379V3118H1375.2V3125H1367.7V3122H1363.9V3119H1356.4V3126H1352.6V3108H1348.9V3126H1345.1V3121H1341.3V3127H1337.6V3122H1333.8V3112H1330.1V3126H1322.5V3127H1318.8V3123H1315V3121H1311.2V3125H1307.5V3120H1303.7V3119H1300V3116H1296.2V3127H1292.4V3131H1288.7V3113H1284.9V3123H1281.1V3125H1277.4V3122H1273.6V3127H1269.9V3120H1266.1V3124H1262.3V3127H1258.6V3118H1254.8V3119H1251.1V3126H1247.3V3125H1243.5V3123H1239.8V3125H1236V3116H1232.2V3118H1228.5V3116H1224.7V3128H1221V3119H1217.2V3127H1213.4V3119H1209.7V3123H1205.9V3109H1202.1V3123H1198.4V3127H1194.6V3121H1190.9V3130H1187.1V3119H1183.3V3131H1179.6V3114H1175.8V3128H1172V3124H1168.3V3128H1164.5V3121H1160.8V3126H1157V3119H1153.2V3127H1145.7V3114H1141.9V3119H1138.2V3121H1134.4V3123H1130.7V3126H1126.9V3120H1123.1V3119H1119.4V3120H1115.6V3125H1111.9V3127H1108.1V3122H1104.3V3119H1100.6V3123H1096.8V3120H1093V3126H1089.3V3120H1085.5V3122H1081.8V3114H1078V3127H1074.2V3119H1070.5V3112H1066.7V3127H1062.9V3115H1059.2V3121H1055.4V3115H1051.7V3125H1047.9V3128H1044.1V3124H1040.4V3118H1036.6V3126H1032.8V3124H1029.1V3123H1025.3V3114H1021.6V3115H1017.8V3113H1014V3128H1010.3V3111H1006.5V3120H1002.7V3121H999V3124H995.2V3121H991.5V3111H987.7V3128H980.2V3125H972.7V3126H965.1V3111H961.4V3112H957.6V3126H953.8V3120H950.1V3123H946.3V3114H942.6V3127H938.8V3119H935V3121H931.3V3127H927.5V3126H923.7V3122H920V3128H916.2V3115H912.5V3120H908.7V3122H904.9V3121H901.2V3125H889.9V3119H886.1V3123H882.4V3127H878.6V3116H874.8V3126H871.1V3117H867.3V3115H863.5V3114H859.8V3127H856V3125H852.3V3126H848.5V3110H844.7V3114H841V3128H837.2V3125H829.7V3127H825.9V3117H822.2V3127H818.4V3125H814.6V3116H810.9V3111H807.1V3120H803.4V3127H799.6V3128H795.8V3117H792.1V3125H788.3V3118H784.5V3128H780.8V3123H777V3125H773.3V3122H769.5V3126H765.7V3118H762V3127H758.2V3114H754.4V3124H750.7V3126H746.9V3125H743.2V3121H735.6V3127H731.9V3122H728.1V3117H724.3V3114H720.6V3128H713.1V3123H709.3V3112H705.5V3128H701.8V3117H698V3125H694.2V3120H690.5V3116H686.7V3123H683V3120H679.2V3115H675.4V3119H671.7V3123H667.9V3117H664.2V3125H660.4V3117H656.6V3113H652.9V3116H649.1V3127H641.6V3125H637.8V3129H634.1V3117H630.3V3118H626.5V3124H622.8V3126H619V3125H615.2V3127H611.5V3123H607.7V3122H604V3125H600.2V3120H596.4V3119H588.9V3127H585.1V3114H581.4V3119H577.6V3125H573.9V3122H570.1V3127H566.3V3124H562.6V3113H558.8V3118H555V3125H551.3V3117H547.5V3127H543.8V3124H540V3125H536.2V3110H532.5V3127H528.7V3121H525V3122H521.2V3128H517.4V3115H513.7V3117H509.9V3115H506.1V3121H502.4V3127H498.6V3125H494.9V3112H491.1V3125H487.3V3114H483.6V3127H479.8V3126H476V3117H472.3V3115H468.5V3128H464.8V3126H457.2V3118H453.5V3119H449.7V3114H445.9V3127H442.2V3125H438.4V3126H430.9V3124H427.1V3126H423.4V3115H419.6V3116H415.8V3132H412.1V3121H408.3V3127H404.6V3124H400.8V3121H397V3127H393.3V3120H389.5V3119H385.8V3118H378.2V3125H374.5V3127H370.7V3126H366.9V3127H363.2V3116H359.4V3113H355.7V3127H351.9V3120H348.1V3118H344.4V3119H340.6V3123H336.8V3122H333.1V3126H329.3V3123H325.6V3126H318V3112H314.3V3123H310.5V3124H306.7V3116H303V3119H299.2V3128H295.5V3113H291.7V3123H287.9V3117H284.2V3127H276.6V3119H272.9V3127H269.1V3128H265.4V3123H261.6Z" fill="#ffc8c8"/>
<path d="M261.6 3076H265.4V3072H269.1V3074H272.9V3071H276.6V3072H280.4V3069H284.2V3073H287.9V3068H291.7V3073H295.5V3085H299.2V3072H306.7V3073H310.5V3069H314.3V3077H318V3070H321.8V3075H329.3V3069H333.1V3066H336.8V3067H340.6V3074H344.4V3072H348.1V3070H351.9V3073H355.7V3072H363.2V3076H366.9V3069H370.7V3067H374.5V3070H378.2V3068H385.8V3073H389.5V3070H393.3V3076H397V3072H400.8V3071H408.3V3065H412.1V3069H415.8V3073H419.6V3070H423.4V3069H427.1V3070H430.9V3069H434.7V3072H438.4V3076H445.9V3073H449.7V3071H453.5V3069H457.2V3070H461V3071H464.8V3072H468.5V3071H472.3V3082H476V3071H483.6V3069H487.3V3072H491.1V3075H494.9V3072H498.6V3069H502.4V3070H506.1V3073H509.9V3069H513.7V3070H517.4V3074H521.2V3071H525V3070H528.7V3068H532.5V3070H536.2V3072H540V3068H543.8V3069H547.5V3066H551.3V3070H555V3078H558.8V3074H562.6V3068H566.3V3074H570.1V3080H573.9V3071H577.6V3069H581.4V3072H585.1V3069H588.9V3074H592.7V3070H596.4V3071H600.2V3066H604V3071H607.7V3078H611.5V3070H615.2V3071H634.1V3069H637.8V3065H641.6V3066H645.3V3089H649.1V3072H656.6V3073H660.4V3071H667.9V3066H671.7V3069H675.4V3073H679.2V3068H683V3072H686.7V3073H690.5V3071H694.2V3072H698V3068H701.8V3067H705.5V3071H709.3V3070H713.1V3068H716.8V3082H720.6V3072H724.3V3067H728.1V3075H731.9V3072H735.6V3073H743.2V3068H746.9V3069H750.7V3075H754.4V3070H758.2V3071H765.7V3068H769.5V3072H773.3V3064H777V3074H780.8V3066H784.5V3075H788.3V3070H792.1V3074H795.8V3070H799.6V3072H803.4V3079H807.1V3076H810.9V3075H814.6V3073H818.4V3072H822.2V3074H825.9V3072H829.7V3074H833.5V3073H837.2V3070H841V3069H848.5V3072H852.3V3075H856V3073H859.8V3074H863.5V3075H867.3V3074H871.1V3075H874.8V3072H878.6V3066H882.4V3069H886.1V3068H889.9V3074H893.6V3089H897.4V3091H901.2V3092H904.9V3100H908.7V3093H912.5V3087H916.2V3077H923.7V3072H927.5V3078H931.3V3079H935V3081H938.8V3078H942.6V3087H946.3V3075H950.1V3071H953.8V3079H957.6V3076H961.4V3074H965.1V3071H968.9V3075H972.7V3078H980.2V3076H983.9V3078H987.7V3073H991.5V3074H999V3077H1002.7V3102H1006.5V3091H1010.3V3085H1014V3081H1017.8V3080H1021.6V3083H1025.3V3077H1029.1V3098H1032.8V3077H1036.6V3078H1040.4V3077H1044.1V3091H1047.9V3082H1051.7V3074H1055.4V3084H1059.2V3077H1062.9V3074H1066.7V3072H1070.5V3076H1074.2V3078H1078V3087H1081.8V3084H1085.5V3087H1089.3V3089H1096.8V3091H1100.6V3085H1104.3V3080H1111.9V3089H1119.4V3088H1123.1V3089H1126.9V3085H1130.7V3081H1138.2V3087H1141.9V3083H1145.7V3085H1149.5V3076H1153.2V3077H1157V3079H1160.8V3085H1164.5V3087H1168.3V3085H1172V3078H1175.8V3080H1179.6V3084H1183.3V3093H1187.1V3088H1190.9V3093H1194.6V3092H1198.4V3090H1202.1V3084H1205.9V3077H1209.7V3074H1213.4V3075H1217.2V3069H1228.5V3072H1232.2V3073H1236V3072H1239.8V3070H1243.5V3072H1251.1V3075H1254.8V3072H1258.6V3075H1262.3V3084H1266.1V3070H1273.6V3076H1277.4V3085H1281.1V3074H1284.9V3073H1288.7V3074H1292.4V3070H1296.2V3073H1303.7V3084H1307.5V3072H1311.2V3071H1315V3073H1322.5V3075H1326.3V3070H1330.1V3072H1337.6V3074H1341.3V3069H1345.1V3074H1348.9V3077H1356.4V3089H1360.2V3072H1363.9V3075H1367.7V3074H1371.4V3069H1375.2V3084H1379V3072H1386.5V3070H1390.3V3067H1394V3078H1397.8V3072H1401.5V3067H1405.3V3076H1409.1V3072H1416.6V3065H1420.3V3067H1424.1V3083H1427.9V3068H1431.6V3072H1435.4V3070H1439.2V3083H1442.9V3072H1446.7V3071H1450.4V3074H1454.2V3072H1458V3068H1461.7V3071H1465.5V3070H1469.3V3067H1473V3072H1476.8V3067H1480.5V3065H1484.3V3074H1488.1V3088H1491.8V3103H1495.6V3097H1499.4V3093H1503.1V3091H1510.6V3080H1514.4V3067H1518.2V3070H1521.9V3068H1525.7V3071H1529.5V3073H1533.2V3065H1537V3069H1544.5V3072H1548.3V3070H1555.8V3067H1559.5V3065H1563.3V3080H1567.1V3068H1574.6V3074H1578.4V3072H1582.1V3073H1589.6V3068H1593.4V3074H1597.2V3067H1600.9V3069H1604.7V3073H1608.5V3069H1612.2V3073H1616V3071H1619.7V3072H1623.5V3068H1627.3V3074H1631V3072H1634.8V3075H1638.6V3067H1642.3V3069H1646.1V3074H1653.6V3075H1657.4V3071H1661.1V3072H1664.9V3088H1668.7V3072H1672.4V3071H1676.2V3084H1679.9V3069H1687.5V3068H1691.2V3076H1695V3068H1698.7V3074H1706.3V3071H1710V3070H1713.8V3074H1717.6V3071H1721.3V3073H1725.1V3078H1728.8V3085H1732.6V3064H1736.4V3067H1740.1V3072H1743.9V3073H1747.7V3076H1751.4V3074H1755.2V3075H1758.9V3071H1762.7V3077H1766.5V3073H1770.2V3072H1774V3076H1777.8V3075H1781.5V3073H1789V3075H1792.8V3076H1796.6V3074H1800.3V3077H1804.1V3070H1815.4V3069H1819.1V3074H1822.9V3076H1826.7V3068H1830.4V3086H1834.2V3073H1838V3075H1841.7V3081H1845.5V3070H1849.2V3071H1853V3072H1856.8V3086H1860.5V3073H1864.3V3075H1871.8V3070H1875.6V3074H1879.3V3071H1883.1V3069H1886.9V3074H1894.4V3085H1898.1V3067H1901.9V3069H1905.7V3071H1909.4V3067H1913.2V3079H1917V3073H1920.7V3074H1924.5V3075H1928.2V3073H1932V3072H1935.8V3088H1939.5V3073H1943.3V3068H1947.1V3074H1962.1V3075H1965.9V3071H1969.6V3079H1973.4V3076H1977.2V3066H1980.9V3076H1984.7V3074H1988.4V3072H1992.2V3067H1996V3078H1999.7V3081H2003.5V3080H2007.2V3070H2014.8V3075H2018.5V3076H2026.1V3079H2029.8V3074H2033.6V3073H2037.3V3067H2041.1V3065H2044.9V3071H2048.6V3069H2052.4V3073H2056.2V3067H2059.9V3068H2063.7V3071H2067.4V3072H2071.2V3071H2075V3067H2078.7V3074H2082.5V3072H2090V3077H2093.8V3076H2097.5V3072H2101.3V3073H2105.1V3067H2108.8V3084H2112.6V3067H2116.4V3066H2120.1V3071H2123.9V3067H2127.6V3070H2131.4V3071H2135.2V3070H2138.9V3074H2142.7V3071H2146.4V3076H2150.2V3074H2154V3072H2157.7V3068H2161.5V3066H2165.3V3077H2169V3082H2172.8V3085H2176.5V3086H2180.3V3089H2184.1V3083H2187.8V3086H2191.6V3087H2195.4V3079H2199.1V3081H2202.9V3080H2206.6V3072H2210.4V3071H2214.2V3069H2221.7V3067H2225.5V3065H2229.2V3071H2236.7V3070H2240.5V3065H2248V3061H2251.8V3058H2255.6V3072H2259.3V3063H2263.1V3061H2266.8V3067H2270.6V3119H2266.8V3116H2263.1V3126H2259.3V3109H2255.6V3120H2251.8V3122H2248V3109H2244.3V3126H2240.5V3125H2236.7V3124H2233V3123H2229.2V3116H2225.5V3125H2221.7V3124H2217.9V3120H2214.2V3125H2210.4V3112H2206.6V3122H2202.9V3109H2199.1V3113H2191.6V3118H2187.8V3129H2184.1V3116H2180.3V3124H2176.5V3119H2172.8V3112H2169V3117H2165.3V3113H2161.5V3121H2157.7V3126H2154V3123H2150.2V3125H2146.4V3121H2142.7V3118H2138.9V3127H2135.2V3126H2131.4V3120H2127.6V3113H2123.9V3125H2120.1V3119H2116.4V3123H2112.6V3121H2108.8V3126H2105.1V3113H2101.3V3112H2097.5V3117H2093.8V3123H2090V3121H2086.3V3111H2082.5V3117H2078.7V3125H2075V3124H2067.4V3107H2063.7V3122H2059.9V3124H2056.2V3115H2052.4V3122H2048.6V3121H2044.9V3116H2037.3V3121H2033.6V3127H2029.8V3114H2026.1V3123H2022.3V3121H2014.8V3115H2011V3125H2007.2V3126H2003.5V3120H1999.7V3118H1996V3114H1992.2V3128H1988.4V3120H1984.7V3126H1980.9V3129H1977.2V3124H1973.4V3111H1965.9V3110H1962.1V3123H1958.3V3122H1954.6V3125H1950.8V3111H1947.1V3126H1943.3V3117H1939.5V3115H1935.8V3125H1932V3123H1928.2V3114H1924.5V3123H1920.7V3110H1917V3121H1913.2V3109H1909.4V3123H1905.7V3122H1901.9V3115H1898.1V3122H1894.4V3124H1890.6V3126H1886.9V3130H1883.1V3123H1879.3V3115H1875.6V3124H1871.8V3115H1868V3122H1864.3V3120H1860.5V3118H1856.8V3110H1853V3119H1849.2V3117H1845.5V3124H1841.7V3115H1838V3109H1834.2V3126H1830.4V3113H1826.7V3122H1822.9V3124H1819.1V3107H1815.4V3125H1811.6V3123H1807.9V3124H1800.3V3117H1796.6V3120H1792.8V3115H1789V3126H1785.3V3125H1781.5V3128H1777.8V3118H1774V3117H1770.2V3118H1766.5V3117H1758.9V3128H1755.2V3123H1751.4V3113H1747.7V3116H1743.9V3122H1740.1V3124H1736.4V3115H1732.6V3118H1728.8V3123H1725.1V3117H1721.3V3120H1717.6V3124H1713.8V3120H1710V3123H1706.3V3108H1702.5V3118H1698.7V3124H1695V3121H1691.2V3124H1687.5V3126H1683.7V3119H1679.9V3127H1676.2V3112H1672.4V3117H1668.7V3124H1661.1V3113H1657.4V3114H1653.6V3124H1649.8V3127H1646.1V3113H1642.3V3122H1638.6V3112H1634.8V3126H1631V3118H1627.3V3116H1623.5V3118H1619.7V3126H1616V3125H1612.2V3110H1608.5V3123H1604.7V3124H1600.9V3118H1597.2V3121H1593.4V3127H1589.6V3119H1585.9V3125H1582.1V3119H1578.4V3112H1574.6V3115H1570.8V3109H1567.1V3114H1559.5V3122H1555.8V3117H1552V3120H1548.3V3125H1544.5V3114H1540.7V3123H1537V3122H1529.5V3124H1525.7V3126H1521.9V3124H1518.2V3118H1514.4V3123H1506.9V3117H1503.1V3120H1495.6V3113H1488.1V3125H1484.3V3110H1480.5V3112H1473V3113H1469.3V3126H1465.5V3117H1461.7V3125H1458V3112H1454.2V3121H1450.4V3111H1446.7V3116H1442.9V3113H1439.2V3114H1435.4V3110H1431.6V3122H1427.9V3116H1424.1V3118H1420.3V3116H1416.6V3121H1412.8V3113H1409.1V3124H1405.3V3120H1401.5V3123H1397.8V3122H1394V3126H1390.3V3112H1386.5V3123H1379V3117H1375.2V3124H1367.7V3121H1363.9V3117H1360.2V3118H1356.4V3124H1352.6V3106H1348.9V3124H1345.1V3118H1341.3V3126H1337.6V3119H1333.8V3110H1330.1V3124H1322.5V3126H1318.8V3121H1315V3118H1311.2V3123H1307.5V3118H1303.7V3117H1300V3115H1296.2V3125H1292.4V3130H1288.7V3111H1284.9V3120H1281.1V3124H1277.4V3121H1273.6V3124H1269.9V3118H1266.1V3121H1262.3V3125H1258.6V3115H1254.8V3117H1251.1V3125H1247.3V3123H1243.5V3122H1239.8V3123H1236V3114H1232.2V3115H1228.5V3113H1224.7V3126H1221V3117H1217.2V3125H1213.4V3117H1209.7V3122H1205.9V3107H1202.1V3121H1198.4V3126H1194.6V3119H1190.9V3127H1187.1V3117H1183.3V3130H1179.6V3113H1175.8V3125H1172V3122H1168.3V3126H1164.5V3118H1160.8V3125H1157V3118H1153.2V3126H1149.5V3125H1145.7V3113H1141.9V3117H1138.2V3118H1134.4V3122H1130.7V3125H1126.9V3118H1123.1V3117H1115.6V3123H1111.9V3126H1108.1V3120H1104.3V3117H1100.6V3121H1096.8V3117H1093V3124H1089.3V3118H1085.5V3119H1081.8V3113H1078V3124H1074.2V3118H1070.5V3110H1066.7V3126H1062.9V3113H1059.2V3120H1055.4V3114H1051.7V3124H1047.9V3126H1044.1V3122H1040.4V3116H1036.6V3123H1032.8V3121H1025.3V3112H1021.6V3113H1017.8V3112H1014V3127H1010.3V3110H1006.5V3118H999V3123H995.2V3118H991.5V3109H987.7V3127H980.2V3122H976.4V3123H972.7V3124H968.9V3123H965.1V3109H957.6V3124H953.8V3118H950.1V3120H946.3V3112H942.6V3124H938.8V3117H935V3120H931.3V3125H927.5V3124H923.7V3119H920V3125H916.2V3113H912.5V3119H901.2V3122H893.6V3123H889.9V3118H886.1V3120H882.4V3125H878.6V3115H874.8V3123H871.1V3115H867.3V3113H863.5V3111H859.8V3125H856V3123H852.3V3124H848.5V3107H844.7V3111H841V3126H837.2V3123H833.5V3124H825.9V3115H822.2V3124H814.6V3114H810.9V3109H807.1V3118H803.4V3125H799.6V3127H795.8V3115H792.1V3124H788.3V3116H784.5V3126H780.8V3121H777V3124H773.3V3119H769.5V3124H765.7V3117H762V3126H758.2V3112H754.4V3122H750.7V3125H746.9V3123H743.2V3119H735.6V3124H731.9V3121H728.1V3114H724.3V3111H720.6V3126H713.1V3121H709.3V3110H705.5V3126H701.8V3116H698V3122H694.2V3118H690.5V3114H686.7V3120H683V3118H679.2V3113H675.4V3117H671.7V3121H667.9V3115H664.2V3124H660.4V3116H656.6V3111H652.9V3114H649.1V3125H645.3V3126H641.6V3122H637.8V3127H634.1V3116H626.5V3122H622.8V3124H619V3123H615.2V3125H611.5V3121H607.7V3120H604V3123H600.2V3118H596.4V3116H588.9V3126H585.1V3112H581.4V3117H577.6V3123H573.9V3119H570.1V3124H566.3V3122H562.6V3111H558.8V3116H555V3122H551.3V3116H547.5V3126H543.8V3122H540V3123H536.2V3108H532.5V3125H528.7V3119H525V3121H521.2V3126H517.4V3113H513.7V3115H509.9V3113H506.1V3119H502.4V3125H498.6V3124H494.9V3110H491.1V3123H487.3V3112H483.6V3126H479.8V3124H476V3115H472.3V3114H468.5V3126H464.8V3123H461V3124H457.2V3117H453.5V3116H449.7V3112H445.9V3125H442.2V3123H434.7V3124H430.9V3121H427.1V3125H423.4V3112H419.6V3113H415.8V3129H412.1V3120H408.3V3125H404.6V3122H400.8V3119H397V3125H393.3V3118H385.8V3117H382V3116H378.2V3124H374.5V3125H370.7V3124H366.9V3125H363.2V3115H359.4V3111H355.7V3124H351.9V3118H348.1V3116H340.6V3120H336.8V3121H333.1V3123H329.3V3121H325.6V3123H321.8V3124H318V3110H314.3V3121H310.5V3123H306.7V3114H303V3117H299.2V3127H295.5V3110H291.7V3122H287.9V3115H284.2V3126H276.6V3117H272.9V3126H265.4V3121H261.6Z" fill="#ff7474"/>
<path d="M261.6 3078H265.4V3075H269.1V3077H272.9V3072H276.6V3075H280.4V3073H284.2V3075H287.9V3071H291.7V3077H295.5V3086H299.2V3076H303V3072H306.7V3073H310.5V3074H314.3V3077H318V3072H321.8V3076H325.6V3075H329.3V3069H333.1V3071H336.8V3072H340.6V3074H348.1V3072H351.9V3073H355.7V3072H363.2V3076H366.9V3072H370.7V3071H374.5V3072H382V3073H393.3V3076H397V3073H404.6V3072H408.3V3069H412.1V3072H415.8V3073H419.6V3070H423.4V3072H427.1V3070H430.9V3071H434.7V3072H438.4V3076H445.9V3073H449.7V3074H453.5V3069H457.2V3074H464.8V3075H468.5V3071H472.3V3082H476V3071H479.8V3074H483.6V3072H491.1V3076H494.9V3075H498.6V3072H506.1V3074H509.9V3069H513.7V3070H517.4V3074H525V3071H532.5V3073H536.2V3072H540V3069H543.8V3070H547.5V3068H551.3V3073H555V3082H558.8V3074H562.6V3070H566.3V3074H570.1V3082H573.9V3071H577.6V3069H581.4V3072H585.1V3073H588.9V3075H592.7V3072H596.4V3073H600.2V3070H604V3071H607.7V3080H611.5V3070H615.2V3075H619V3072H622.8V3071H626.5V3072H630.3V3074H634.1V3073H637.8V3069H641.6V3071H645.3V3089H649.1V3072H652.9V3073H660.4V3071H664.2V3074H667.9V3071H671.7V3072H675.4V3073H683V3076H686.7V3075H690.5V3074H694.2V3073H698V3068H701.8V3071H709.3V3074H713.1V3070H716.8V3084H720.6V3075H724.3V3072H728.1V3075H731.9V3073H746.9V3069H750.7V3075H754.4V3074H762V3071H765.7V3073H769.5V3074H773.3V3068H777V3074H780.8V3069H784.5V3075H788.3V3070H792.1V3074H795.8V3070H799.6V3072H803.4V3079H807.1V3076H810.9V3075H814.6V3074H818.4V3072H822.2V3074H825.9V3072H829.7V3075H833.5V3073H837.2V3070H841V3073H844.7V3069H848.5V3076H852.3V3075H856V3073H859.8V3075H867.3V3074H871.1V3075H874.8V3072H878.6V3070H886.1V3071H889.9V3075H893.6V3089H897.4V3095H901.2V3097H904.9V3100H908.7V3098H912.5V3087H916.2V3077H920V3080H923.7V3074H927.5V3079H931.3V3083H935V3081H938.8V3082H942.6V3090H946.3V3080H950.1V3076H953.8V3080H957.6V3077H961.4V3078H965.1V3076H968.9V3075H972.7V3078H980.2V3076H983.9V3078H987.7V3076H991.5V3079H995.2V3076H999V3078H1002.7V3102H1006.5V3091H1010.3V3087H1014V3081H1017.8V3082H1021.6V3083H1025.3V3080H1029.1V3099H1032.8V3080H1044.1V3091H1047.9V3082H1051.7V3077H1055.4V3084H1059.2V3077H1062.9V3076H1066.7V3074H1070.5V3078H1074.2V3079H1078V3087H1081.8V3088H1085.5V3090H1089.3V3094H1093V3091H1096.8V3094H1100.6V3085H1104.3V3082H1108.1V3080H1111.9V3089H1115.6V3095H1119.4V3092H1123.1V3089H1126.9V3088H1130.7V3084H1134.4V3081H1138.2V3087H1141.9V3088H1145.7V3086H1149.5V3077H1153.2V3081H1160.8V3088H1164.5V3087H1168.3V3089H1172V3083H1175.8V3082H1179.6V3088H1183.3V3098H1187.1V3093H1194.6V3094H1198.4V3092H1202.1V3085H1205.9V3079H1209.7V3075H1213.4V3076H1217.2V3072H1221V3074H1224.7V3072H1228.5V3074H1232.2V3076H1236V3072H1251.1V3075H1258.6V3076H1262.3V3085H1266.1V3074H1269.9V3073H1273.6V3076H1277.4V3085H1281.1V3076H1288.7V3075H1292.4V3074H1296.2V3075H1300V3073H1303.7V3084H1307.5V3075H1311.2V3074H1315V3075H1322.5V3077H1326.3V3071H1330.1V3072H1337.6V3076H1341.3V3074H1345.1V3076H1348.9V3077H1356.4V3092H1360.2V3074H1363.9V3075H1367.7V3077H1371.4V3072H1375.2V3084H1379V3076H1382.7V3073H1386.5V3070H1390.3V3072H1394V3079H1397.8V3072H1401.5V3070H1405.3V3076H1409.1V3072H1416.6V3069H1420.3V3071H1424.1V3084H1427.9V3070H1431.6V3074H1435.4V3075H1439.2V3083H1442.9V3072H1446.7V3071H1450.4V3074H1458V3070H1461.7V3072H1465.5V3070H1469.3V3072H1476.8V3071H1480.5V3070H1484.3V3078H1488.1V3089H1491.8V3104H1495.6V3097H1503.1V3093H1506.9V3094H1510.6V3082H1514.4V3068H1518.2V3073H1521.9V3068H1525.7V3074H1529.5V3073H1533.2V3069H1537V3070H1540.7V3073H1548.3V3074H1552V3072H1555.8V3069H1563.3V3083H1567.1V3073H1570.8V3070H1574.6V3074H1578.4V3072H1582.1V3075H1585.9V3073H1593.4V3074H1597.2V3071H1600.9V3074H1604.7V3076H1608.5V3075H1612.2V3073H1616V3074H1619.7V3075H1623.5V3071H1627.3V3076H1631V3073H1634.8V3076H1638.6V3071H1642.3V3073H1646.1V3074H1653.6V3075H1657.4V3071H1661.1V3072H1664.9V3089H1668.7V3072H1672.4V3075H1676.2V3087H1679.9V3069H1683.7V3073H1687.5V3071H1691.2V3076H1695V3071H1698.7V3074H1702.5V3075H1710V3072H1713.8V3074H1717.6V3072H1721.3V3073H1725.1V3078H1728.8V3087H1732.6V3070H1740.1V3076H1743.9V3077H1751.4V3078H1755.2V3075H1758.9V3076H1762.7V3077H1766.5V3073H1770.2V3076H1777.8V3075H1785.3V3073H1789V3075H1792.8V3076H1796.6V3075H1800.3V3077H1804.1V3076H1807.9V3070H1811.6V3074H1815.4V3070H1819.1V3074H1822.9V3076H1826.7V3071H1830.4V3087H1834.2V3073H1838V3076H1841.7V3086H1845.5V3070H1849.2V3071H1853V3074H1856.8V3089H1860.5V3076H1864.3V3075H1868V3078H1871.8V3074H1875.6V3076H1879.3V3071H1883.1V3072H1886.9V3075H1890.6V3077H1894.4V3085H1898.1V3072H1905.7V3075H1909.4V3072H1913.2V3079H1917V3073H1920.7V3075H1928.2V3073H1935.8V3090H1939.5V3073H1943.3V3072H1947.1V3075H1954.6V3078H1958.3V3076H1962.1V3075H1965.9V3074H1969.6V3079H1973.4V3076H1977.2V3071H1980.9V3077H1984.7V3076H1988.4V3072H1992.2V3070H1996V3078H1999.7V3085H2003.5V3080H2007.2V3075H2011V3071H2014.8V3075H2018.5V3076H2022.3V3079H2026.1V3081H2029.8V3078H2033.6V3073H2037.3V3071H2041.1V3069H2044.9V3075H2048.6V3070H2052.4V3073H2056.2V3071H2059.9V3072H2063.7V3071H2067.4V3072H2071.2V3071H2078.7V3075H2086.3V3073H2090V3077H2097.5V3073H2105.1V3071H2108.8V3088H2112.6V3069H2116.4V3071H2120.1V3076H2123.9V3071H2127.6V3074H2131.4V3072H2135.2V3070H2138.9V3074H2142.7V3073H2146.4V3076H2150.2V3074H2154V3073H2157.7V3071H2161.5V3072H2165.3V3079H2169V3082H2172.8V3085H2176.5V3086H2180.3V3089H2184.1V3086H2191.6V3087H2195.4V3081H2202.9V3082H2206.6V3076H2210.4V3077H2214.2V3069H2217.9V3072H2221.7V3070H2225.5V3067H2229.2V3071H2233V3072H2236.7V3070H2240.5V3065H2244.3V3068H2248V3064H2251.8V3063H2255.6V3072H2259.3V3066H2263.1V3065H2266.8V3068H2270.6V3107H2266.8V3112H2263.1V3126H2259.3V3108H2255.6V3112H2251.8V3105H2248V3106H2244.3V3126H2240.5V3110H2236.7V3116H2233V3123H2229.2V3109H2221.7V3123H2217.9V3112H2214.2V3125H2210.4V3111H2206.6V3107H2202.9V3106H2199.1V3111H2195.4V3112H2191.6V3115H2187.8V3126H2184.1V3110H2180.3V3124H2176.5V3111H2172.8V3112H2169V3108H2165.3V3111H2161.5V3112H2157.7V3107H2154V3121H2150.2V3108H2146.4V3121H2142.7V3111H2138.9V3125H2135.2V3126H2131.4V3111H2123.9V3121H2120.1V3115H2116.4V3114H2112.6V3121H2108.8V3126H2105.1V3113H2101.3V3111H2097.5V3106H2093.8V3115H2090V3108H2086.3V3109H2082.5V3110H2078.7V3124H2071.2V3105H2067.4V3106H2063.7V3113H2059.9V3109H2056.2V3113H2052.4V3122H2048.6V3111H2044.9V3116H2041.1V3113H2037.3V3114H2033.6V3127H2029.8V3111H2026.1V3110H2022.3V3109H2018.5V3112H2011V3115H2007.2V3126H2003.5V3107H1999.7V3109H1996V3112H1992.2V3126H1988.4V3112H1984.7V3126H1977.2V3111H1973.4V3109H1969.6V3110H1965.9V3107H1962.1V3106H1958.3V3108H1954.6V3123H1950.8V3109H1947.1V3126H1943.3V3113H1939.5V3112H1935.8V3125H1932V3112H1924.5V3110H1917V3112H1913.2V3107H1909.4V3113H1905.7V3122H1901.9V3112H1898.1V3109H1894.4V3124H1890.6V3126H1883.1V3122H1879.3V3113H1875.6V3114H1871.8V3111H1868V3121H1864.3V3106H1860.5V3114H1856.8V3110H1853V3108H1849.2V3111H1845.5V3123H1841.7V3112H1838V3108H1834.2V3110H1826.7V3122H1822.9V3124H1819.1V3106H1815.4V3113H1811.6V3108H1807.9V3123H1804.1V3109H1800.3V3113H1792.8V3114H1789V3126H1785.3V3114H1781.5V3126H1777.8V3115H1770.2V3114H1766.5V3111H1762.7V3115H1758.9V3126H1755.2V3121H1751.4V3111H1747.7V3114H1743.9V3110H1740.1V3115H1732.6V3109H1728.8V3107H1725.1V3109H1721.3V3110H1717.6V3121H1713.8V3110H1710V3112H1706.3V3107H1702.5V3106H1698.7V3111H1695V3114H1691.2V3107H1687.5V3121H1683.7V3113H1679.9V3126H1676.2V3111H1668.7V3124H1664.9V3111H1657.4V3112H1653.6V3124H1649.8V3127H1646.1V3110H1642.3V3122H1638.6V3111H1634.8V3126H1631V3111H1627.3V3109H1623.5V3113H1619.7V3112H1616V3114H1612.2V3110H1608.5V3106H1604.7V3108H1600.9V3114H1597.2V3109H1593.4V3125H1589.6V3111H1585.9V3124H1582.1V3113H1578.4V3111H1574.6V3114H1570.8V3107H1567.1V3111H1563.3V3112H1559.5V3122H1555.8V3111H1552V3110H1548.3V3125H1544.5V3111H1540.7V3116H1537V3114H1529.5V3123H1525.7V3112H1521.9V3115H1514.4V3112H1510.6V3123H1506.9V3108H1503.1V3114H1499.4V3112H1495.6V3110H1491.8V3112H1488.1V3125H1484.3V3110H1480.5V3111H1476.8V3110H1473V3111H1469.3V3126H1465.5V3109H1461.7V3122H1458V3110H1454.2V3109H1450.4V3106H1446.7V3112H1435.4V3110H1431.6V3109H1427.9V3115H1424.1V3114H1420.3V3113H1416.6V3110H1409.1V3114H1405.3V3113H1401.5V3110H1397.8V3113H1394V3126H1390.3V3109H1386.5V3108H1382.7V3110H1379V3116H1375.2V3124H1371.4V3121H1363.9V3112H1360.2V3113H1356.4V3112H1352.6V3106H1348.9V3114H1345.1V3110H1341.3V3126H1337.6V3109H1333.8V3108H1330.1V3123H1326.3V3116H1322.5V3126H1318.8V3113H1315V3111H1307.5V3107H1303.7V3115H1300V3111H1296.2V3124H1292.4V3126H1288.7V3109H1284.9V3112H1281.1V3115H1277.4V3109H1273.6V3115H1269.9V3116H1266.1V3115H1262.3V3124H1258.6V3112H1251.1V3108H1247.3V3115H1243.5V3113H1239.8V3123H1236V3111H1232.2V3112H1224.7V3126H1221V3110H1217.2V3114H1213.4V3108H1209.7V3112H1205.9V3107H1202.1V3111H1198.4V3114H1194.6V3113H1190.9V3126H1187.1V3114H1183.3V3125H1179.6V3111H1175.8V3123H1172V3113H1168.3V3126H1164.5V3110H1160.8V3122H1157V3113H1153.2V3107H1149.5V3109H1145.7V3110H1141.9V3113H1138.2V3108H1134.4V3110H1130.7V3109H1126.9V3114H1123.1V3108H1119.4V3112H1115.6V3110H1111.9V3126H1108.1V3110H1100.6V3108H1096.8V3111H1093V3124H1089.3V3116H1081.8V3110H1078V3123H1074.2V3114H1070.5V3110H1066.7V3126H1062.9V3110H1059.2V3113H1055.4V3111H1051.7V3122H1047.9V3123H1044.1V3122H1040.4V3113H1036.6V3123H1032.8V3113H1029.1V3107H1025.3V3110H1021.6V3112H1017.8V3110H1014V3125H1010.3V3108H1006.5V3115H1002.7V3111H999V3121H995.2V3108H991.5V3107H987.7V3126H980.2V3113H976.4V3123H972.7V3110H968.9V3108H965.1V3107H961.4V3109H957.6V3112H953.8V3115H950.1V3114H946.3V3111H938.8V3110H935V3109H931.3V3125H927.5V3124H923.7V3111H920V3124H916.2V3112H912.5V3109H908.7V3112H901.2V3114H893.6V3110H886.1V3114H882.4V3125H878.6V3112H874.8V3114H871.1V3112H867.3V3110H863.5V3109H859.8V3108H856V3121H852.3V3109H848.5V3106H844.7V3110H841V3125H837.2V3123H833.5V3122H825.9V3113H822.2V3106H818.4V3107H814.6V3110H810.9V3108H807.1V3106H803.4V3114H799.6V3126H795.8V3115H792.1V3110H788.3V3113H784.5V3126H780.8V3121H777V3124H773.3V3111H765.7V3113H762V3126H758.2V3112H754.4V3122H750.7V3111H746.9V3114H743.2V3111H739.4V3106H735.6V3108H731.9V3111H728.1V3113H724.3V3111H720.6V3126H713.1V3114H709.3V3107H705.5V3126H701.8V3113H698V3122H694.2V3111H686.7V3113H683V3115H679.2V3112H675.4V3116H671.7V3121H667.9V3111H664.2V3112H660.4V3113H656.6V3110H652.9V3112H649.1V3125H645.3V3126H641.6V3109H637.8V3125H634.1V3115H630.3V3113H626.5V3111H619V3116H615.2V3125H611.5V3113H607.7V3112H604V3116H600.2V3111H596.4V3110H592.7V3114H588.9V3124H585.1V3108H581.4V3115H577.6V3122H573.9V3114H570.1V3123H566.3V3122H562.6V3109H558.8V3113H555V3111H551.3V3112H547.5V3126H543.8V3111H540V3107H536.2V3108H532.5V3110H528.7V3112H525V3110H521.2V3126H517.4V3112H513.7V3114H509.9V3112H506.1V3110H502.4V3125H498.6V3124H494.9V3109H491.1V3123H487.3V3109H483.6V3113H479.8V3121H476V3113H472.3V3110H468.5V3126H464.8V3122H461V3124H457.2V3111H453.5V3114H449.7V3112H445.9V3125H442.2V3123H438.4V3111H434.7V3110H430.9V3109H427.1V3125H423.4V3112H419.6V3113H415.8V3126H412.1V3115H408.3V3113H404.6V3116H400.8V3110H397V3124H393.3V3112H385.8V3115H382V3114H378.2V3111H374.5V3121H370.7V3112H366.9V3109H363.2V3112H359.4V3111H355.7V3124H351.9V3111H348.1V3113H344.4V3109H340.6V3110H336.8V3112H333.1V3109H329.3V3110H325.6V3123H321.8V3108H314.3V3114H310.5V3110H306.7V3114H299.2V3124H295.5V3110H291.7V3117H287.9V3115H284.2V3125H276.6V3112H272.9V3126H265.4V3114H261.6Z" fill="#ff0000"/>
</g>
</g>
<g class="soft">
<g class="panel">
<rect class="frame" x="239.4" y="91.5" width="1999.1" height="1401.5"/>
<path class="maj" d="M239.4 88v46M239.4 1496.5v-46M639.2 88v46M639.2 1496.5v-46M1039 88v46M1039 1496.5v-46M1438.9 88v46M1438.9 1496.5v-46M1838.7 88v46M1838.7 1496.5v-46M2238.5 88v46M2238.5 1496.5v-46M232.4 1426.4h47.5M2243 1426.4h-50M232.4 1292.9h47.5M2243 1292.9h-50M232.4 1159.4h47.5M2243 1159.4h-50M232.4 1025.9h47.5M2243 1025.9h-50M232.4 892.4h47.5M2243 892.4h-50M232.4 758.9h47.5M2243 758.9h-50M232.4 625.4h47.5M2243 625.4h-50M232.4 491.9h47.5M2243 491.9h-50M232.4 358.4h47.5M2243 358.4h-50M232.4 224.9h47.5M2243 224.9h-50M232.4 91.4h47.5M2243 91.4h-50"/>
<path class="mnr" d="M439.3 89.5v26M439.3 1495v-26M839.1 89.5v26M839.1 1495v-26M1239 89.5v26M1239 1495v-26M1638.8 89.5v26M1638.8 1495v-26M2038.6 89.5v26M2038.6 1495v-26M235.9 1359.7h26M2242 1359.7h-26M235.9 1226.2h26M2242 1226.2h-26M235.9 1092.7h26M2242 1092.7h-26M235.9 959.2h26M2242 959.2h-26M235.9 825.7h26M2242 825.7h-26M235.9 692.2h26M2242 692.2h-26M235.9 558.7h26M2242 558.7h-26M235.9 425.2h26M2242 425.2h-26M235.9 291.7h26M2242 291.7h-26M235.9 158.2h26M2242 158.2h-26"/>
<g class="tl">
<text transform="translate(222.4 1452.9) scale(0.97 1)" text-anchor="end">0</text>
<text transform="translate(222.4 1319.4) scale(0.97 1)" text-anchor="end">1</text>
<text transform="translate(222.4 1185.9) scale(0.97 1)" text-anchor="end">2</text>
<text transform="translate(222.4 1052.4) scale(0.97 1)" text-anchor="end">3</text>
<text transform="translate(222.4 918.9) scale(0.97 1)" text-anchor="end">4</text>
<text transform="translate(222.4 785.4) scale(0.97 1)" text-anchor="end">5</text>
<text transform="translate(222.4 651.9) scale(0.97 1)" text-anchor="end">6</text>
<text transform="translate(222.4 518.4) scale(0.97 1)" text-anchor="end">7</text>
<text transform="translate(222.4 384.9) scale(0.97 1)" text-anchor="end">8</text>
<text transform="translate(222.4 251.4) scale(0.97 1)" text-anchor="end">9</text>
<text transform="translate(222.4 117.9) scale(0.9021 1)" text-anchor="end">10</text>
<text transform="translate(241.9 1563.5) scale(0.97 1)" text-anchor="middle">0</text>
<text transform="translate(641.7 1563.5) scale(0.97 1)" text-anchor="middle">200</text>
<text transform="translate(1041.5 1563.5) scale(0.97 1)" text-anchor="middle">400</text>
<text transform="translate(1441.4 1563.5) scale(0.97 1)" text-anchor="middle">600</text>
<text transform="translate(1841.2 1563.5) scale(0.97 1)" text-anchor="middle">800</text>
<text transform="translate(2241 1563.5) scale(0.97 1)" text-anchor="middle">1000</text>
</g>
<text class="al" transform="translate(110 791) rotate(-90) scale(0.955 1)" text-anchor="middle">RMSD (Å)</text>
<text class="al" transform="translate(1240 1647) scale(0.955 1)" text-anchor="middle">Time (ns)</text>
<text class="pl" transform="translate(28 135) scale(0.86 1)" font-size="129">A</text>
<rect class="lbox" x="1437.7" y="188.8" width="724.3" height="235.5"/>
<path d="M1458 236H1541" stroke="#5a5aff" stroke-width="6.5" fill="none"/>
<text class="lt" x="1578" y="254">Protein (PDB ID: 7LBR)</text>
<path d="M1458 308H1541" stroke="#ff5a5a" stroke-width="6.5" fill="none"/>
<text class="lt" x="1578" y="326">Ligand XR8-89</text>
<path d="M1458 380H1541" stroke="#2aff5a" stroke-width="6.5" fill="none"/>
<text class="lt" x="1578" y="398">S4 binding pocket</text>
</g>
<g class="panel">
<rect class="frame" x="261.6" y="1787.5" width="2009" height="1404.1"/>
<path class="maj" d="M261.6 1784v46M261.6 3195.1v-46M663.4 1784v46M663.4 3195.1v-46M1065.2 1784v46M1065.2 3195.1v-46M1467 1784v46M1467 3195.1v-46M1868.8 1784v46M1868.8 3195.1v-46M2270.6 1784v46M2270.6 3195.1v-46M254.6 3125.3h47.5M2275.1 3125.3h-50M254.6 2991.5h47.5M2275.1 2991.5h-50M254.6 2857.7h47.5M2275.1 2857.7h-50M254.6 2723.9h47.5M2275.1 2723.9h-50M254.6 2590.1h47.5M2275.1 2590.1h-50M254.6 2456.3h47.5M2275.1 2456.3h-50M254.6 2322.5h47.5M2275.1 2322.5h-50M254.6 2188.7h47.5M2275.1 2188.7h-50M254.6 2054.9h47.5M2275.1 2054.9h-50M254.6 1921.1h47.5M2275.1 1921.1h-50M254.6 1787.3h47.5M2275.1 1787.3h-50"/>
<path class="mnr" d="M462.5 1785.5v26M462.5 3193.6v-26M864.3 1785.5v26M864.3 3193.6v-26M1266.1 1785.5v26M1266.1 3193.6v-26M1667.9 1785.5v26M1667.9 3193.6v-26M2069.7 1785.5v26M2069.7 3193.6v-26M258.1 3058.4h26M2274.1 3058.4h-26M258.1 2924.6h26M2274.1 2924.6h-26M258.1 2790.8h26M2274.1 2790.8h-26M258.1 2657h26M2274.1 2657h-26M258.1 2523.2h26M2274.1 2523.2h-26M258.1 2389.4h26M2274.1 2389.4h-26M258.1 2255.6h26M2274.1 2255.6h-26M258.1 2121.8h26M2274.1 2121.8h-26M258.1 1988h26M2274.1 1988h-26M258.1 1854.2h26M2274.1 1854.2h-26"/>
<g class="tl">
<text transform="translate(244.6 3151.8) scale(0.97 1)" text-anchor="end">0</text>
<text transform="translate(244.6 3018) scale(0.97 1)" text-anchor="end">1</text>
<text transform="translate(244.6 2884.2) scale(0.97 1)" text-anchor="end">2</text>
<text transform="translate(244.6 2750.4) scale(0.97 1)" text-anchor="end">3</text>
<text transform="translate(244.6 2616.6) scale(0.97 1)" text-anchor="end">4</text>
<text transform="translate(244.6 2482.8) scale(0.97 1)" text-anchor="end">5</text>
<text transform="translate(244.6 2349) scale(0.97 1)" text-anchor="end">6</text>
<text transform="translate(244.6 2215.2) scale(0.97 1)" text-anchor="end">7</text>
<text transform="translate(244.6 2081.4) scale(0.97 1)" text-anchor="end">8</text>
<text transform="translate(244.6 1947.6) scale(0.97 1)" text-anchor="end">9</text>
<text transform="translate(244.6 1813.8) scale(0.9021 1)" text-anchor="end">10</text>
<text transform="translate(264.1 3262.1) scale(0.97 1)" text-anchor="middle">0</text>
<text transform="translate(665.9 3262.1) scale(0.97 1)" text-anchor="middle">200</text>
<text transform="translate(1067.7 3262.1) scale(0.97 1)" text-anchor="middle">400</text>
<text transform="translate(1469.5 3262.1) scale(0.97 1)" text-anchor="middle">600</text>
<text transform="translate(1871.3 3262.1) scale(0.97 1)" text-anchor="middle">800</text>
<text transform="translate(2273.1 3262.1) scale(0.97 1)" text-anchor="middle">1000</text>
</g>
<text class="al" transform="translate(132 2489) rotate(-90) scale(0.955 1)" text-anchor="middle">RMSD (Å)</text>
<text class="al" transform="translate(1268 3345) scale(0.955 1)" text-anchor="middle">Time (ns)</text>
<text class="pl" transform="translate(26 1872) scale(0.88 1)" font-size="126">B</text>
<rect class="lbox" x="1465.8" y="1886.2" width="714.5" height="237.1"/>
<path d="M1488.8 1932.8H1569.5" stroke="#5a5aff" stroke-width="6.5" fill="none"/>
<text class="lt" x="1609" y="1950.8">Protein (PDB ID: 7QCI)</text>
<path d="M1488.8 2004.2H1569.5" stroke="#ff5a5a" stroke-width="6.5" fill="none"/>
<text class="lt" x="1609" y="2022.2">Ligand T2</text>
<path d="M1488.8 2076.8H1569.5" stroke="#2aff5a" stroke-width="6.5" fill="none"/>
<text class="lt" x="1609" y="2094.8">SUb2 binding pocket</text>
</g>
</g>
</svg>
</body>
</html>
